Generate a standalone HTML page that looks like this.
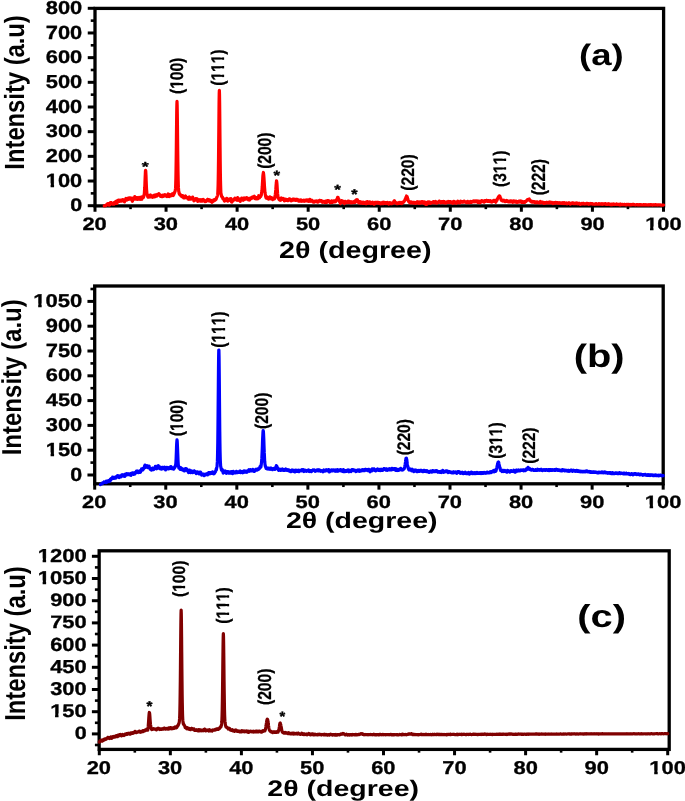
<!DOCTYPE html>
<html><head><meta charset="utf-8"><title>XRD patterns</title>
<style>html,body{margin:0;padding:0;background:#fff;}svg{display:block;}body{font-family:"Liberation Sans",sans-serif;}</style></head>
<body>
<svg width="685" height="801" viewBox="0 0 685 801" font-family="'Liberation Sans', sans-serif" text-rendering="geometricPrecision" style="font-kerning:none">
<rect width="685" height="801" fill="#fff"/>
<rect x="95.00" y="8.40" width="568.60" height="197.50" fill="none" stroke="#000" stroke-width="3.3"/>
<line x1="95.00" y1="205.90" x2="95.00" y2="211.75" stroke="#000" stroke-width="3.0"/>
<line x1="130.53" y1="205.90" x2="130.53" y2="209.15" stroke="#000" stroke-width="2.6"/>
<line x1="166.06" y1="205.90" x2="166.06" y2="211.75" stroke="#000" stroke-width="3.0"/>
<line x1="201.59" y1="205.90" x2="201.59" y2="209.15" stroke="#000" stroke-width="2.6"/>
<line x1="237.12" y1="205.90" x2="237.12" y2="211.75" stroke="#000" stroke-width="3.0"/>
<line x1="272.65" y1="205.90" x2="272.65" y2="209.15" stroke="#000" stroke-width="2.6"/>
<line x1="308.18" y1="205.90" x2="308.18" y2="211.75" stroke="#000" stroke-width="3.0"/>
<line x1="343.71" y1="205.90" x2="343.71" y2="209.15" stroke="#000" stroke-width="2.6"/>
<line x1="379.24" y1="205.90" x2="379.24" y2="211.75" stroke="#000" stroke-width="3.0"/>
<line x1="414.77" y1="205.90" x2="414.77" y2="209.15" stroke="#000" stroke-width="2.6"/>
<line x1="450.30" y1="205.90" x2="450.30" y2="211.75" stroke="#000" stroke-width="3.0"/>
<line x1="485.83" y1="205.90" x2="485.83" y2="209.15" stroke="#000" stroke-width="2.6"/>
<line x1="521.36" y1="205.90" x2="521.36" y2="211.75" stroke="#000" stroke-width="3.0"/>
<line x1="556.89" y1="205.90" x2="556.89" y2="209.15" stroke="#000" stroke-width="2.6"/>
<line x1="592.42" y1="205.90" x2="592.42" y2="211.75" stroke="#000" stroke-width="3.0"/>
<line x1="627.95" y1="205.90" x2="627.95" y2="209.15" stroke="#000" stroke-width="2.6"/>
<line x1="663.48" y1="205.90" x2="663.48" y2="211.75" stroke="#000" stroke-width="3.0"/>
<line x1="87.75" y1="205.70" x2="95.00" y2="205.70" stroke="#000" stroke-width="3.0"/>
<line x1="90.75" y1="193.36" x2="95.00" y2="193.36" stroke="#000" stroke-width="2.6"/>
<line x1="87.75" y1="181.02" x2="95.00" y2="181.02" stroke="#000" stroke-width="3.0"/>
<line x1="90.75" y1="168.69" x2="95.00" y2="168.69" stroke="#000" stroke-width="2.6"/>
<line x1="87.75" y1="156.35" x2="95.00" y2="156.35" stroke="#000" stroke-width="3.0"/>
<line x1="90.75" y1="144.01" x2="95.00" y2="144.01" stroke="#000" stroke-width="2.6"/>
<line x1="87.75" y1="131.67" x2="95.00" y2="131.67" stroke="#000" stroke-width="3.0"/>
<line x1="90.75" y1="119.34" x2="95.00" y2="119.34" stroke="#000" stroke-width="2.6"/>
<line x1="87.75" y1="107.00" x2="95.00" y2="107.00" stroke="#000" stroke-width="3.0"/>
<line x1="90.75" y1="94.66" x2="95.00" y2="94.66" stroke="#000" stroke-width="2.6"/>
<line x1="87.75" y1="82.32" x2="95.00" y2="82.32" stroke="#000" stroke-width="3.0"/>
<line x1="90.75" y1="69.99" x2="95.00" y2="69.99" stroke="#000" stroke-width="2.6"/>
<line x1="87.75" y1="57.65" x2="95.00" y2="57.65" stroke="#000" stroke-width="3.0"/>
<line x1="90.75" y1="45.31" x2="95.00" y2="45.31" stroke="#000" stroke-width="2.6"/>
<line x1="87.75" y1="32.97" x2="95.00" y2="32.97" stroke="#000" stroke-width="3.0"/>
<line x1="90.75" y1="20.64" x2="95.00" y2="20.64" stroke="#000" stroke-width="2.6"/>
<line x1="87.75" y1="8.30" x2="95.00" y2="8.30" stroke="#000" stroke-width="3.0"/>
<polyline points="104.24,205.92 104.38,205.96 104.52,205.75 104.66,205.80 104.81,205.74 104.95,205.81 105.09,205.86 105.23,205.68 105.37,205.56 105.52,205.66 105.66,205.59 105.80,205.43 105.94,205.60 106.09,205.31 106.23,205.35 106.37,204.94 106.51,205.16 106.65,204.64 106.80,204.93 106.94,204.34 107.08,204.77 107.22,204.34 107.36,203.98 107.51,204.24 107.65,204.37 107.79,204.12 107.93,204.25 108.08,204.46 108.22,204.39 108.36,203.69 108.50,204.32 108.64,204.54 108.79,204.52 108.93,204.73 109.07,204.29 109.21,205.22 109.35,204.75 109.50,204.63 109.64,204.87 109.78,204.72 109.92,204.20 110.06,203.72 110.21,203.93 110.35,203.48 110.49,202.51 110.63,202.68 110.78,203.10 110.92,202.94 111.06,202.93 111.20,202.99 111.34,202.89 111.49,203.51 111.63,203.00 111.77,203.23 111.91,203.63 112.05,203.94 112.20,203.89 112.34,204.05 112.48,203.35 112.62,203.82 112.77,203.53 112.91,203.03 113.05,203.41 113.19,204.24 113.33,203.88 113.48,203.54 113.62,202.96 113.76,203.43 113.90,203.33 114.04,203.50 114.19,204.17 114.33,203.52 114.47,203.23 114.61,202.61 114.75,202.35 114.90,202.52 115.04,202.25 115.18,203.33 115.32,202.02 115.47,201.88 115.61,202.46 115.75,202.00 115.89,201.44 116.03,202.51 116.18,202.23 116.32,202.17 116.46,203.12 116.60,203.51 116.74,203.52 116.89,203.50 117.03,203.13 117.17,202.07 117.31,201.21 117.45,200.66 117.60,201.26 117.74,201.67 117.88,201.47 118.02,201.51 118.17,201.58 118.31,200.77 118.45,201.08 118.59,200.02 118.73,200.79 118.88,200.60 119.02,200.34 119.16,200.24 119.30,200.11 119.44,200.72 119.59,201.28 119.73,200.79 119.87,201.26 120.01,200.78 120.16,201.11 120.30,200.61 120.44,201.11 120.58,200.86 120.72,201.00 120.87,200.56 121.01,200.25 121.15,200.48 121.29,200.91 121.43,201.02 121.58,200.30 121.72,200.74 121.86,200.73 122.00,200.60 122.14,199.87 122.29,200.59 122.43,200.11 122.57,200.94 122.71,200.81 122.86,200.76 123.00,199.57 123.14,200.80 123.28,200.85 123.42,200.13 123.57,201.00 123.71,200.69 123.85,200.61 123.99,200.44 124.13,200.34 124.28,200.59 124.42,201.95 124.56,200.88 124.70,200.74 124.85,200.28 124.99,200.14 125.13,200.03 125.27,199.76 125.41,200.21 125.56,199.49 125.70,199.64 125.84,198.58 125.98,199.09 126.12,198.44 126.27,199.00 126.41,199.00 126.55,199.00 126.69,200.09 126.83,199.76 126.98,199.87 127.12,199.29 127.26,199.40 127.40,198.87 127.55,198.83 127.69,198.55 127.83,198.29 127.97,198.15 128.11,198.99 128.26,199.30 128.40,199.35 128.54,198.62 128.68,199.09 128.82,198.81 128.97,198.58 129.11,198.44 129.25,197.96 129.39,198.33 129.54,198.76 129.68,198.38 129.82,198.19 129.96,198.86 130.10,199.00 130.25,198.10 130.39,198.42 130.53,198.78 130.67,198.37 130.81,198.34 130.96,197.94 131.10,198.87 131.24,199.29 131.38,198.66 131.52,198.56 131.67,198.64 131.81,199.80 131.95,199.88 132.09,199.92 132.24,201.06 132.38,201.26 132.52,200.75 132.66,199.39 132.80,199.57 132.95,199.39 133.09,198.23 133.23,198.87 133.37,199.15 133.51,199.09 133.66,198.52 133.80,198.62 133.94,199.34 134.08,199.06 134.23,198.84 134.37,198.53 134.51,197.73 134.65,197.31 134.79,196.67 134.94,197.78 135.08,198.46 135.22,197.53 135.36,197.64 135.50,198.18 135.65,198.17 135.79,197.61 135.93,197.97 136.07,197.96 136.21,199.28 136.36,198.26 136.50,198.77 136.64,199.09 136.78,198.99 136.93,198.73 137.07,198.72 137.21,197.70 137.35,198.11 137.49,198.03 137.64,198.27 137.78,199.44 137.92,197.83 138.06,198.65 138.20,197.95 138.35,198.90 138.49,198.85 138.63,198.14 138.77,198.98 138.92,198.09 139.06,198.41 139.20,197.90 139.34,197.42 139.48,197.52 139.63,197.83 139.77,198.31 139.91,198.33 140.05,199.38 140.19,198.61 140.34,198.32 140.48,198.04 140.62,197.79 140.76,197.30 140.90,197.23 141.05,197.97 141.19,197.93 141.33,198.12 141.47,198.60 141.62,199.15 141.76,199.25 141.90,198.93 142.04,198.04 142.18,197.77 142.33,197.19 142.47,197.05 142.61,196.62 142.75,196.85 142.89,196.99 143.04,197.04 143.18,197.08 143.32,197.05 143.46,197.52 143.61,196.65 143.75,196.08 143.89,196.13 144.03,195.06 144.17,194.32 144.32,193.76 144.46,191.63 144.60,189.01 144.74,187.74 144.88,184.92 145.03,180.18 145.17,176.79 145.31,174.12 145.45,170.86 145.59,170.32 145.74,170.90 145.88,173.52 146.02,176.02 146.16,180.74 146.31,184.01 146.45,187.55 146.59,189.84 146.73,191.10 146.87,193.24 147.02,193.71 147.16,194.78 147.30,194.90 147.44,195.56 147.58,195.94 147.73,196.59 147.87,196.83 148.01,196.38 148.15,196.71 148.30,197.22 148.44,196.79 148.58,196.26 148.72,196.42 148.86,196.28 149.01,196.72 149.15,196.32 149.29,196.39 149.43,197.03 149.57,195.61 149.72,195.63 149.86,195.24 150.00,195.18 150.14,195.99 150.28,195.66 150.43,196.21 150.57,195.04 150.71,195.65 150.85,196.74 151.00,196.77 151.14,196.91 151.28,196.86 151.42,196.50 151.56,196.43 151.71,196.40 151.85,196.66 151.99,196.32 152.13,196.64 152.27,197.21 152.42,196.37 152.56,196.65 152.70,197.28 152.84,196.69 152.98,196.45 153.13,197.03 153.27,196.11 153.41,195.52 153.55,196.00 153.70,196.64 153.84,195.37 153.98,195.64 154.12,196.04 154.26,195.85 154.41,196.89 154.55,196.24 154.69,195.86 154.83,196.17 154.97,195.66 155.12,195.69 155.26,195.91 155.40,196.73 155.54,194.92 155.69,195.88 155.83,196.19 155.97,195.92 156.11,196.34 156.25,195.75 156.40,195.61 156.54,195.47 156.68,195.17 156.82,196.09 156.96,194.99 157.11,195.37 157.25,195.20 157.39,195.07 157.53,194.40 157.67,194.98 157.82,195.05 157.96,194.93 158.10,195.08 158.24,194.60 158.39,194.34 158.53,194.62 158.67,194.69 158.81,194.01 158.95,193.70 159.10,193.95 159.24,194.81 159.38,194.87 159.52,194.24 159.66,194.70 159.81,195.09 159.95,195.41 160.09,194.78 160.23,195.08 160.38,195.84 160.52,196.35 160.66,196.14 160.80,195.25 160.94,195.97 161.09,195.81 161.23,196.03 161.37,195.83 161.51,195.83 161.65,195.95 161.80,196.57 161.94,196.09 162.08,195.92 162.22,195.78 162.36,195.50 162.51,195.71 162.65,196.29 162.79,196.14 162.93,196.57 163.08,195.89 163.22,195.75 163.36,195.11 163.50,195.85 163.64,195.01 163.79,196.24 163.93,195.41 164.07,195.65 164.21,195.13 164.35,195.45 164.50,195.25 164.64,195.97 164.78,195.57 164.92,194.96 165.07,194.61 165.21,195.25 165.35,195.17 165.49,195.01 165.63,195.73 165.78,195.51 165.92,195.70 166.06,195.53 166.20,195.67 166.34,195.84 166.49,195.53 166.63,196.51 166.77,196.55 166.91,195.47 167.05,195.88 167.20,196.01 167.34,195.39 167.48,195.51 167.62,194.76 167.77,194.81 167.91,194.26 168.05,194.36 168.19,193.96 168.33,194.26 168.48,195.03 168.62,195.47 168.76,196.05 168.90,195.99 169.04,195.90 169.19,196.49 169.33,196.04 169.47,196.54 169.61,196.37 169.76,195.75 169.90,194.71 170.04,195.02 170.18,195.36 170.32,195.09 170.47,195.63 170.61,195.75 170.75,195.82 170.89,195.54 171.03,195.06 171.18,195.03 171.32,195.24 171.46,195.73 171.60,195.51 171.74,194.96 171.89,194.41 172.03,194.20 172.17,193.92 172.31,194.13 172.46,194.35 172.60,193.81 172.74,195.13 172.88,195.28 173.02,195.32 173.17,195.50 173.31,195.21 173.45,194.87 173.59,194.04 173.73,194.50 173.88,194.38 174.02,193.80 174.16,192.84 174.30,193.24 174.45,192.95 174.59,192.34 174.73,192.28 174.87,191.78 175.01,191.37 175.16,191.37 175.30,190.30 175.44,189.18 175.58,188.14 175.72,183.75 175.87,178.44 176.01,170.62 176.15,161.87 176.29,150.57 176.43,137.06 176.58,124.10 176.72,111.74 176.86,104.69 177.00,101.38 177.15,104.89 177.29,113.31 177.43,124.36 177.57,137.97 177.71,150.69 177.86,162.06 178.00,171.49 178.14,178.45 178.28,184.37 178.42,187.66 178.57,189.19 178.71,191.34 178.85,191.69 178.99,192.06 179.14,193.58 179.28,193.05 179.42,194.21 179.56,194.02 179.70,194.46 179.85,194.46 179.99,194.85 180.13,194.67 180.27,194.85 180.41,194.82 180.56,195.22 180.70,194.73 180.84,195.33 180.98,195.84 181.12,195.55 181.27,196.04 181.41,195.98 181.55,196.35 181.69,196.62 181.84,196.23 181.98,195.86 182.12,196.02 182.26,195.92 182.40,195.79 182.55,196.23 182.69,195.57 182.83,197.06 182.97,196.74 183.11,196.79 183.26,197.13 183.40,197.55 183.54,197.81 183.68,197.45 183.82,197.75 183.97,197.18 184.11,197.72 184.25,197.49 184.39,197.24 184.54,197.60 184.68,197.81 184.82,197.38 184.96,196.55 185.10,197.27 185.25,196.41 185.39,196.36 185.53,195.99 185.67,196.53 185.81,196.71 185.96,196.70 186.10,196.71 186.24,196.88 186.38,196.94 186.53,197.64 186.67,197.25 186.81,197.57 186.95,197.72 187.09,197.69 187.24,197.95 187.38,197.55 187.52,198.32 187.66,198.44 187.80,198.18 187.95,198.99 188.09,198.26 188.23,198.93 188.37,199.06 188.51,198.84 188.66,199.11 188.80,199.23 188.94,198.62 189.08,198.40 189.23,198.52 189.37,197.77 189.51,196.99 189.65,197.50 189.79,198.24 189.94,198.04 190.08,197.84 190.22,197.66 190.36,198.63 190.50,199.18 190.65,198.25 190.79,198.02 190.93,199.13 191.07,198.75 191.22,198.77 191.36,198.68 191.50,198.39 191.64,198.81 191.78,198.91 191.93,198.45 192.07,197.85 192.21,198.19 192.35,197.50 192.49,197.50 192.64,197.03 192.78,198.05 192.92,198.52 193.06,199.15 193.20,199.11 193.35,199.70 193.49,199.54 193.63,200.30 193.77,200.48 193.92,200.81 194.06,200.48 194.20,200.21 194.34,200.50 194.48,200.30 194.63,199.96 194.77,200.32 194.91,200.31 195.05,199.88 195.19,199.92 195.34,199.42 195.48,198.69 195.62,198.61 195.76,198.62 195.91,199.08 196.05,199.25 196.19,199.04 196.33,199.45 196.47,198.85 196.62,199.21 196.76,199.90 196.90,199.61 197.04,199.93 197.18,198.95 197.33,199.23 197.47,199.83 197.61,200.83 197.75,201.36 197.89,200.84 198.04,201.01 198.18,200.78 198.32,200.60 198.46,200.91 198.61,200.37 198.75,200.96 198.89,200.40 199.03,199.84 199.17,200.13 199.32,199.94 199.46,200.24 199.60,200.23 199.74,199.97 199.88,200.63 200.03,200.71 200.17,200.67 200.31,200.99 200.45,201.15 200.60,200.60 200.74,200.27 200.88,200.80 201.02,200.14 201.16,199.73 201.31,200.38 201.45,199.94 201.59,200.76 201.73,200.50 201.87,201.11 202.02,200.59 202.16,200.67 202.30,200.96 202.44,200.26 202.58,199.58 202.73,200.35 202.87,199.53 203.01,200.34 203.15,199.65 203.30,199.35 203.44,200.60 203.58,199.88 203.72,200.48 203.86,200.81 204.01,200.06 204.15,200.73 204.29,200.67 204.43,201.20 204.57,201.08 204.72,200.73 204.86,201.32 205.00,201.68 205.14,201.30 205.29,201.53 205.43,201.05 205.57,201.14 205.71,201.20 205.85,201.04 206.00,201.42 206.14,201.27 206.28,201.20 206.42,201.13 206.56,200.89 206.71,200.27 206.85,200.82 206.99,200.81 207.13,200.01 207.27,199.59 207.42,199.41 207.56,200.01 207.70,199.83 207.84,199.53 207.99,199.97 208.13,199.91 208.27,200.20 208.41,199.98 208.55,200.01 208.70,200.88 208.84,200.75 208.98,199.82 209.12,200.07 209.26,200.28 209.41,200.32 209.55,199.99 209.69,200.82 209.83,200.01 209.98,200.99 210.12,201.14 210.26,200.91 210.40,200.96 210.54,201.36 210.69,201.28 210.83,200.37 210.97,200.56 211.11,201.09 211.25,200.75 211.40,200.66 211.54,200.59 211.68,200.84 211.82,200.95 211.96,202.37 212.11,201.05 212.25,201.96 212.39,201.48 212.53,201.28 212.68,201.17 212.82,200.86 212.96,201.48 213.10,201.00 213.24,200.70 213.39,200.56 213.53,200.57 213.67,199.98 213.81,200.26 213.95,200.13 214.10,200.56 214.24,200.53 214.38,199.61 214.52,200.15 214.67,200.52 214.81,199.64 214.95,199.60 215.09,200.30 215.23,199.81 215.38,199.62 215.52,199.25 215.66,199.65 215.80,199.29 215.94,199.45 216.09,199.30 216.23,199.05 216.37,198.32 216.51,197.88 216.65,197.70 216.80,197.25 216.94,197.13 217.08,196.62 217.22,196.41 217.37,195.87 217.51,195.26 217.65,194.48 217.79,193.10 217.93,189.80 218.08,186.04 218.22,179.79 218.36,171.07 218.50,160.41 218.64,146.60 218.79,131.93 218.93,116.55 219.07,101.77 219.21,93.68 219.36,90.25 219.50,94.18 219.64,102.70 219.78,116.87 219.92,132.56 220.07,147.31 220.21,161.60 220.35,172.34 220.49,180.17 220.63,185.82 220.78,189.98 220.92,193.48 221.06,194.93 221.20,194.22 221.34,195.03 221.49,196.31 221.63,196.26 221.77,196.24 221.91,196.82 222.06,196.76 222.20,196.93 222.34,197.14 222.48,197.01 222.62,198.20 222.77,197.89 222.91,198.78 223.05,198.93 223.19,198.83 223.33,198.99 223.48,199.04 223.62,198.51 223.76,199.16 223.90,199.64 224.04,199.24 224.19,199.61 224.33,200.84 224.47,201.05 224.61,200.52 224.76,201.05 224.90,200.68 225.04,200.85 225.18,200.19 225.32,200.03 225.47,199.69 225.61,199.92 225.75,199.71 225.89,199.42 226.03,199.42 226.18,199.16 226.32,199.46 226.46,198.68 226.60,198.29 226.75,198.30 226.89,198.83 227.03,198.40 227.17,199.30 227.31,199.81 227.46,199.85 227.60,200.78 227.74,201.16 227.88,200.82 228.02,200.44 228.17,200.52 228.31,199.94 228.45,200.14 228.59,199.85 228.73,199.99 228.88,199.73 229.02,199.16 229.16,199.47 229.30,199.37 229.45,199.18 229.59,199.12 229.73,199.77 229.87,198.95 230.01,199.82 230.16,200.23 230.30,200.51 230.44,199.32 230.58,199.90 230.72,199.96 230.87,199.58 231.01,198.69 231.15,200.54 231.29,200.84 231.44,201.75 231.58,201.94 231.72,201.95 231.86,201.80 232.00,202.11 232.15,201.59 232.29,200.89 232.43,200.84 232.57,200.94 232.71,200.76 232.86,200.47 233.00,200.18 233.14,200.08 233.28,200.11 233.42,199.97 233.57,199.51 233.71,199.47 233.85,200.19 233.99,199.38 234.14,199.07 234.28,199.28 234.42,199.56 234.56,199.25 234.70,198.41 234.85,198.19 234.99,198.61 235.13,198.71 235.27,199.08 235.41,199.68 235.56,199.37 235.70,199.29 235.84,199.29 235.98,199.19 236.13,198.75 236.27,198.56 236.41,198.48 236.55,198.86 236.69,199.57 236.84,199.55 236.98,198.79 237.12,200.37 237.26,199.78 237.40,199.16 237.55,199.03 237.69,197.71 237.83,197.86 237.97,198.76 238.11,199.24 238.26,199.40 238.40,198.51 238.54,198.93 238.68,199.33 238.83,198.87 238.97,200.17 239.11,199.55 239.25,200.18 239.39,199.90 239.54,200.58 239.68,200.49 239.82,200.93 239.96,200.17 240.10,200.62 240.25,201.32 240.39,199.90 240.53,200.09 240.67,199.77 240.82,199.09 240.96,198.82 241.10,199.22 241.24,199.07 241.38,198.82 241.53,198.66 241.67,198.11 241.81,198.50 241.95,199.38 242.09,199.40 242.24,198.81 242.38,198.83 242.52,199.61 242.66,200.02 242.80,199.75 242.95,199.81 243.09,200.02 243.23,200.19 243.37,199.92 243.52,200.05 243.66,198.86 243.80,199.28 243.94,199.03 244.08,198.11 244.23,198.96 244.37,197.97 244.51,198.04 244.65,199.51 244.79,199.04 244.94,198.73 245.08,199.06 245.22,198.96 245.36,198.13 245.51,198.69 245.65,198.99 245.79,198.39 245.93,198.39 246.07,198.12 246.22,198.46 246.36,197.93 246.50,197.84 246.64,197.65 246.78,197.80 246.93,198.24 247.07,198.38 247.21,198.11 247.35,198.00 247.49,198.71 247.64,198.93 247.78,199.46 247.92,199.05 248.06,199.29 248.21,199.53 248.35,199.80 248.49,199.15 248.63,199.05 248.77,198.66 248.92,198.89 249.06,199.50 249.20,199.61 249.34,199.85 249.48,199.01 249.63,200.04 249.77,199.13 249.91,199.39 250.05,198.07 250.20,198.59 250.34,198.04 250.48,198.65 250.62,198.21 250.76,198.60 250.91,197.96 251.05,198.79 251.19,197.91 251.33,198.61 251.47,197.65 251.62,197.35 251.76,197.89 251.90,197.31 252.04,197.41 252.18,197.04 252.33,197.47 252.47,197.72 252.61,197.51 252.75,197.98 252.90,196.86 253.04,197.83 253.18,197.21 253.32,197.71 253.46,196.90 253.61,196.67 253.75,196.67 253.89,196.85 254.03,196.88 254.17,196.43 254.32,196.24 254.46,196.94 254.60,197.36 254.74,196.72 254.88,197.24 255.03,197.64 255.17,198.66 255.31,198.55 255.45,198.46 255.60,198.42 255.74,197.91 255.88,198.77 256.02,198.12 256.16,197.92 256.31,198.80 256.45,197.53 256.59,198.44 256.73,198.01 256.87,197.66 257.02,198.10 257.16,197.78 257.30,198.19 257.44,197.94 257.59,197.60 257.73,198.82 257.87,197.55 258.01,197.93 258.15,197.42 258.30,197.53 258.44,196.70 258.58,196.64 258.72,195.71 258.86,197.08 259.01,196.73 259.15,196.22 259.29,196.99 259.43,196.97 259.57,197.84 259.72,196.95 259.86,197.16 260.00,196.95 260.14,196.90 260.29,196.50 260.43,196.23 260.57,196.48 260.71,196.46 260.85,195.37 261.00,195.08 261.14,195.10 261.28,195.27 261.42,193.95 261.56,192.66 261.71,192.55 261.85,191.31 261.99,190.22 262.13,187.85 262.28,186.55 262.42,183.46 262.56,181.75 262.70,179.16 262.84,176.47 262.99,174.90 263.13,174.06 263.27,173.15 263.41,172.47 263.55,173.54 263.70,174.69 263.84,176.32 263.98,178.16 264.12,180.47 264.26,182.47 264.41,185.11 264.55,187.35 264.69,188.96 264.83,190.77 264.98,192.31 265.12,193.43 265.26,194.58 265.40,194.80 265.54,195.79 265.69,196.65 265.83,196.95 265.97,197.65 266.11,197.58 266.25,198.15 266.40,197.62 266.54,197.24 266.68,197.84 266.82,198.08 266.97,196.94 267.11,197.68 267.25,197.85 267.39,198.29 267.53,198.56 267.68,198.09 267.82,197.73 267.96,198.63 268.10,198.86 268.24,198.79 268.39,198.77 268.53,198.26 268.67,199.19 268.81,197.72 268.95,197.41 269.10,198.07 269.24,197.67 269.38,197.70 269.52,197.49 269.67,197.84 269.81,197.64 269.95,196.85 270.09,197.72 270.23,197.30 270.38,197.44 270.52,198.78 270.66,198.54 270.80,198.03 270.94,198.60 271.09,198.22 271.23,198.46 271.37,198.10 271.51,197.68 271.66,197.94 271.80,198.68 271.94,198.33 272.08,198.92 272.22,198.76 272.37,199.32 272.51,199.66 272.65,199.11 272.79,199.18 272.93,198.82 273.08,198.21 273.22,198.50 273.36,198.69 273.50,198.88 273.64,198.58 273.79,199.06 273.93,198.60 274.07,198.81 274.21,198.72 274.36,198.25 274.50,198.89 274.64,198.41 274.78,197.92 274.92,197.24 275.07,195.73 275.21,194.95 275.35,193.80 275.49,193.12 275.63,191.22 275.78,189.95 275.92,187.48 276.06,185.61 276.20,184.01 276.35,182.78 276.49,180.82 276.63,181.18 276.77,182.10 276.91,183.46 277.06,185.40 277.20,187.96 277.34,190.04 277.48,191.63 277.62,193.90 277.77,194.76 277.91,195.97 278.05,197.35 278.19,198.22 278.33,198.25 278.48,198.15 278.62,197.97 278.76,198.22 278.90,199.28 279.05,199.03 279.19,198.64 279.33,199.85 279.47,199.57 279.61,199.89 279.76,199.64 279.90,198.82 280.04,199.37 280.18,199.63 280.32,199.68 280.47,200.31 280.61,199.62 280.75,199.87 280.89,199.94 281.04,199.66 281.18,199.06 281.32,198.73 281.46,197.99 281.60,198.71 281.75,198.47 281.89,198.76 282.03,198.49 282.17,199.00 282.31,198.83 282.46,198.96 282.60,199.25 282.74,199.17 282.88,198.98 283.02,198.59 283.17,198.30 283.31,198.95 283.45,199.18 283.59,198.83 283.74,198.97 283.88,199.74 284.02,200.00 284.16,199.66 284.30,200.81 284.45,199.42 284.59,199.92 284.73,200.36 284.87,200.57 285.01,199.46 285.16,199.78 285.30,200.24 285.44,200.08 285.58,199.36 285.73,199.57 285.87,199.37 286.01,199.91 286.15,199.54 286.29,199.32 286.44,199.54 286.58,200.06 286.72,199.60 286.86,200.40 287.00,200.45 287.15,200.35 287.29,200.32 287.43,200.56 287.57,200.35 287.71,200.63 287.86,200.58 288.00,200.62 288.14,199.82 288.28,199.73 288.43,199.41 288.57,199.81 288.71,199.49 288.85,199.06 288.99,198.99 289.14,199.12 289.28,199.59 289.42,199.26 289.56,199.22 289.70,199.08 289.85,199.27 289.99,199.83 290.13,199.08 290.27,199.19 290.41,200.12 290.56,200.07 290.70,199.73 290.84,200.72 290.98,200.23 291.13,200.91 291.27,199.82 291.41,200.24 291.55,200.77 291.69,200.20 291.84,200.07 291.98,200.18 292.12,200.02 292.26,199.73 292.40,199.52 292.55,200.17 292.69,200.01 292.83,199.67 292.97,199.22 293.12,199.45 293.26,199.55 293.40,199.83 293.54,200.16 293.68,199.46 293.83,199.65 293.97,199.44 294.11,199.63 294.25,199.39 294.39,199.76 294.54,200.05 294.68,199.59 294.82,199.64 294.96,199.82 295.10,199.34 295.25,200.32 295.39,199.30 295.53,199.59 295.67,199.40 295.82,200.16 295.96,199.54 296.10,199.54 296.24,200.31 296.38,199.69 296.53,199.49 296.67,199.66 296.81,199.65 296.95,199.28 297.09,199.39 297.24,199.31 297.38,199.61 297.52,199.71 297.66,199.83 297.81,199.62 297.95,200.00 298.09,199.76 298.23,200.44 298.37,200.46 298.52,200.46 298.66,201.23 298.80,200.62 298.94,200.87 299.08,200.81 299.23,200.91 299.37,200.46 299.51,200.37 299.65,200.05 299.79,200.63 299.94,200.32 300.08,201.20 300.22,200.72 300.36,200.09 300.51,200.82 300.65,200.43 300.79,200.71 300.93,200.02 301.07,200.70 301.22,200.66 301.36,200.24 301.50,200.14 301.64,200.33 301.78,200.57 301.93,201.26 302.07,201.12 302.21,201.07 302.35,200.58 302.50,200.59 302.64,200.84 302.78,200.69 302.92,200.54 303.06,200.52 303.21,200.75 303.35,200.38 303.49,200.38 303.63,200.24 303.77,200.35 303.92,200.41 304.06,200.99 304.20,200.78 304.34,201.26 304.48,200.77 304.63,201.16 304.77,200.43 304.91,200.75 305.05,200.86 305.20,200.65 305.34,200.72 305.48,200.39 305.62,200.53 305.76,200.29 305.91,200.40 306.05,200.32 306.19,200.11 306.33,200.30 306.47,200.44 306.62,200.05 306.76,200.46 306.90,200.80 307.04,200.35 307.19,200.57 307.33,200.58 307.47,200.15 307.61,200.78 307.75,201.14 307.90,200.10 308.04,201.04 308.18,200.20 308.32,200.95 308.46,200.19 308.61,201.27 308.75,201.18 308.89,200.97 309.03,201.31 309.17,200.93 309.32,200.66 309.46,200.72 309.60,200.25 309.74,199.25 309.89,199.85 310.03,200.30 310.17,200.41 310.31,201.10 310.45,200.28 310.60,201.11 310.74,201.03 310.88,201.21 311.02,200.58 311.16,200.57 311.31,200.88 311.45,200.94 311.59,200.40 311.73,201.05 311.88,200.95 312.02,201.18 312.16,200.21 312.30,201.18 312.44,200.86 312.59,201.05 312.73,201.49 312.87,201.82 313.01,201.47 313.15,201.50 313.30,202.01 313.44,201.48 313.58,201.80 313.72,201.80 313.86,201.56 314.01,201.80 314.15,202.23 314.29,201.62 314.43,201.59 314.58,201.38 314.72,201.70 314.86,201.41 315.00,201.09 315.14,201.35 315.29,201.71 315.43,201.24 315.57,201.56 315.71,201.16 315.85,201.71 316.00,201.17 316.14,201.28 316.28,201.07 316.42,201.44 316.57,201.19 316.71,200.88 316.85,201.43 316.99,201.11 317.13,201.97 317.28,201.88 317.42,201.77 317.56,202.06 317.70,201.13 317.84,202.16 317.99,201.43 318.13,201.68 318.27,202.09 318.41,200.80 318.55,201.07 318.70,201.21 318.84,201.17 318.98,200.51 319.12,200.65 319.27,201.29 319.41,200.70 319.55,201.02 319.69,200.47 319.83,200.59 319.98,200.34 320.12,200.93 320.26,201.20 320.40,200.92 320.54,200.84 320.69,201.00 320.83,201.06 320.97,200.83 321.11,201.04 321.26,201.40 321.40,201.46 321.54,200.66 321.68,200.71 321.82,201.82 321.97,201.80 322.11,202.10 322.25,202.16 322.39,202.02 322.53,202.28 322.68,202.26 322.82,202.21 322.96,201.52 323.10,202.03 323.24,201.61 323.39,201.55 323.53,201.70 323.67,201.45 323.81,202.13 323.96,201.70 324.10,201.78 324.24,201.82 324.38,202.10 324.52,202.13 324.67,202.51 324.81,202.40 324.95,202.20 325.09,201.43 325.23,201.49 325.38,201.41 325.52,201.03 325.66,201.60 325.80,201.59 325.94,201.78 326.09,202.00 326.23,201.86 326.37,202.47 326.51,202.33 326.66,201.90 326.80,202.19 326.94,202.27 327.08,201.76 327.22,201.66 327.37,201.73 327.51,200.62 327.65,200.75 327.79,200.99 327.93,201.07 328.08,200.65 328.22,201.14 328.36,201.51 328.50,200.96 328.65,200.93 328.79,201.02 328.93,200.79 329.07,201.27 329.21,201.23 329.36,201.45 329.50,201.81 329.64,201.60 329.78,201.82 329.92,202.03 330.07,202.59 330.21,201.82 330.35,202.26 330.49,202.13 330.63,202.37 330.78,202.60 330.92,202.43 331.06,202.38 331.20,202.00 331.35,201.53 331.49,201.31 331.63,200.88 331.77,201.31 331.91,201.35 332.06,201.91 332.20,202.15 332.34,201.86 332.48,202.02 332.62,202.35 332.77,201.81 332.91,201.98 333.05,201.96 333.19,201.55 333.34,202.08 333.48,201.38 333.62,201.71 333.76,201.48 333.90,200.80 334.05,201.54 334.19,201.53 334.33,201.72 334.47,201.50 334.61,201.32 334.76,201.36 334.90,201.41 335.04,201.71 335.18,201.43 335.32,201.83 335.47,201.71 335.61,201.24 335.75,201.52 335.89,200.39 336.04,200.76 336.18,200.20 336.32,200.13 336.46,200.23 336.60,199.74 336.75,199.49 336.89,199.66 337.03,198.85 337.17,198.58 337.31,198.73 337.46,198.30 337.60,197.46 337.74,197.66 337.88,197.69 338.03,197.46 338.17,197.60 338.31,198.04 338.45,198.43 338.59,198.61 338.74,199.51 338.88,199.33 339.02,200.22 339.16,201.31 339.30,200.89 339.45,201.61 339.59,201.35 339.73,202.02 339.87,202.18 340.01,202.72 340.16,202.76 340.30,203.55 340.44,202.59 340.58,202.61 340.73,202.44 340.87,202.30 341.01,202.11 341.15,201.26 341.29,202.17 341.44,201.37 341.58,201.14 341.72,200.77 341.86,200.98 342.00,200.75 342.15,201.41 342.29,201.33 342.43,201.71 342.57,201.53 342.72,201.81 342.86,202.35 343.00,202.02 343.14,201.70 343.28,201.35 343.43,201.97 343.57,201.38 343.71,201.74 343.85,202.75 343.99,202.51 344.14,203.32 344.28,203.18 344.42,203.49 344.56,203.26 344.70,202.80 344.85,202.35 344.99,202.55 345.13,202.66 345.27,202.20 345.42,201.25 345.56,201.82 345.70,201.71 345.84,201.81 345.98,201.89 346.13,202.46 346.27,201.96 346.41,202.58 346.55,202.08 346.69,201.99 346.84,202.28 346.98,202.32 347.12,202.24 347.26,202.26 347.41,202.51 347.55,202.30 347.69,201.97 347.83,201.80 347.97,201.36 348.12,201.09 348.26,201.07 348.40,201.45 348.54,201.36 348.68,201.69 348.83,202.08 348.97,202.10 349.11,202.34 349.25,201.75 349.39,201.44 349.54,201.77 349.68,202.64 349.82,202.32 349.96,202.03 350.11,202.54 350.25,202.10 350.39,202.69 350.53,202.15 350.67,202.16 350.82,202.47 350.96,201.98 351.10,202.26 351.24,202.85 351.38,202.40 351.53,201.94 351.67,202.13 351.81,202.15 351.95,201.91 352.10,202.23 352.24,202.51 352.38,202.24 352.52,202.51 352.66,202.40 352.81,202.41 352.95,202.10 353.09,202.49 353.23,202.53 353.37,201.96 353.52,201.77 353.66,202.10 353.80,201.95 353.94,202.18 354.08,201.97 354.23,201.74 354.37,201.33 354.51,202.05 354.65,202.06 354.80,201.81 354.94,201.85 355.08,201.83 355.22,202.37 355.36,201.76 355.51,200.63 355.65,200.93 355.79,200.63 355.93,200.42 356.07,200.24 356.22,199.96 356.36,200.15 356.50,200.20 356.64,199.91 356.79,200.43 356.93,199.97 357.07,199.81 357.21,200.16 357.35,199.80 357.50,200.19 357.64,200.36 357.78,200.88 357.92,201.38 358.06,200.95 358.21,201.99 358.35,202.17 358.49,202.21 358.63,202.61 358.77,202.65 358.92,202.58 359.06,202.52 359.20,202.82 359.34,202.64 359.49,201.85 359.63,201.87 359.77,201.56 359.91,202.13 360.05,201.97 360.20,202.02 360.34,203.00 360.48,202.94 360.62,203.10 360.76,202.97 360.91,202.73 361.05,202.65 361.19,202.75 361.33,202.50 361.48,202.22 361.62,202.45 361.76,203.01 361.90,202.43 362.04,202.30 362.19,202.77 362.33,202.38 362.47,203.36 362.61,202.77 362.75,202.72 362.90,202.61 363.04,203.04 363.18,202.26 363.32,202.57 363.46,202.16 363.61,202.99 363.75,202.67 363.89,203.27 364.03,202.80 364.18,202.69 364.32,202.88 364.46,203.39 364.60,202.92 364.74,203.08 364.89,202.67 365.03,202.52 365.17,202.42 365.31,202.88 365.45,202.33 365.60,202.90 365.74,203.22 365.88,202.98 366.02,202.96 366.16,203.77 366.31,203.63 366.45,202.87 366.59,202.40 366.73,202.75 366.88,202.29 367.02,202.07 367.16,202.18 367.30,201.63 367.44,202.05 367.59,201.93 367.73,201.98 367.87,202.66 368.01,202.73 368.15,203.28 368.30,202.24 368.44,202.95 368.58,202.74 368.72,203.17 368.87,202.94 369.01,202.53 369.15,202.36 369.29,202.08 369.43,202.22 369.58,202.31 369.72,201.81 369.86,203.09 370.00,202.84 370.14,203.33 370.29,203.23 370.43,203.15 370.57,203.36 370.71,202.80 370.85,203.06 371.00,203.61 371.14,203.30 371.28,203.00 371.42,203.47 371.57,203.16 371.71,203.24 371.85,203.40 371.99,202.38 372.13,202.30 372.28,202.30 372.42,202.12 372.56,202.39 372.70,202.33 372.84,202.68 372.99,202.34 373.13,203.16 373.27,203.70 373.41,203.17 373.56,203.56 373.70,203.94 373.84,204.21 373.98,204.24 374.12,203.61 374.27,203.68 374.41,204.22 374.55,203.55 374.69,203.70 374.83,203.26 374.98,203.19 375.12,202.43 375.26,202.96 375.40,202.38 375.54,202.63 375.69,202.61 375.83,203.23 375.97,203.04 376.11,202.91 376.26,202.63 376.40,202.42 376.54,202.97 376.68,202.64 376.82,202.87 376.97,203.20 377.11,202.87 377.25,202.84 377.39,202.50 377.53,202.99 377.68,202.77 377.82,202.75 377.96,203.09 378.10,202.28 378.25,202.82 378.39,203.08 378.53,203.08 378.67,203.13 378.81,203.18 378.96,202.64 379.10,203.05 379.24,203.40 379.38,203.07 379.52,203.03 379.67,203.32 379.81,202.61 379.95,203.21 380.09,203.52 380.23,203.09 380.38,203.06 380.52,203.55 380.66,203.40 380.80,203.42 380.95,203.81 381.09,203.18 381.23,203.69 381.37,203.04 381.51,203.09 381.66,203.31 381.80,202.97 381.94,202.94 382.08,203.13 382.22,203.06 382.37,203.10 382.51,202.26 382.65,202.89 382.79,202.41 382.94,203.32 383.08,203.69 383.22,203.36 383.36,203.71 383.50,203.61 383.65,203.14 383.79,202.81 383.93,203.20 384.07,202.22 384.21,202.69 384.36,202.96 384.50,202.82 384.64,203.25 384.78,203.28 384.92,203.04 385.07,203.43 385.21,203.17 385.35,202.66 385.49,202.93 385.64,203.12 385.78,203.08 385.92,202.54 386.06,203.62 386.20,202.53 386.35,202.63 386.49,203.03 386.63,202.90 386.77,203.20 386.91,202.78 387.06,202.76 387.20,202.79 387.34,202.46 387.48,202.37 387.63,202.67 387.77,203.14 387.91,202.85 388.05,203.42 388.19,203.15 388.34,203.73 388.48,203.76 388.62,204.20 388.76,204.20 388.90,203.99 389.05,203.55 389.19,203.76 389.33,203.14 389.47,203.03 389.61,202.96 389.76,202.58 389.90,202.64 390.04,202.90 390.18,203.30 390.33,202.70 390.47,202.82 390.61,202.95 390.75,203.22 390.89,203.15 391.04,203.33 391.18,203.74 391.32,203.25 391.46,203.51 391.60,203.14 391.75,203.36 391.89,203.51 392.03,202.79 392.17,203.34 392.32,203.35 392.46,203.23 392.60,203.26 392.74,203.25 392.88,202.71 393.03,202.96 393.17,203.10 393.31,203.19 393.45,202.38 393.59,202.24 393.74,201.69 393.88,201.73 394.02,201.14 394.16,200.89 394.30,201.30 394.45,201.85 394.59,200.82 394.73,202.02 394.87,201.50 395.02,202.13 395.16,202.22 395.30,202.64 395.44,202.42 395.58,202.41 395.73,202.77 395.87,203.12 396.01,202.73 396.15,203.15 396.29,203.10 396.44,203.20 396.58,203.20 396.72,203.45 396.86,203.58 397.00,203.36 397.15,203.42 397.29,203.00 397.43,203.34 397.57,203.09 397.72,203.62 397.86,203.06 398.00,203.08 398.14,203.34 398.28,203.40 398.43,203.40 398.57,202.76 398.71,202.99 398.85,203.15 398.99,202.60 399.14,202.80 399.28,202.55 399.42,202.73 399.56,203.12 399.71,202.98 399.85,202.82 399.99,202.75 400.13,203.29 400.27,203.05 400.42,202.47 400.56,203.41 400.70,202.74 400.84,202.85 400.98,202.79 401.13,202.81 401.27,203.18 401.41,202.63 401.55,203.07 401.69,203.01 401.84,203.60 401.98,203.26 402.12,203.24 402.26,203.15 402.41,203.06 402.55,202.82 402.69,202.00 402.83,202.67 402.97,202.38 403.12,202.58 403.26,202.37 403.40,202.03 403.54,201.81 403.68,201.65 403.83,201.88 403.97,201.62 404.11,201.22 404.25,201.15 404.40,201.09 404.54,200.70 404.68,200.69 404.82,200.37 404.96,199.60 405.11,200.08 405.25,199.70 405.39,199.44 405.53,199.10 405.67,198.08 405.82,198.00 405.96,197.50 406.10,197.05 406.24,196.94 406.38,196.72 406.53,195.99 406.67,196.72 406.81,196.35 406.95,196.40 407.10,196.67 407.24,197.15 407.38,197.31 407.52,198.36 407.66,198.66 407.81,198.78 407.95,199.73 408.09,200.03 408.23,200.42 408.37,201.02 408.52,201.02 408.66,201.22 408.80,201.64 408.94,201.17 409.09,201.48 409.23,202.18 409.37,202.55 409.51,201.97 409.65,202.59 409.80,202.55 409.94,202.66 410.08,202.79 410.22,202.92 410.36,202.86 410.51,202.50 410.65,202.27 410.79,202.23 410.93,201.77 411.07,202.48 411.22,202.13 411.36,202.23 411.50,202.59 411.64,202.08 411.79,202.95 411.93,202.58 412.07,202.47 412.21,202.46 412.35,202.53 412.50,202.62 412.64,202.93 412.78,202.69 412.92,203.08 413.06,203.06 413.21,203.11 413.35,202.47 413.49,202.72 413.63,202.49 413.78,202.58 413.92,202.60 414.06,202.55 414.20,202.66 414.34,202.70 414.49,203.00 414.63,202.75 414.77,202.86 414.91,202.51 415.05,202.75 415.20,203.06 415.34,203.19 415.48,202.72 415.62,203.06 415.76,203.09 415.91,203.26 416.05,203.20 416.19,203.16 416.33,203.06 416.48,202.91 416.62,202.95 416.76,202.24 416.90,202.01 417.04,202.47 417.19,202.38 417.33,202.18 417.47,201.90 417.61,202.48 417.75,201.98 417.90,202.74 418.04,202.66 418.18,202.71 418.32,202.87 418.47,203.30 418.61,202.90 418.75,202.24 418.89,202.34 419.03,201.77 419.18,202.28 419.32,202.41 419.46,202.58 419.60,202.07 419.74,203.16 419.89,203.22 420.03,202.84 420.17,202.23 420.31,202.43 420.45,202.86 420.60,203.04 420.74,202.23 420.88,201.85 421.02,202.13 421.17,202.96 421.31,202.47 421.45,202.13 421.59,201.99 421.73,202.57 421.88,202.45 422.02,201.94 422.16,201.86 422.30,201.77 422.44,201.69 422.59,201.87 422.73,202.09 422.87,202.32 423.01,203.05 423.16,203.06 423.30,203.11 423.44,203.22 423.58,201.98 423.72,202.47 423.87,202.64 424.01,202.24 424.15,202.10 424.29,202.33 424.43,202.04 424.58,201.91 424.72,202.02 424.86,202.39 425.00,202.65 425.14,203.17 425.29,203.20 425.43,203.34 425.57,204.37 425.71,203.35 425.86,203.21 426.00,203.12 426.14,202.84 426.28,202.47 426.42,203.21 426.57,203.81 426.71,203.17 426.85,203.72 426.99,204.30 427.13,203.98 427.28,204.02 427.42,203.57 427.56,203.00 427.70,202.95 427.85,202.58 427.99,202.79 428.13,201.88 428.27,202.61 428.41,202.79 428.56,202.40 428.70,202.40 428.84,202.23 428.98,202.51 429.12,202.42 429.27,202.15 429.41,202.22 429.55,202.04 429.69,202.93 429.83,203.00 429.98,203.39 430.12,203.30 430.26,203.41 430.40,202.70 430.55,202.40 430.69,202.60 430.83,202.52 430.97,202.55 431.11,202.46 431.26,202.49 431.40,202.59 431.54,202.69 431.68,202.72 431.82,202.78 431.97,202.56 432.11,202.67 432.25,202.30 432.39,202.40 432.53,202.64 432.68,202.69 432.82,202.24 432.96,201.92 433.10,202.43 433.25,201.81 433.39,201.55 433.53,201.85 433.67,201.89 433.81,201.64 433.96,202.29 434.10,202.95 434.24,202.23 434.38,202.15 434.52,202.62 434.67,202.28 434.81,202.16 434.95,202.50 435.09,201.73 435.24,201.97 435.38,202.05 435.52,201.90 435.66,201.45 435.80,201.71 435.95,202.65 436.09,202.33 436.23,202.48 436.37,203.04 436.51,202.35 436.66,202.80 436.80,202.31 436.94,203.15 437.08,202.48 437.22,202.76 437.37,202.42 437.51,202.65 437.65,202.65 437.79,202.51 437.94,202.36 438.08,202.44 438.22,202.21 438.36,202.05 438.50,202.26 438.65,202.23 438.79,201.54 438.93,201.53 439.07,201.49 439.21,201.68 439.36,201.11 439.50,201.81 439.64,201.46 439.78,201.72 439.93,202.15 440.07,201.94 440.21,202.47 440.35,202.71 440.49,202.89 440.64,202.20 440.78,202.81 440.92,202.54 441.06,202.39 441.20,202.51 441.35,202.00 441.49,201.87 441.63,202.00 441.77,201.53 441.91,201.77 442.06,202.00 442.20,201.83 442.34,201.97 442.48,201.89 442.63,201.97 442.77,202.62 442.91,201.81 443.05,201.97 443.19,201.89 443.34,201.43 443.48,201.35 443.62,201.48 443.76,202.39 443.90,202.05 444.05,202.46 444.19,202.78 444.33,202.57 444.47,202.67 444.62,202.21 444.76,202.15 444.90,202.75 445.04,202.77 445.18,202.11 445.33,202.72 445.47,202.50 445.61,202.66 445.75,202.72 445.89,202.98 446.04,202.28 446.18,202.43 446.32,202.76 446.46,202.33 446.60,202.54 446.75,202.36 446.89,201.92 447.03,202.22 447.17,202.61 447.32,202.21 447.46,201.88 447.60,202.04 447.74,202.08 447.88,202.06 448.03,201.89 448.17,201.82 448.31,201.46 448.45,201.65 448.59,201.68 448.74,201.83 448.88,202.14 449.02,202.41 449.16,201.97 449.31,202.31 449.45,202.31 449.59,201.68 449.73,201.76 449.87,202.05 450.02,201.65 450.16,202.56 450.30,201.57 450.44,201.77 450.58,202.35 450.73,201.98 450.87,202.42 451.01,202.00 451.15,202.60 451.29,202.20 451.44,202.59 451.58,202.69 451.72,202.05 451.86,202.24 452.01,202.04 452.15,202.27 452.29,202.91 452.43,202.75 452.57,203.08 452.72,203.32 452.86,203.31 453.00,202.84 453.14,202.14 453.28,201.76 453.43,201.57 453.57,201.33 453.71,201.33 453.85,201.39 454.00,201.50 454.14,201.83 454.28,202.56 454.42,202.46 454.56,202.87 454.71,202.08 454.85,202.45 454.99,202.22 455.13,202.31 455.27,201.99 455.42,202.50 455.56,202.62 455.70,202.79 455.84,202.77 455.98,202.93 456.13,203.09 456.27,203.20 456.41,203.00 456.55,202.87 456.70,202.77 456.84,202.15 456.98,202.55 457.12,202.05 457.26,201.60 457.41,201.42 457.55,201.59 457.69,201.56 457.83,201.25 457.97,202.43 458.12,201.67 458.26,202.70 458.40,202.52 458.54,201.95 458.69,202.45 458.83,202.37 458.97,202.23 459.11,202.04 459.25,202.09 459.40,202.20 459.54,202.13 459.68,202.48 459.82,202.88 459.96,202.49 460.11,202.85 460.25,201.74 460.39,201.97 460.53,201.39 460.67,201.13 460.82,201.74 460.96,201.67 461.10,201.70 461.24,201.65 461.39,201.95 461.53,201.63 461.67,201.99 461.81,201.90 461.95,201.71 462.10,202.14 462.24,201.54 462.38,202.14 462.52,202.10 462.66,202.17 462.81,202.07 462.95,202.24 463.09,201.94 463.23,201.68 463.38,202.02 463.52,201.67 463.66,201.74 463.80,201.82 463.94,201.43 464.09,201.82 464.23,201.05 464.37,201.65 464.51,201.22 464.65,201.71 464.80,201.76 464.94,201.85 465.08,201.95 465.22,202.10 465.36,201.92 465.51,202.18 465.65,202.12 465.79,202.23 465.93,202.42 466.08,202.30 466.22,202.51 466.36,202.31 466.50,202.16 466.64,202.29 466.79,202.21 466.93,201.66 467.07,201.83 467.21,202.58 467.35,201.75 467.50,201.78 467.64,201.35 467.78,201.83 467.92,202.08 468.06,201.94 468.21,201.87 468.35,202.01 468.49,201.63 468.63,202.29 468.78,202.09 468.92,202.30 469.06,202.32 469.20,202.31 469.34,202.76 469.49,202.39 469.63,201.93 469.77,202.18 469.91,202.11 470.05,201.89 470.20,202.25 470.34,201.81 470.48,201.47 470.62,201.65 470.77,202.03 470.91,201.74 471.05,202.15 471.19,201.85 471.33,202.44 471.48,202.40 471.62,202.35 471.76,202.22 471.90,202.07 472.04,202.14 472.19,201.75 472.33,201.42 472.47,201.42 472.61,201.64 472.75,201.58 472.90,201.95 473.04,201.37 473.18,201.80 473.32,201.50 473.47,201.20 473.61,201.38 473.75,201.32 473.89,201.24 474.03,201.10 474.18,200.86 474.32,201.22 474.46,201.37 474.60,201.79 474.74,201.50 474.89,201.50 475.03,201.84 475.17,201.46 475.31,201.33 475.46,201.50 475.60,201.61 475.74,201.43 475.88,200.95 476.02,201.25 476.17,201.57 476.31,201.12 476.45,201.53 476.59,201.38 476.73,201.15 476.88,201.57 477.02,200.86 477.16,200.98 477.30,201.32 477.44,202.04 477.59,202.05 477.73,202.47 477.87,202.50 478.01,202.38 478.16,202.05 478.30,201.91 478.44,202.07 478.58,201.85 478.72,201.25 478.87,201.71 479.01,202.07 479.15,201.76 479.29,201.35 479.43,201.76 479.58,201.82 479.72,201.88 479.86,202.38 480.00,202.63 480.15,202.40 480.29,202.55 480.43,202.23 480.57,202.13 480.71,202.32 480.86,201.64 481.00,201.69 481.14,201.47 481.28,201.28 481.42,200.85 481.57,201.12 481.71,200.56 481.85,201.02 481.99,200.99 482.13,201.22 482.28,201.25 482.42,201.33 482.56,201.46 482.70,201.59 482.85,201.45 482.99,201.42 483.13,201.17 483.27,201.31 483.41,201.20 483.56,201.41 483.70,201.53 483.84,201.79 483.98,202.15 484.12,202.04 484.27,201.68 484.41,201.81 484.55,201.58 484.69,201.24 484.84,201.05 484.98,200.59 485.12,200.71 485.26,200.99 485.40,201.04 485.55,200.80 485.69,201.25 485.83,200.60 485.97,201.26 486.11,200.63 486.26,200.65 486.40,200.45 486.54,200.40 486.68,200.78 486.82,200.54 486.97,201.04 487.11,201.29 487.25,201.32 487.39,201.29 487.54,200.86 487.68,200.66 487.82,200.69 487.96,201.15 488.10,200.97 488.25,200.55 488.39,201.44 488.53,201.26 488.67,201.43 488.81,201.49 488.96,201.52 489.10,200.80 489.24,201.18 489.38,200.96 489.53,201.56 489.67,201.25 489.81,201.07 489.95,200.99 490.09,200.54 490.24,201.03 490.38,200.79 490.52,201.43 490.66,201.41 490.80,201.34 490.95,201.39 491.09,201.86 491.23,201.54 491.37,201.92 491.51,201.71 491.66,201.59 491.80,201.74 491.94,202.05 492.08,201.21 492.23,201.68 492.37,201.60 492.51,201.30 492.65,201.63 492.79,201.37 492.94,201.26 493.08,200.82 493.22,201.10 493.36,200.59 493.50,200.93 493.65,201.28 493.79,200.57 493.93,201.11 494.07,200.48 494.22,200.73 494.36,200.91 494.50,200.52 494.64,201.02 494.78,200.86 494.93,200.99 495.07,201.41 495.21,201.35 495.35,201.60 495.49,201.65 495.64,201.86 495.78,202.25 495.92,201.85 496.06,201.47 496.20,201.24 496.35,201.08 496.49,200.70 496.63,199.76 496.77,200.07 496.92,200.00 497.06,200.29 497.20,199.34 497.34,199.17 497.48,198.72 497.63,198.72 497.77,198.07 497.91,198.00 498.05,197.88 498.19,197.27 498.34,197.23 498.48,196.83 498.62,196.98 498.76,196.79 498.91,196.69 499.05,196.09 499.19,196.13 499.33,196.49 499.47,195.86 499.62,196.48 499.76,196.05 499.90,196.74 500.04,196.44 500.18,197.02 500.33,197.41 500.47,197.74 500.61,197.75 500.75,198.64 500.89,198.96 501.04,199.76 501.18,199.94 501.32,199.69 501.46,200.32 501.61,200.62 501.75,200.43 501.89,200.34 502.03,200.22 502.17,200.49 502.32,200.43 502.46,200.63 502.60,200.65 502.74,201.03 502.88,200.55 503.03,200.80 503.17,200.43 503.31,200.69 503.45,200.80 503.59,200.38 503.74,200.29 503.88,200.72 504.02,200.87 504.16,200.87 504.31,201.26 504.45,201.33 504.59,201.45 504.73,200.99 504.87,201.45 505.02,201.55 505.16,201.08 505.30,201.65 505.44,201.18 505.58,200.76 505.73,200.72 505.87,200.71 506.01,200.64 506.15,200.75 506.30,200.88 506.44,200.79 506.58,200.78 506.72,200.65 506.86,200.46 507.01,200.84 507.15,200.81 507.29,201.35 507.43,200.71 507.57,201.57 507.72,200.78 507.86,201.45 508.00,201.58 508.14,201.41 508.28,201.52 508.43,201.96 508.57,201.50 508.71,201.69 508.85,201.70 509.00,201.80 509.14,201.36 509.28,201.89 509.42,201.54 509.56,201.77 509.71,201.21 509.85,201.73 509.99,201.44 510.13,201.59 510.27,201.24 510.42,201.53 510.56,201.32 510.70,200.86 510.84,201.86 510.99,201.23 511.13,201.52 511.27,201.43 511.41,201.42 511.55,201.46 511.70,201.71 511.84,201.69 511.98,201.67 512.12,201.10 512.26,201.60 512.41,201.26 512.55,202.25 512.69,202.00 512.83,202.32 512.97,202.24 513.12,202.23 513.26,201.80 513.40,202.14 513.54,201.40 513.69,201.47 513.83,200.82 513.97,201.02 514.11,201.03 514.25,201.15 514.40,201.12 514.54,201.42 514.68,201.51 514.82,201.15 514.96,201.52 515.11,201.46 515.25,202.09 515.39,201.71 515.53,201.97 515.68,201.79 515.82,201.64 515.96,201.13 516.10,201.79 516.24,201.41 516.39,201.71 516.53,201.92 516.67,201.61 516.81,201.74 516.95,202.44 517.10,202.39 517.24,201.70 517.38,201.76 517.52,201.87 517.66,201.54 517.81,201.81 517.95,201.67 518.09,201.55 518.23,201.73 518.38,201.50 518.52,201.89 518.66,201.45 518.80,201.83 518.94,202.05 519.09,201.12 519.23,201.81 519.37,201.10 519.51,201.33 519.65,201.66 519.80,201.43 519.94,201.28 520.08,201.15 520.22,201.14 520.37,201.23 520.51,201.13 520.65,201.14 520.79,200.98 520.93,201.73 521.08,201.59 521.22,202.22 521.36,202.21 521.50,202.38 521.64,202.29 521.79,202.35 521.93,202.31 522.07,202.16 522.21,202.02 522.35,201.50 522.50,201.84 522.64,201.87 522.78,201.82 522.92,201.85 523.07,201.59 523.21,201.74 523.35,202.24 523.49,201.77 523.63,201.88 523.78,201.84 523.92,202.00 524.06,201.92 524.20,202.40 524.34,201.75 524.49,202.20 524.63,201.79 524.77,201.93 524.91,202.37 525.06,201.86 525.20,201.86 525.34,201.28 525.48,201.77 525.62,201.71 525.77,201.63 525.91,201.49 526.05,201.05 526.19,200.90 526.33,201.04 526.48,200.72 526.62,200.65 526.76,200.64 526.90,200.38 527.04,200.23 527.19,199.87 527.33,200.00 527.47,199.58 527.61,200.20 527.76,199.64 527.90,200.08 528.04,199.45 528.18,199.36 528.32,199.50 528.47,199.19 528.61,199.11 528.75,199.00 528.89,199.03 529.03,198.98 529.18,199.04 529.32,198.93 529.46,199.35 529.60,199.47 529.75,200.15 529.89,200.54 530.03,200.74 530.17,200.37 530.31,200.71 530.46,200.87 530.60,200.71 530.74,201.41 530.88,201.33 531.02,201.32 531.17,201.80 531.31,201.67 531.45,201.66 531.59,201.90 531.73,201.88 531.88,202.10 532.02,201.70 532.16,201.99 532.30,201.77 532.45,201.68 532.59,201.63 532.73,201.67 532.87,201.35 533.01,201.79 533.16,201.63 533.30,202.00 533.44,201.68 533.58,201.92 533.72,201.79 533.87,201.83 534.01,201.68 534.15,201.87 534.29,201.98 534.44,201.76 534.58,202.29 534.72,202.34 534.86,202.66 535.00,202.82 535.15,202.47 535.29,202.65 535.43,202.57 535.57,202.38 535.71,202.08 535.86,202.18 536.00,202.49 536.14,202.49 536.28,202.43 536.42,201.92 536.57,201.83 536.71,202.58 536.85,202.38 536.99,202.49 537.14,202.35 537.28,202.18 537.42,202.34 537.56,202.28 537.70,202.59 537.85,202.49 537.99,202.18 538.13,202.25 538.27,202.62 538.41,202.65 538.56,202.58 538.70,202.64 538.84,202.39 538.98,202.50 539.12,202.79 539.27,202.39 539.41,202.85 539.55,202.90 539.69,202.84 539.84,202.69 539.98,202.70 540.12,202.23 540.26,201.85 540.40,201.51 540.55,201.60 540.69,202.21 540.83,202.55 540.97,202.27 541.11,202.80 541.26,202.69 541.40,202.70 541.54,202.70 541.68,202.60 541.83,202.30 541.97,202.57 542.11,202.40 542.25,202.07 542.39,202.53 542.54,202.66 542.68,202.30 542.82,202.73 542.96,202.34 543.10,202.74 543.25,203.18 543.39,203.35 543.53,203.38 543.67,203.33 543.81,202.92 543.96,202.97 544.10,202.87 544.24,202.72 544.38,202.61 544.53,202.82 544.67,202.88 544.81,203.04 544.95,202.80 545.09,203.30 545.24,202.98 545.38,203.03 545.52,203.05 545.66,203.03 545.80,202.71 545.95,202.76 546.09,202.78 546.23,202.56 546.37,202.52 546.52,202.45 546.66,202.34 546.80,202.30 546.94,202.52 547.08,202.68 547.23,202.46 547.37,202.90 547.51,202.66 547.65,202.91 547.79,202.97 547.94,202.99 548.08,202.71 548.22,202.77 548.36,202.68 548.50,202.93 548.65,202.82 548.79,202.44 548.93,202.83 549.07,202.82 549.22,202.42 549.36,202.37 549.50,202.31 549.64,201.98 549.78,201.96 549.93,202.24 550.07,202.21 550.21,202.38 550.35,202.52 550.49,202.91 550.64,202.73 550.78,202.76 550.92,202.64 551.06,202.93 551.21,202.76 551.35,202.75 551.49,202.93 551.63,202.89 551.77,202.47 551.92,202.53 552.06,202.74 552.20,202.52 552.34,203.02 552.48,202.91 552.63,203.42 552.77,203.11 552.91,203.12 553.05,203.09 553.19,203.54 553.34,202.99 553.48,202.93 553.62,202.80 553.76,202.72 553.91,202.86 554.05,202.85 554.19,202.73 554.33,202.74 554.47,203.04 554.62,202.99 554.76,203.01 554.90,203.06 555.04,202.84 555.18,203.02 555.33,203.14 555.47,202.72 555.61,203.05 555.75,202.43 555.90,202.49 556.04,202.54 556.18,202.62 556.32,202.63 556.46,202.71 556.61,202.92 556.75,202.68 556.89,202.76 557.03,202.67 557.17,202.67 557.32,202.94 557.46,202.90 557.60,203.21 557.74,203.10 557.88,202.82 558.03,203.23 558.17,202.95 558.31,203.08 558.45,202.97 558.60,202.97 558.74,202.96 558.88,202.83 559.02,202.86 559.16,202.89 559.31,203.07 559.45,203.10 559.59,203.28 559.73,202.79 559.87,203.00 560.02,203.23 560.16,202.81 560.30,202.89 560.44,202.96 560.59,203.02 560.73,202.82 560.87,202.88 561.01,202.91 561.15,203.13 561.30,203.15 561.44,203.29 561.58,203.16 561.72,203.18 561.86,203.00 562.01,202.91 562.15,202.89 562.29,202.83 562.43,202.90 562.57,202.97 562.72,202.88 562.86,203.21 563.00,203.26 563.14,203.44 563.29,202.81 563.43,202.90 563.57,202.91 563.71,202.87 563.85,202.96 564.00,202.85 564.14,202.88 564.28,203.13 564.42,203.02 564.56,202.83 564.71,203.24 564.85,203.46 564.99,203.34 565.13,203.19 565.28,203.45 565.42,203.28 565.56,203.18 565.70,203.20 565.84,203.28 565.99,203.05 566.13,202.92 566.27,202.83 566.41,203.23 566.55,203.24 566.70,203.56 566.84,203.55 566.98,203.81 567.12,203.68 567.26,203.60 567.41,203.42 567.55,203.63 567.69,203.45 567.83,203.24 567.98,203.14 568.12,203.44 568.26,203.26 568.40,203.37 568.54,203.44 568.69,203.21 568.83,203.30 568.97,203.28 569.11,203.13 569.25,203.13 569.40,203.12 569.54,202.85 569.68,203.37 569.82,203.77 569.97,203.79 570.11,204.14 570.25,203.77 570.39,203.87 570.53,203.66 570.68,203.63 570.82,203.61 570.96,203.76 571.10,203.76 571.24,203.35 571.39,203.66 571.53,203.64 571.67,203.57 571.81,203.22 571.95,203.35 572.10,203.29 572.24,203.00 572.38,202.96 572.52,203.39 572.67,203.05 572.81,203.11 572.95,202.96 573.09,203.18 573.23,203.49 573.38,203.41 573.52,203.30 573.66,203.47 573.80,203.57 573.94,203.65 574.09,203.45 574.23,203.58 574.37,203.40 574.51,203.37 574.65,203.28 574.80,203.24 574.94,203.38 575.08,203.07 575.22,203.29 575.37,203.59 575.51,203.10 575.65,203.17 575.79,203.20 575.93,203.41 576.08,203.04 576.22,203.29 576.36,203.21 576.50,203.50 576.64,203.24 576.79,203.54 576.93,203.19 577.07,203.38 577.21,203.23 577.36,203.33 577.50,203.28 577.64,203.43 577.78,203.71 577.92,203.49 578.07,203.84 578.21,203.70 578.35,203.52 578.49,203.46 578.63,203.47 578.78,203.34 578.92,203.54 579.06,203.51 579.20,203.29 579.34,203.57 579.49,203.66 579.63,203.72 579.77,203.87 579.91,203.95 580.06,204.01 580.20,204.31 580.34,204.40 580.48,204.15 580.62,204.24 580.77,203.98 580.91,204.22 581.05,203.93 581.19,203.92 581.33,203.92 581.48,203.63 581.62,203.59 581.76,203.59 581.90,203.38 582.05,203.54 582.19,203.69 582.33,203.65 582.47,203.59 582.61,203.70 582.76,203.71 582.90,203.73 583.04,203.80 583.18,203.53 583.32,203.70 583.47,203.73 583.61,203.87 583.75,203.52 583.89,203.58 584.03,203.78 584.18,203.67 584.32,203.85 584.46,203.77 584.60,203.75 584.75,203.87 584.89,204.07 585.03,204.01 585.17,203.90 585.31,203.84 585.46,203.89 585.60,203.79 585.74,203.70 585.88,203.76 586.02,203.69 586.17,203.56 586.31,203.79 586.45,203.83 586.59,203.85 586.74,203.69 586.88,203.57 587.02,203.75 587.16,203.64 587.30,203.50 587.45,203.74 587.59,203.65 587.73,203.75 587.87,203.71 588.01,203.86 588.16,203.90 588.30,203.92 588.44,204.05 588.58,203.92 588.72,204.29 588.87,203.90 589.01,204.15 589.15,204.16 589.29,204.00 589.44,204.04 589.58,203.88 589.72,203.91 589.86,203.92 590.00,203.68 590.15,203.53 590.29,203.63 590.43,203.50 590.57,203.53 590.71,203.65 590.86,203.56 591.00,203.85 591.14,203.89 591.28,203.79 591.43,203.72 591.57,203.76 591.71,203.75 591.85,203.67 591.99,203.68 592.14,203.85 592.28,203.77 592.42,203.86 592.56,203.94 592.70,203.95 592.85,204.10 592.99,203.92 593.13,204.13 593.27,204.09 593.41,204.00 593.56,204.07 593.70,204.12 593.84,204.00 593.98,204.06 594.13,204.03 594.27,204.08 594.41,204.08 594.55,204.09 594.69,204.11 594.84,204.24 594.98,204.03 595.12,204.06 595.26,203.88 595.40,204.01 595.55,203.80 595.69,203.71 595.83,203.64 595.97,203.68 596.12,203.72 596.26,203.86 596.40,204.10 596.54,204.02 596.68,204.02 596.83,203.91 596.97,204.08 597.11,203.99 597.25,204.00 597.39,204.09 597.54,204.11 597.68,204.14 597.82,204.21 597.96,204.02 598.10,204.06 598.25,204.05 598.39,203.98 598.53,203.96 598.67,203.88 598.82,203.97 598.96,203.75 599.10,204.05 599.24,203.70 599.38,204.02 599.53,203.84 599.67,204.00 599.81,203.98 599.95,204.07 600.09,204.09 600.24,203.98 600.38,203.94 600.52,203.88 600.66,203.89 600.81,203.89 600.95,203.91 601.09,203.98 601.23,204.06 601.37,203.92 601.52,203.83 601.66,204.02 601.80,204.17 601.94,204.03 602.08,204.20 602.23,204.08 602.37,204.07 602.51,204.21 602.65,204.02 602.79,204.16 602.94,203.95 603.08,204.07 603.22,204.16 603.36,204.04 603.51,203.99 603.65,204.06 603.79,203.90 603.93,203.86 604.07,203.90 604.22,203.91 604.36,203.90 604.50,203.85 604.64,203.95 604.78,203.88 604.93,203.79 605.07,203.99 605.21,203.62 605.35,203.81 605.50,203.78 605.64,204.10 605.78,204.00 605.92,204.11 606.06,204.13 606.21,204.28 606.35,204.16 606.49,204.35 606.63,204.17 606.77,204.43 606.92,204.49 607.06,204.43 607.20,204.37 607.34,204.12 607.48,204.26 607.63,204.19 607.77,204.29 607.91,204.14 608.05,204.08 608.20,204.08 608.34,203.94 608.48,203.77 608.62,203.86 608.76,203.80 608.91,204.13 609.05,204.05 609.19,204.01 609.33,204.20 609.47,204.16 609.62,204.22 609.76,204.39 609.90,204.15 610.04,204.24 610.18,204.40 610.33,204.42 610.47,204.58 610.61,204.50 610.75,204.61 610.90,204.70 611.04,204.42 611.18,204.41 611.32,204.46 611.46,204.48 611.61,204.39 611.75,204.49 611.89,204.38 612.03,204.52 612.17,204.44 612.32,204.44 612.46,204.40 612.60,204.39 612.74,204.24 612.89,204.35 613.03,204.22 613.17,204.46 613.31,204.23 613.45,204.21 613.60,204.21 613.74,204.40 613.88,204.09 614.02,204.34 614.16,204.24 614.31,204.46 614.45,204.25 614.59,204.24 614.73,204.30 614.87,204.26 615.02,204.26 615.16,204.38 615.30,204.29 615.44,204.40 615.59,204.37 615.73,204.39 615.87,204.43 616.01,204.38 616.15,204.21 616.30,204.40 616.44,204.12 616.58,204.44 616.72,204.47 616.86,204.31 617.01,204.52 617.15,204.26 617.29,204.48 617.43,204.36 617.58,204.36 617.72,204.35 617.86,204.33 618.00,204.45 618.14,204.42 618.29,204.44 618.43,204.47 618.57,204.46 618.71,204.44 618.85,204.60 619.00,204.65 619.14,204.52 619.28,204.72 619.42,204.75 619.56,204.65 619.71,204.73 619.85,204.44 619.99,204.69 620.13,204.51 620.28,204.58 620.42,204.48 620.56,204.73 620.70,204.51 620.84,204.59 620.99,204.41 621.13,204.49 621.27,204.53 621.41,204.47 621.55,204.41 621.70,204.56 621.84,204.30 621.98,204.39 622.12,204.34 622.27,204.29 622.41,204.34 622.55,204.31 622.69,204.32 622.83,204.42 622.98,204.41 623.12,204.49 623.26,204.58 623.40,204.53 623.54,204.53 623.69,204.50 623.83,204.67 623.97,204.66 624.11,204.61 624.25,204.56 624.40,204.44 624.54,204.47 624.68,204.45 624.82,204.30 624.97,204.38 625.11,204.50 625.25,204.71 625.39,204.65 625.53,204.58 625.68,204.79 625.82,204.72 625.96,204.67 626.10,204.54 626.24,204.54 626.39,204.66 626.53,204.61 626.67,204.87 626.81,204.44 626.96,204.47 627.10,204.58 627.24,204.54 627.38,204.55 627.52,204.63 627.67,204.66 627.81,204.45 627.95,204.57 628.09,204.57 628.23,204.51 628.38,204.57 628.52,204.53 628.66,204.37 628.80,204.47 628.94,204.56 629.09,204.55 629.23,204.69 629.37,204.86 629.51,204.90 629.66,204.80 629.80,204.90 629.94,204.69 630.08,204.64 630.22,204.44 630.37,204.57 630.51,204.51 630.65,204.58 630.79,204.61 630.93,204.61 631.08,204.78 631.22,204.63 631.36,204.73 631.50,204.59 631.65,204.70 631.79,204.60 631.93,204.65 632.07,204.52 632.21,204.66 632.36,204.69 632.50,204.68 632.64,204.68 632.78,204.62 632.92,204.42 633.07,204.65 633.21,204.51 633.35,204.50 633.49,204.59 633.63,204.40 633.78,204.54 633.92,204.64 634.06,204.61 634.20,204.61 634.35,204.60 634.49,204.70 634.63,204.62 634.77,204.71 634.91,204.83 635.06,204.75 635.20,204.83 635.34,204.83 635.48,204.80 635.62,204.78 635.77,204.88 635.91,204.82 636.05,204.75 636.19,204.75 636.34,204.71 636.48,204.67 636.62,204.63 636.76,204.56 636.90,204.74 637.05,204.70 637.19,204.74 637.33,204.63 637.47,204.80 637.61,204.90 637.76,204.81 637.90,204.87 638.04,204.79 638.18,204.83 638.32,204.78 638.47,204.79 638.61,204.73 638.75,204.70 638.89,204.60 639.04,204.61 639.18,204.72 639.32,204.90 639.46,204.72 639.60,204.84 639.75,204.89 639.89,204.74 640.03,204.65 640.17,204.74 640.31,204.68 640.46,204.61 640.60,204.78 640.74,204.76 640.88,204.75 641.03,204.70 641.17,204.88 641.31,204.89 641.45,204.87 641.59,204.91 641.74,204.76 641.88,204.76 642.02,204.86 642.16,204.86 642.30,204.84 642.45,204.84 642.59,204.94 642.73,204.91 642.87,204.95 643.01,204.82 643.16,204.87 643.30,204.87 643.44,204.89 643.58,204.73 643.73,204.78 643.87,204.72 644.01,204.73 644.15,204.70 644.29,204.70 644.44,204.72 644.58,204.73 644.72,204.75 644.86,204.84 645.00,204.91 645.15,204.87 645.29,204.79 645.43,204.90 645.57,204.82 645.72,204.86 645.86,204.68 646.00,204.69 646.14,204.74 646.28,204.78 646.43,204.74 646.57,204.90 646.71,204.81 646.85,204.76 646.99,204.92 647.14,204.88 647.28,204.97 647.42,204.91 647.56,204.90 647.70,204.84 647.85,204.87 647.99,204.91 648.13,205.02 648.27,204.93 648.42,204.84 648.56,204.92 648.70,204.85 648.84,204.71 648.98,204.70 649.13,204.72 649.27,204.80 649.41,204.87 649.55,204.87 649.69,204.90 649.84,204.92 649.98,204.96 650.12,204.97 650.26,204.86 650.40,204.96 650.55,204.84 650.69,204.85 650.83,204.92 650.97,204.85 651.12,204.79 651.26,204.67 651.40,204.75 651.54,204.75 651.68,204.77 651.83,204.85 651.97,204.79 652.11,204.92 652.25,204.86 652.39,204.90 652.54,204.90 652.68,204.96 652.82,205.05 652.96,205.02 653.11,204.94 653.25,204.92 653.39,204.99 653.53,204.93 653.67,204.83 653.82,204.86 653.96,204.88 654.10,204.91 654.24,204.85 654.38,204.91 654.53,204.85 654.67,204.87 654.81,204.89 654.95,204.96 655.09,204.88 655.24,204.96 655.38,204.88 655.52,204.91 655.66,204.82 655.81,204.72 655.95,204.69 656.09,204.75 656.23,204.87 656.37,204.80 656.52,204.81 656.66,204.88 656.80,204.85 656.94,204.87 657.08,204.91 657.23,204.94 657.37,204.91 657.51,204.91 657.65,205.03 657.80,204.92 657.94,204.92 658.08,204.95 658.22,204.95 658.36,204.97 658.51,205.02 658.65,205.01 658.79,204.94 658.93,204.95 659.07,204.98 659.22,204.93 659.36,204.91 659.50,204.83 659.64,204.87 659.78,204.82 659.93,204.74 660.07,204.82 660.21,204.96 660.35,204.93 660.50,204.93 660.64,205.07 660.78,205.08 660.92,205.06 661.06,205.11 661.21,205.08 661.35,205.13 661.49,205.00 661.63,205.01 661.77,205.03 661.92,205.05 662.06,205.00 662.20,205.07 662.34,205.00 662.49,205.04 662.63,205.06 662.77,205.09 662.91,205.09 663.05,205.06 663.20,205.09 663.34,205.07 663.48,205.03" fill="none" stroke="#ff0000" stroke-width="3.2" stroke-linejoin="round" stroke-linecap="round"/>
<rect x="94.70" y="286.00" width="568.50" height="197.80" fill="none" stroke="#000" stroke-width="3.3"/>
<line x1="94.70" y1="483.80" x2="94.70" y2="489.65" stroke="#000" stroke-width="3.0"/>
<line x1="130.23" y1="483.80" x2="130.23" y2="487.05" stroke="#000" stroke-width="2.6"/>
<line x1="165.76" y1="483.80" x2="165.76" y2="489.65" stroke="#000" stroke-width="3.0"/>
<line x1="201.29" y1="483.80" x2="201.29" y2="487.05" stroke="#000" stroke-width="2.6"/>
<line x1="236.82" y1="483.80" x2="236.82" y2="489.65" stroke="#000" stroke-width="3.0"/>
<line x1="272.35" y1="483.80" x2="272.35" y2="487.05" stroke="#000" stroke-width="2.6"/>
<line x1="307.88" y1="483.80" x2="307.88" y2="489.65" stroke="#000" stroke-width="3.0"/>
<line x1="343.41" y1="483.80" x2="343.41" y2="487.05" stroke="#000" stroke-width="2.6"/>
<line x1="378.94" y1="483.80" x2="378.94" y2="489.65" stroke="#000" stroke-width="3.0"/>
<line x1="414.47" y1="483.80" x2="414.47" y2="487.05" stroke="#000" stroke-width="2.6"/>
<line x1="450.00" y1="483.80" x2="450.00" y2="489.65" stroke="#000" stroke-width="3.0"/>
<line x1="485.53" y1="483.80" x2="485.53" y2="487.05" stroke="#000" stroke-width="2.6"/>
<line x1="521.06" y1="483.80" x2="521.06" y2="489.65" stroke="#000" stroke-width="3.0"/>
<line x1="556.59" y1="483.80" x2="556.59" y2="487.05" stroke="#000" stroke-width="2.6"/>
<line x1="592.12" y1="483.80" x2="592.12" y2="489.65" stroke="#000" stroke-width="3.0"/>
<line x1="627.65" y1="483.80" x2="627.65" y2="487.05" stroke="#000" stroke-width="2.6"/>
<line x1="663.18" y1="483.80" x2="663.18" y2="489.65" stroke="#000" stroke-width="3.0"/>
<line x1="87.45" y1="475.00" x2="94.70" y2="475.00" stroke="#000" stroke-width="3.0"/>
<line x1="90.45" y1="462.60" x2="94.70" y2="462.60" stroke="#000" stroke-width="2.6"/>
<line x1="87.45" y1="450.20" x2="94.70" y2="450.20" stroke="#000" stroke-width="3.0"/>
<line x1="90.45" y1="437.80" x2="94.70" y2="437.80" stroke="#000" stroke-width="2.6"/>
<line x1="87.45" y1="425.40" x2="94.70" y2="425.40" stroke="#000" stroke-width="3.0"/>
<line x1="90.45" y1="413.00" x2="94.70" y2="413.00" stroke="#000" stroke-width="2.6"/>
<line x1="87.45" y1="400.60" x2="94.70" y2="400.60" stroke="#000" stroke-width="3.0"/>
<line x1="90.45" y1="388.20" x2="94.70" y2="388.20" stroke="#000" stroke-width="2.6"/>
<line x1="87.45" y1="375.80" x2="94.70" y2="375.80" stroke="#000" stroke-width="3.0"/>
<line x1="90.45" y1="363.40" x2="94.70" y2="363.40" stroke="#000" stroke-width="2.6"/>
<line x1="87.45" y1="351.00" x2="94.70" y2="351.00" stroke="#000" stroke-width="3.0"/>
<line x1="90.45" y1="338.60" x2="94.70" y2="338.60" stroke="#000" stroke-width="2.6"/>
<line x1="87.45" y1="326.20" x2="94.70" y2="326.20" stroke="#000" stroke-width="3.0"/>
<line x1="90.45" y1="313.80" x2="94.70" y2="313.80" stroke="#000" stroke-width="2.6"/>
<line x1="87.45" y1="301.40" x2="94.70" y2="301.40" stroke="#000" stroke-width="3.0"/>
<line x1="90.45" y1="289.00" x2="94.70" y2="289.00" stroke="#000" stroke-width="2.6"/>
<polyline points="100.38,484.55 100.53,484.54 100.67,484.34 100.81,484.13 100.95,484.25 101.10,483.98 101.24,483.88 101.38,483.92 101.52,483.89 101.66,483.90 101.81,483.84 101.95,483.81 102.09,483.69 102.23,483.52 102.37,483.42 102.52,482.83 102.66,483.47 102.80,483.10 102.94,482.84 103.09,483.08 103.23,482.65 103.37,482.72 103.51,482.36 103.65,482.24 103.80,482.62 103.94,482.37 104.08,481.95 104.22,482.39 104.36,482.39 104.51,482.06 104.65,482.23 104.79,482.32 104.93,482.24 105.07,482.04 105.22,482.06 105.36,482.27 105.50,481.86 105.64,481.70 105.79,481.68 105.93,482.73 106.07,481.43 106.21,481.74 106.35,481.15 106.50,481.71 106.64,481.66 106.78,481.70 106.92,481.99 107.06,482.23 107.21,481.84 107.35,481.53 107.49,481.55 107.63,481.57 107.78,481.17 107.92,481.24 108.06,481.29 108.20,481.03 108.34,481.69 108.49,480.49 108.63,481.14 108.77,481.51 108.91,480.81 109.05,480.56 109.20,481.74 109.34,481.20 109.48,480.91 109.62,481.00 109.76,480.07 109.91,479.92 110.05,480.78 110.19,480.15 110.33,479.41 110.48,479.84 110.62,480.36 110.76,479.29 110.90,478.98 111.04,478.60 111.19,479.30 111.33,479.21 111.47,478.84 111.61,478.71 111.75,478.64 111.90,478.34 112.04,478.20 112.18,478.64 112.32,478.12 112.47,478.16 112.61,477.09 112.75,477.30 112.89,477.91 113.03,477.71 113.18,478.19 113.32,477.36 113.46,478.32 113.60,477.99 113.74,478.25 113.89,477.90 114.03,477.72 114.17,477.60 114.31,477.89 114.45,478.27 114.60,477.45 114.74,477.64 114.88,477.49 115.02,477.55 115.17,478.17 115.31,477.74 115.45,477.50 115.59,478.11 115.73,477.94 115.88,477.90 116.02,477.79 116.16,477.25 116.30,477.55 116.44,476.74 116.59,476.82 116.73,476.54 116.87,476.82 117.01,476.35 117.15,476.77 117.30,475.83 117.44,476.58 117.58,476.64 117.72,476.52 117.87,475.60 118.01,476.58 118.15,475.96 118.29,475.85 118.43,476.80 118.58,476.36 118.72,477.06 118.86,476.28 119.00,477.46 119.14,477.52 119.29,477.37 119.43,476.70 119.57,477.02 119.71,476.62 119.86,477.04 120.00,476.22 120.14,475.79 120.28,476.82 120.42,475.99 120.57,476.32 120.71,476.69 120.85,476.88 120.99,476.27 121.13,476.16 121.28,475.78 121.42,475.58 121.56,475.38 121.70,475.45 121.84,474.89 121.99,475.23 122.13,475.52 122.27,475.04 122.41,474.98 122.56,475.39 122.70,474.82 122.84,475.13 122.98,476.14 123.12,475.63 123.27,475.64 123.41,475.32 123.55,475.12 123.69,474.99 123.83,475.47 123.98,476.00 124.12,475.51 124.26,475.90 124.40,475.51 124.55,475.70 124.69,475.67 124.83,476.36 124.97,474.97 125.11,474.28 125.26,474.69 125.40,474.03 125.54,474.46 125.68,474.18 125.82,475.02 125.97,474.63 126.11,475.26 126.25,474.97 126.39,474.64 126.53,474.96 126.68,474.70 126.82,473.57 126.96,474.43 127.10,474.48 127.25,474.25 127.39,474.33 127.53,474.32 127.67,474.34 127.81,474.09 127.96,474.62 128.10,474.69 128.24,473.88 128.38,474.22 128.52,473.84 128.67,473.97 128.81,474.47 128.95,474.06 129.09,474.08 129.24,473.82 129.38,474.88 129.52,474.51 129.66,474.30 129.80,474.31 129.95,474.99 130.09,474.87 130.23,474.54 130.37,474.39 130.51,474.04 130.66,475.02 130.80,475.17 130.94,475.38 131.08,474.49 131.22,474.61 131.37,473.42 131.51,474.32 131.65,473.68 131.79,473.50 131.94,473.34 132.08,473.18 132.22,473.16 132.36,473.42 132.50,472.91 132.65,473.14 132.79,473.32 132.93,474.23 133.07,473.86 133.21,473.42 133.36,473.92 133.50,474.21 133.64,473.48 133.78,473.78 133.93,473.87 134.07,472.92 134.21,473.55 134.35,473.48 134.49,473.87 134.64,474.09 134.78,473.44 134.92,472.93 135.06,473.20 135.20,473.27 135.35,472.89 135.49,473.10 135.63,472.35 135.77,472.70 135.91,472.48 136.06,472.67 136.20,471.56 136.34,471.69 136.48,471.11 136.63,471.18 136.77,471.21 136.91,471.53 137.05,471.15 137.19,470.99 137.34,472.52 137.48,471.56 137.62,471.67 137.76,471.74 137.90,471.51 138.05,471.72 138.19,472.35 138.33,472.15 138.47,472.60 138.62,471.86 138.76,472.45 138.90,471.74 139.04,471.41 139.18,471.99 139.33,471.61 139.47,471.60 139.61,471.66 139.75,470.77 139.89,471.81 140.04,472.41 140.18,471.85 140.32,472.12 140.46,472.17 140.60,472.17 140.75,470.43 140.89,471.11 141.03,471.02 141.17,470.67 141.32,470.86 141.46,469.66 141.60,468.90 141.74,469.60 141.88,469.25 142.03,469.77 142.17,469.82 142.31,469.56 142.45,469.94 142.59,468.95 142.74,469.31 142.88,468.72 143.02,469.80 143.16,468.87 143.31,469.18 143.45,468.80 143.59,468.70 143.73,468.62 143.87,468.48 144.02,468.16 144.16,467.72 144.30,467.54 144.44,466.14 144.58,466.13 144.73,466.63 144.87,465.95 145.01,465.13 145.15,465.39 145.29,465.65 145.44,466.22 145.58,466.97 145.72,466.96 145.86,467.20 146.01,466.39 146.15,466.80 146.29,466.87 146.43,466.94 146.57,466.98 146.72,466.65 146.86,466.80 147.00,466.83 147.14,466.45 147.28,465.71 147.43,466.18 147.57,466.38 147.71,467.54 147.85,467.50 148.00,467.47 148.14,467.27 148.28,467.11 148.42,467.72 148.56,466.93 148.71,466.60 148.85,466.36 148.99,467.00 149.13,466.15 149.27,466.74 149.42,467.27 149.56,467.44 149.70,467.58 149.84,467.61 149.98,468.39 150.13,469.06 150.27,468.48 150.41,468.85 150.55,469.16 150.70,469.47 150.84,469.37 150.98,469.46 151.12,469.00 151.26,470.14 151.41,469.24 151.55,469.45 151.69,469.07 151.83,469.33 151.97,468.43 152.12,468.39 152.26,468.76 152.40,468.67 152.54,468.38 152.68,468.63 152.83,468.35 152.97,468.60 153.11,468.48 153.25,469.11 153.40,469.65 153.54,469.45 153.68,469.27 153.82,469.45 153.96,468.73 154.11,468.44 154.25,468.51 154.39,468.91 154.53,467.97 154.67,467.92 154.82,467.89 154.96,467.43 155.10,467.28 155.24,467.70 155.39,466.39 155.53,467.02 155.67,466.98 155.81,466.90 155.95,466.65 156.10,467.18 156.24,467.23 156.38,467.24 156.52,468.40 156.66,468.82 156.81,468.49 156.95,468.41 157.09,468.44 157.23,467.28 157.37,467.31 157.52,466.49 157.66,466.47 157.80,465.89 157.94,466.27 158.09,465.87 158.23,466.09 158.37,465.79 158.51,466.99 158.65,466.31 158.80,467.33 158.94,466.68 159.08,467.63 159.22,467.82 159.36,468.12 159.51,468.47 159.65,467.54 159.79,468.04 159.93,467.88 160.08,467.85 160.22,468.17 160.36,467.36 160.50,467.07 160.64,467.29 160.79,468.10 160.93,467.73 161.07,467.59 161.21,468.34 161.35,469.19 161.50,469.19 161.64,468.21 161.78,468.06 161.92,468.43 162.06,468.38 162.21,467.94 162.35,468.01 162.49,468.31 162.63,467.48 162.78,468.62 162.92,467.74 163.06,467.44 163.20,468.66 163.34,468.23 163.49,468.54 163.63,467.69 163.77,468.33 163.91,468.18 164.05,468.01 164.20,467.86 164.34,467.63 164.48,467.50 164.62,467.19 164.77,468.47 164.91,467.63 165.05,467.46 165.19,468.15 165.33,468.14 165.48,468.24 165.62,470.00 165.76,469.25 165.90,468.72 166.04,469.49 166.19,469.11 166.33,468.80 166.47,468.64 166.61,468.17 166.75,468.27 166.90,467.29 167.04,467.49 167.18,468.16 167.32,468.35 167.47,467.96 167.61,468.01 167.75,468.70 167.89,468.56 168.03,468.81 168.18,468.85 168.32,468.69 168.46,468.53 168.60,468.38 168.74,468.19 168.89,467.58 169.03,468.12 169.17,468.11 169.31,468.12 169.46,467.68 169.60,467.92 169.74,468.49 169.88,468.54 170.02,467.72 170.17,467.29 170.31,467.70 170.45,466.85 170.59,467.90 170.73,466.92 170.88,467.39 171.02,466.60 171.16,467.51 171.30,467.69 171.44,467.21 171.59,468.57 171.73,467.94 171.87,468.16 172.01,467.93 172.16,468.18 172.30,468.39 172.44,468.41 172.58,468.54 172.72,467.91 172.87,468.61 173.01,468.27 173.15,468.89 173.29,468.47 173.43,468.04 173.58,469.26 173.72,468.52 173.86,468.45 174.00,468.36 174.15,468.06 174.29,468.14 174.43,468.27 174.57,467.26 174.71,467.48 174.86,467.34 175.00,466.43 175.14,466.91 175.28,466.63 175.42,465.66 175.57,465.19 175.71,464.11 175.85,463.50 175.99,460.88 176.13,458.55 176.28,454.53 176.42,450.89 176.56,446.40 176.70,443.27 176.85,441.48 176.99,439.85 177.13,440.35 177.27,442.40 177.41,445.50 177.56,448.76 177.70,452.84 177.84,456.11 177.98,459.86 178.12,462.39 178.27,464.31 178.41,465.80 178.55,466.88 178.69,466.50 178.84,468.21 178.98,466.94 179.12,468.21 179.26,467.42 179.40,467.01 179.55,467.40 179.69,467.29 179.83,468.24 179.97,468.15 180.11,469.38 180.26,468.34 180.40,467.94 180.54,468.63 180.68,469.16 180.82,467.66 180.97,467.72 181.11,468.22 181.25,468.00 181.39,468.40 181.54,469.51 181.68,469.54 181.82,469.57 181.96,469.23 182.10,469.69 182.25,468.61 182.39,469.80 182.53,468.77 182.67,469.04 182.81,469.61 182.96,469.11 183.10,469.70 183.24,469.79 183.38,470.27 183.53,470.04 183.67,470.32 183.81,470.38 183.95,470.64 184.09,470.64 184.24,470.64 184.38,470.78 184.52,470.92 184.66,470.52 184.80,469.23 184.95,470.28 185.09,469.34 185.23,469.46 185.37,469.91 185.51,468.60 185.66,469.17 185.80,469.45 185.94,469.33 186.08,469.11 186.23,468.72 186.37,469.93 186.51,468.87 186.65,469.30 186.79,470.04 186.94,470.00 187.08,470.41 187.22,470.82 187.36,470.18 187.50,471.02 187.65,470.80 187.79,471.35 187.93,471.52 188.07,471.25 188.21,471.58 188.36,471.22 188.50,472.67 188.64,472.52 188.78,471.50 188.93,470.71 189.07,470.08 189.21,470.27 189.35,471.24 189.49,470.13 189.64,470.70 189.78,470.90 189.92,471.14 190.06,471.42 190.20,471.72 190.35,472.55 190.49,472.01 190.63,472.66 190.77,471.88 190.92,471.79 191.06,472.43 191.20,471.27 191.34,471.94 191.48,470.95 191.63,471.65 191.77,471.16 191.91,471.31 192.05,471.11 192.19,472.46 192.34,471.85 192.48,471.48 192.62,472.72 192.76,471.58 192.90,472.11 193.05,472.14 193.19,471.77 193.33,471.99 193.47,471.48 193.62,471.71 193.76,471.12 193.90,471.10 194.04,471.02 194.18,471.20 194.33,471.06 194.47,471.89 194.61,471.12 194.75,472.44 194.89,471.65 195.04,471.74 195.18,471.80 195.32,472.36 195.46,471.87 195.61,472.48 195.75,472.23 195.89,471.86 196.03,472.64 196.17,473.57 196.32,472.65 196.46,473.53 196.60,472.69 196.74,473.32 196.88,472.16 197.03,472.07 197.17,472.08 197.31,471.87 197.45,471.89 197.59,472.87 197.74,472.68 197.88,472.36 198.02,472.96 198.16,472.94 198.31,473.02 198.45,472.76 198.59,472.71 198.73,472.92 198.87,472.50 199.02,472.88 199.16,473.98 199.30,472.81 199.44,472.22 199.58,472.95 199.73,472.72 199.87,472.42 200.01,472.69 200.15,472.46 200.30,472.79 200.44,472.94 200.58,472.10 200.72,472.97 200.86,472.81 201.01,473.29 201.15,474.09 201.29,474.52 201.43,474.14 201.57,475.10 201.72,473.75 201.86,474.42 202.00,474.52 202.14,474.20 202.28,474.56 202.43,474.02 202.57,474.29 202.71,474.79 202.85,474.39 203.00,474.76 203.14,474.69 203.28,474.94 203.42,474.53 203.56,474.01 203.71,474.08 203.85,474.74 203.99,474.47 204.13,475.70 204.27,475.02 204.42,474.92 204.56,474.64 204.70,474.86 204.84,474.69 204.99,474.86 205.13,474.31 205.27,474.43 205.41,474.60 205.55,474.57 205.70,474.38 205.84,474.78 205.98,474.67 206.12,474.48 206.26,474.50 206.41,473.77 206.55,474.03 206.69,474.08 206.83,473.94 206.97,473.92 207.12,473.76 207.26,473.92 207.40,473.61 207.54,474.94 207.69,474.20 207.83,474.15 207.97,474.24 208.11,473.83 208.25,473.82 208.40,473.67 208.54,473.15 208.68,472.59 208.82,473.55 208.96,473.63 209.11,473.40 209.25,473.18 209.39,473.55 209.53,473.72 209.68,473.88 209.82,473.64 209.96,473.76 210.10,472.63 210.24,473.53 210.39,473.38 210.53,472.56 210.67,472.89 210.81,473.08 210.95,473.31 211.10,473.15 211.24,473.26 211.38,472.79 211.52,472.84 211.66,473.09 211.81,472.68 211.95,472.63 212.09,473.28 212.23,472.97 212.38,472.97 212.52,473.30 212.66,471.88 212.80,472.61 212.94,472.90 213.09,472.79 213.23,473.66 213.37,472.92 213.51,473.54 213.65,473.64 213.80,473.72 213.94,473.31 214.08,473.54 214.22,473.08 214.37,472.91 214.51,473.29 214.65,472.85 214.79,472.15 214.93,472.35 215.08,472.31 215.22,472.15 215.36,471.62 215.50,471.83 215.64,471.05 215.79,470.61 215.93,470.37 216.07,470.38 216.21,468.94 216.35,469.95 216.50,469.09 216.64,468.01 216.78,467.38 216.92,466.92 217.07,466.35 217.21,463.58 217.35,461.89 217.49,457.55 217.63,451.18 217.78,442.72 217.92,430.70 218.06,416.36 218.20,400.22 218.34,384.93 218.49,368.54 218.63,356.57 218.77,350.02 218.91,350.01 219.06,356.59 219.20,369.42 219.34,384.61 219.48,401.19 219.62,416.35 219.77,431.22 219.91,442.16 220.05,451.04 220.19,456.65 220.33,460.88 220.48,463.26 220.62,466.01 220.76,466.73 220.90,467.04 221.04,468.09 221.19,468.61 221.33,469.12 221.47,469.83 221.61,470.07 221.76,469.86 221.90,469.34 222.04,469.39 222.18,469.38 222.32,469.42 222.47,470.36 222.61,470.54 222.75,471.21 222.89,472.05 223.03,472.11 223.18,473.12 223.32,471.46 223.46,472.16 223.60,471.35 223.74,471.47 223.89,471.10 224.03,471.34 224.17,471.31 224.31,471.90 224.46,471.72 224.60,472.32 224.74,472.01 224.88,471.59 225.02,472.19 225.17,471.53 225.31,470.99 225.45,471.20 225.59,471.61 225.73,472.27 225.88,472.13 226.02,472.57 226.16,472.29 226.30,473.36 226.45,472.26 226.59,472.24 226.73,472.05 226.87,472.03 227.01,471.52 227.16,471.66 227.30,471.89 227.44,472.59 227.58,472.61 227.72,472.62 227.87,472.67 228.01,472.13 228.15,472.29 228.29,472.00 228.43,473.06 228.58,471.77 228.72,472.02 228.86,472.28 229.00,472.50 229.15,472.16 229.29,472.47 229.43,473.19 229.57,472.31 229.71,473.21 229.86,472.97 230.00,472.55 230.14,471.84 230.28,472.51 230.42,472.73 230.57,472.49 230.71,472.57 230.85,472.70 230.99,472.56 231.14,473.18 231.28,472.72 231.42,472.87 231.56,472.44 231.70,471.50 231.85,472.47 231.99,472.87 232.13,472.63 232.27,473.54 232.41,473.60 232.56,472.87 232.70,473.58 232.84,473.12 232.98,472.67 233.12,472.16 233.27,472.50 233.41,471.32 233.55,472.04 233.69,472.71 233.84,472.84 233.98,472.57 234.12,472.97 234.26,472.20 234.40,471.96 234.55,472.93 234.69,472.63 234.83,472.16 234.97,472.54 235.11,472.42 235.26,472.34 235.40,472.60 235.54,472.93 235.68,472.05 235.83,472.15 235.97,472.18 236.11,471.85 236.25,471.92 236.39,471.32 236.54,471.68 236.68,472.11 236.82,471.83 236.96,471.93 237.10,472.21 237.25,472.62 237.39,471.94 237.53,472.02 237.67,472.59 237.81,472.58 237.96,472.08 238.10,472.04 238.24,472.01 238.38,472.03 238.53,471.89 238.67,472.04 238.81,472.29 238.95,472.20 239.09,471.73 239.24,471.83 239.38,471.82 239.52,471.94 239.66,472.41 239.80,472.08 239.95,471.10 240.09,471.65 240.23,471.88 240.37,471.05 240.52,471.95 240.66,472.56 240.80,471.53 240.94,472.15 241.08,472.18 241.23,472.46 241.37,472.25 241.51,472.43 241.65,471.85 241.79,471.51 241.94,471.55 242.08,472.15 242.22,471.64 242.36,472.06 242.50,472.12 242.65,472.39 242.79,472.75 242.93,472.01 243.07,472.39 243.22,471.64 243.36,471.37 243.50,471.13 243.64,472.42 243.78,471.41 243.93,471.74 244.07,471.17 244.21,471.21 244.35,470.96 244.49,471.71 244.64,471.66 244.78,471.30 244.92,471.88 245.06,472.06 245.21,472.05 245.35,471.80 245.49,472.05 245.63,472.02 245.77,471.72 245.92,471.16 246.06,471.42 246.20,472.21 246.34,471.54 246.48,471.77 246.63,471.72 246.77,471.53 246.91,472.27 247.05,471.50 247.19,472.12 247.34,471.64 247.48,471.44 247.62,471.49 247.76,470.97 247.91,471.39 248.05,471.43 248.19,471.12 248.33,470.87 248.47,470.36 248.62,470.57 248.76,469.89 248.90,469.72 249.04,469.84 249.18,470.76 249.33,470.56 249.47,470.61 249.61,471.30 249.75,470.84 249.90,470.45 250.04,470.77 250.18,470.74 250.32,470.76 250.46,469.73 250.61,470.13 250.75,470.75 250.89,470.59 251.03,470.41 251.17,469.94 251.32,470.51 251.46,470.38 251.60,470.35 251.74,470.82 251.88,470.53 252.03,470.94 252.17,470.93 252.31,470.30 252.45,470.51 252.60,470.40 252.74,470.15 252.88,469.43 253.02,469.55 253.16,469.83 253.31,469.88 253.45,470.29 253.59,470.78 253.73,470.83 253.87,471.03 254.02,471.43 254.16,470.97 254.30,470.88 254.44,470.78 254.58,470.54 254.73,470.82 254.87,470.90 255.01,470.35 255.15,469.90 255.30,469.96 255.44,470.13 255.58,469.54 255.72,469.78 255.86,469.46 256.01,469.30 256.15,469.90 256.29,470.03 256.43,469.85 256.57,469.74 256.72,469.73 256.86,469.68 257.00,470.17 257.14,469.64 257.29,469.48 257.43,469.42 257.57,469.19 257.71,469.31 257.85,468.99 258.00,469.66 258.14,469.01 258.28,469.55 258.42,468.50 258.56,468.94 258.71,468.78 258.85,469.26 258.99,468.62 259.13,468.41 259.27,468.64 259.42,468.52 259.56,467.95 259.70,467.97 259.84,467.20 259.99,466.67 260.13,466.47 260.27,467.00 260.41,467.03 260.55,466.97 260.70,467.10 260.84,467.11 260.98,466.39 261.12,465.47 261.26,464.62 261.41,463.02 261.55,462.35 261.69,460.02 261.83,458.18 261.98,455.13 262.12,452.04 262.26,448.83 262.40,445.29 262.54,440.54 262.69,437.47 262.83,435.06 262.97,432.12 263.11,430.67 263.25,430.67 263.40,431.56 263.54,433.90 263.68,436.80 263.82,440.09 263.96,444.62 264.11,448.45 264.25,452.64 264.39,455.06 264.53,458.06 264.68,461.24 264.82,462.42 264.96,464.36 265.10,464.79 265.24,466.05 265.39,465.94 265.53,466.38 265.67,467.10 265.81,467.54 265.95,467.58 266.10,468.34 266.24,467.82 266.38,468.35 266.52,468.01 266.67,468.01 266.81,468.55 266.95,468.21 267.09,467.90 267.23,468.61 267.38,468.88 267.52,468.77 267.66,468.54 267.80,468.32 267.94,468.36 268.09,468.70 268.23,469.05 268.37,468.15 268.51,468.44 268.65,468.77 268.80,468.61 268.94,468.49 269.08,468.32 269.22,468.71 269.37,468.57 269.51,468.61 269.65,468.37 269.79,469.18 269.93,469.30 270.08,469.30 270.22,468.83 270.36,469.24 270.50,469.01 270.64,468.66 270.79,468.24 270.93,468.74 271.07,468.92 271.21,468.09 271.36,468.82 271.50,468.59 271.64,468.73 271.78,469.01 271.92,469.36 272.07,469.29 272.21,469.03 272.35,469.69 272.49,469.53 272.63,469.21 272.78,469.54 272.92,468.87 273.06,469.10 273.20,469.05 273.34,468.79 273.49,468.76 273.63,468.57 273.77,468.49 273.91,468.41 274.06,468.46 274.20,468.73 274.34,468.76 274.48,468.99 274.62,469.10 274.77,469.43 274.91,468.50 275.05,468.36 275.19,468.68 275.33,468.43 275.48,468.05 275.62,467.52 275.76,467.81 275.90,466.80 276.05,466.46 276.19,466.43 276.33,465.72 276.47,466.00 276.61,466.13 276.76,465.96 276.90,466.75 277.04,467.26 277.18,467.41 277.32,467.47 277.47,467.93 277.61,468.14 277.75,468.82 277.89,469.31 278.03,469.11 278.18,469.94 278.32,469.53 278.46,469.97 278.60,470.36 278.75,470.42 278.89,469.96 279.03,469.39 279.17,469.14 279.31,469.33 279.46,469.32 279.60,469.49 279.74,469.07 279.88,469.76 280.02,469.96 280.17,469.61 280.31,469.65 280.45,470.10 280.59,469.68 280.74,470.13 280.88,470.40 281.02,469.77 281.16,470.04 281.30,470.03 281.45,470.03 281.59,469.94 281.73,469.91 281.87,469.47 282.01,469.39 282.16,469.40 282.30,469.40 282.44,469.02 282.58,469.28 282.72,469.37 282.87,469.44 283.01,469.89 283.15,470.24 283.29,469.78 283.44,470.22 283.58,469.62 283.72,470.27 283.86,470.34 284.00,470.07 284.15,470.13 284.29,469.95 284.43,470.00 284.57,469.69 284.71,470.50 284.86,470.03 285.00,470.00 285.14,469.54 285.28,469.62 285.43,469.59 285.57,469.24 285.71,469.05 285.85,469.65 285.99,469.20 286.14,469.64 286.28,469.74 286.42,469.36 286.56,470.11 286.70,469.98 286.85,469.80 286.99,470.26 287.13,469.79 287.27,470.44 287.41,470.18 287.56,470.04 287.70,470.47 287.84,470.15 287.98,469.99 288.13,470.28 288.27,470.30 288.41,469.88 288.55,470.28 288.69,470.39 288.84,470.90 288.98,470.64 289.12,470.15 289.26,470.38 289.40,470.32 289.55,470.62 289.69,470.69 289.83,470.57 289.97,470.67 290.12,470.45 290.26,470.54 290.40,470.86 290.54,471.72 290.68,471.07 290.83,470.84 290.97,471.20 291.11,471.47 291.25,470.81 291.39,470.75 291.54,470.94 291.68,470.42 291.82,470.16 291.96,470.04 292.10,470.46 292.25,470.16 292.39,470.35 292.53,470.61 292.67,470.19 292.82,470.17 292.96,470.71 293.10,470.66 293.24,470.68 293.38,470.76 293.53,471.29 293.67,471.06 293.81,470.81 293.95,470.77 294.09,470.66 294.24,470.47 294.38,470.39 294.52,470.88 294.66,471.40 294.80,471.93 294.95,471.49 295.09,471.44 295.23,471.06 295.37,471.37 295.52,470.46 295.66,470.51 295.80,470.22 295.94,470.42 296.08,470.77 296.23,470.70 296.37,470.55 296.51,470.91 296.65,471.23 296.79,470.91 296.94,470.50 297.08,471.02 297.22,471.46 297.36,471.05 297.51,471.08 297.65,470.80 297.79,470.66 297.93,470.50 298.07,470.93 298.22,470.45 298.36,470.14 298.50,470.99 298.64,470.96 298.78,471.38 298.93,471.53 299.07,471.27 299.21,471.21 299.35,470.93 299.49,470.58 299.64,470.77 299.78,470.30 299.92,470.44 300.06,470.93 300.21,470.89 300.35,470.51 300.49,470.61 300.63,470.59 300.77,470.47 300.92,470.14 301.06,470.26 301.20,470.90 301.34,470.22 301.48,470.13 301.63,470.37 301.77,469.87 301.91,469.99 302.05,469.65 302.20,470.24 302.34,470.06 302.48,470.64 302.62,470.32 302.76,469.78 302.91,470.03 303.05,469.56 303.19,470.45 303.33,471.03 303.47,470.98 303.62,471.14 303.76,471.19 303.90,471.29 304.04,471.50 304.18,470.90 304.33,470.71 304.47,470.57 304.61,470.34 304.75,470.85 304.90,470.79 305.04,470.44 305.18,470.97 305.32,470.87 305.46,470.90 305.61,470.46 305.75,470.71 305.89,470.57 306.03,470.79 306.17,471.01 306.32,471.30 306.46,471.24 306.60,471.13 306.74,470.70 306.89,470.58 307.03,470.67 307.17,470.67 307.31,470.40 307.45,470.41 307.60,470.49 307.74,470.71 307.88,470.41 308.02,470.43 308.16,470.33 308.31,470.78 308.45,470.21 308.59,469.95 308.73,471.30 308.87,471.23 309.02,470.78 309.16,470.52 309.30,471.49 309.44,471.35 309.59,471.00 309.73,470.90 309.87,471.50 310.01,471.08 310.15,471.19 310.30,470.91 310.44,471.18 310.58,470.52 310.72,470.92 310.86,471.36 311.01,470.96 311.15,470.97 311.29,471.49 311.43,471.63 311.58,470.98 311.72,470.94 311.86,471.13 312.00,470.80 312.14,470.26 312.29,470.47 312.43,470.67 312.57,470.56 312.71,470.57 312.85,470.40 313.00,469.98 313.14,470.33 313.28,470.27 313.42,470.08 313.56,470.25 313.71,470.30 313.85,470.23 313.99,470.45 314.13,469.85 314.28,470.46 314.42,470.31 314.56,470.60 314.70,470.46 314.84,470.49 314.99,471.19 315.13,471.25 315.27,470.98 315.41,470.80 315.55,471.12 315.70,470.78 315.84,470.85 315.98,470.89 316.12,470.44 316.27,470.61 316.41,470.90 316.55,470.76 316.69,470.32 316.83,470.10 316.98,470.25 317.12,470.65 317.26,470.15 317.40,470.13 317.54,470.14 317.69,470.51 317.83,470.73 317.97,470.21 318.11,470.56 318.25,470.29 318.40,470.42 318.54,470.29 318.68,470.61 318.82,470.36 318.97,470.96 319.11,470.20 319.25,470.94 319.39,470.09 319.53,469.95 319.68,470.42 319.82,470.51 319.96,470.60 320.10,470.69 320.24,470.77 320.39,470.88 320.53,470.93 320.67,471.33 320.81,471.04 320.96,470.92 321.10,470.65 321.24,471.20 321.38,471.24 321.52,471.12 321.67,470.89 321.81,470.91 321.95,470.98 322.09,470.63 322.23,470.82 322.38,470.90 322.52,471.26 322.66,471.37 322.80,470.83 322.94,471.88 323.09,471.31 323.23,470.55 323.37,471.05 323.51,471.02 323.66,470.54 323.80,470.58 323.94,469.98 324.08,470.55 324.22,470.62 324.37,470.99 324.51,471.19 324.65,471.20 324.79,470.38 324.93,471.13 325.08,470.91 325.22,470.64 325.36,470.70 325.50,470.78 325.64,470.49 325.79,470.33 325.93,470.61 326.07,469.86 326.21,469.87 326.36,470.27 326.50,470.33 326.64,470.35 326.78,470.70 326.92,470.64 327.07,469.95 327.21,470.52 327.35,470.92 327.49,470.29 327.63,470.62 327.78,470.18 327.92,470.24 328.06,470.57 328.20,470.21 328.35,469.84 328.49,470.28 328.63,469.67 328.77,470.29 328.91,470.44 329.06,470.54 329.20,471.21 329.34,471.45 329.48,471.95 329.62,471.15 329.77,471.19 329.91,470.96 330.05,471.08 330.19,470.39 330.33,470.76 330.48,470.99 330.62,470.89 330.76,470.81 330.90,470.83 331.05,471.02 331.19,470.63 331.33,470.60 331.47,470.40 331.61,470.22 331.76,469.81 331.90,470.47 332.04,470.36 332.18,470.34 332.32,470.69 332.47,470.37 332.61,470.53 332.75,470.85 332.89,470.47 333.04,470.41 333.18,470.40 333.32,470.28 333.46,470.48 333.60,470.47 333.75,470.58 333.89,469.85 334.03,470.38 334.17,469.94 334.31,470.38 334.46,470.83 334.60,470.21 334.74,471.01 334.88,470.57 335.02,470.55 335.17,470.41 335.31,470.68 335.45,471.13 335.59,470.19 335.74,470.00 335.88,470.66 336.02,471.26 336.16,470.81 336.30,471.15 336.45,470.30 336.59,470.81 336.73,470.31 336.87,470.19 337.01,470.25 337.16,469.88 337.30,470.01 337.44,469.84 337.58,470.34 337.73,469.99 337.87,471.02 338.01,471.24 338.15,470.77 338.29,470.21 338.44,470.96 338.58,470.46 338.72,470.52 338.86,470.10 339.00,470.64 339.15,470.20 339.29,470.20 339.43,470.19 339.57,470.04 339.71,470.10 339.86,470.23 340.00,469.80 340.14,469.78 340.28,469.60 340.43,469.75 340.57,469.72 340.71,469.72 340.85,470.48 340.99,470.81 341.14,470.59 341.28,470.36 341.42,470.46 341.56,470.62 341.70,470.54 341.85,470.23 341.99,470.24 342.13,470.73 342.27,471.11 342.42,471.23 342.56,471.32 342.70,471.51 342.84,471.54 342.98,470.58 343.13,470.56 343.27,470.68 343.41,469.67 343.55,470.11 343.69,470.78 343.84,470.45 343.98,470.51 344.12,470.63 344.26,471.69 344.40,470.84 344.55,471.43 344.69,470.94 344.83,471.40 344.97,471.35 345.12,471.46 345.26,470.85 345.40,471.05 345.54,470.56 345.68,470.98 345.83,471.11 345.97,470.70 346.11,471.14 346.25,471.01 346.39,471.16 346.54,471.30 346.68,470.85 346.82,471.31 346.96,470.90 347.11,470.69 347.25,471.19 347.39,470.86 347.53,470.25 347.67,470.82 347.82,470.66 347.96,470.72 348.10,470.37 348.24,470.26 348.38,469.89 348.53,470.79 348.67,471.33 348.81,470.95 348.95,471.77 349.09,471.65 349.24,471.22 349.38,471.21 349.52,470.91 349.66,470.32 349.81,470.39 349.95,470.81 350.09,470.51 350.23,470.81 350.37,470.96 350.52,470.76 350.66,470.58 350.80,470.48 350.94,470.55 351.08,471.59 351.23,470.97 351.37,471.13 351.51,471.12 351.65,470.60 351.80,470.12 351.94,469.55 352.08,469.51 352.22,469.85 352.36,470.05 352.51,470.30 352.65,469.85 352.79,470.26 352.93,470.09 353.07,470.22 353.22,470.44 353.36,469.96 353.50,470.44 353.64,470.46 353.78,470.46 353.93,470.40 354.07,469.98 354.21,470.16 354.35,470.46 354.50,470.08 354.64,470.05 354.78,470.74 354.92,470.60 355.06,470.76 355.21,470.68 355.35,471.08 355.49,471.11 355.63,471.51 355.77,471.13 355.92,471.13 356.06,471.53 356.20,471.14 356.34,470.75 356.49,471.34 356.63,470.88 356.77,470.70 356.91,470.79 357.05,470.64 357.20,470.66 357.34,470.69 357.48,470.25 357.62,470.46 357.76,470.14 357.91,470.35 358.05,470.53 358.19,470.77 358.33,470.96 358.47,470.57 358.62,470.63 358.76,470.49 358.90,470.31 359.04,469.99 359.19,470.65 359.33,470.13 359.47,470.72 359.61,470.60 359.75,471.37 359.90,470.27 360.04,470.71 360.18,470.21 360.32,470.93 360.46,470.32 360.61,470.37 360.75,470.63 360.89,470.57 361.03,470.40 361.18,470.24 361.32,470.32 361.46,470.39 361.60,470.38 361.74,470.12 361.89,470.78 362.03,470.22 362.17,470.37 362.31,469.82 362.45,470.09 362.60,470.32 362.74,469.58 362.88,470.28 363.02,470.19 363.16,470.10 363.31,470.48 363.45,470.60 363.59,470.05 363.73,469.96 363.88,470.57 364.02,470.43 364.16,470.36 364.30,470.54 364.44,470.45 364.59,470.60 364.73,470.33 364.87,470.28 365.01,469.77 365.15,469.98 365.30,469.28 365.44,470.10 365.58,469.70 365.72,469.85 365.86,470.08 366.01,469.83 366.15,469.41 366.29,469.76 366.43,469.77 366.58,469.79 366.72,469.99 366.86,469.87 367.00,469.76 367.14,469.91 367.29,470.14 367.43,470.31 367.57,470.07 367.71,470.75 367.85,470.25 368.00,469.91 368.14,469.58 368.28,469.71 368.42,469.32 368.57,469.74 368.71,469.35 368.85,469.58 368.99,470.30 369.13,470.34 369.28,470.96 369.42,470.60 369.56,470.62 369.70,470.32 369.84,470.44 369.99,471.80 370.13,470.51 370.27,470.15 370.41,470.43 370.55,470.63 370.70,470.29 370.84,470.02 370.98,469.94 371.12,469.54 371.27,470.28 371.41,470.83 371.55,470.20 371.69,470.95 371.83,470.02 371.98,469.95 372.12,469.56 372.26,468.88 372.40,469.02 372.54,469.44 372.69,468.94 372.83,469.49 372.97,469.37 373.11,469.88 373.26,470.02 373.40,469.71 373.54,469.35 373.68,469.79 373.82,469.48 373.97,468.84 374.11,469.22 374.25,469.46 374.39,469.90 374.53,470.40 374.68,470.29 374.82,470.11 374.96,470.26 375.10,470.56 375.24,470.39 375.39,470.02 375.53,470.85 375.67,470.90 375.81,470.43 375.96,470.03 376.10,470.05 376.24,470.14 376.38,469.59 376.52,470.03 376.67,469.88 376.81,469.98 376.95,469.54 377.09,469.79 377.23,469.33 377.38,469.59 377.52,469.41 377.66,468.95 377.80,469.38 377.95,469.23 378.09,469.99 378.23,469.88 378.37,470.08 378.51,470.37 378.66,470.14 378.80,469.96 378.94,470.30 379.08,470.07 379.22,469.89 379.37,469.53 379.51,469.63 379.65,469.66 379.79,470.25 379.93,469.66 380.08,469.97 380.22,470.59 380.36,470.11 380.50,469.44 380.65,469.63 380.79,469.94 380.93,469.29 381.07,469.48 381.21,469.43 381.36,469.35 381.50,469.80 381.64,470.03 381.78,470.16 381.92,470.11 382.07,469.92 382.21,469.61 382.35,470.35 382.49,469.94 382.64,470.43 382.78,469.88 382.92,469.62 383.06,469.16 383.20,469.04 383.35,468.92 383.49,469.10 383.63,468.90 383.77,469.00 383.91,469.08 384.06,469.36 384.20,468.95 384.34,469.44 384.48,468.87 384.62,469.56 384.77,469.63 384.91,469.13 385.05,468.92 385.19,469.63 385.34,469.42 385.48,469.75 385.62,469.72 385.76,469.60 385.90,470.07 386.05,469.23 386.19,469.06 386.33,469.32 386.47,468.97 386.61,469.39 386.76,469.29 386.90,469.20 387.04,470.36 387.18,469.66 387.33,469.72 387.47,469.48 387.61,470.12 387.75,469.69 387.89,469.66 388.04,469.15 388.18,469.29 388.32,469.58 388.46,469.57 388.60,469.45 388.75,469.50 388.89,469.62 389.03,469.66 389.17,469.80 389.31,469.43 389.46,468.79 389.60,468.73 389.74,469.02 389.88,469.05 390.03,469.06 390.17,469.02 390.31,469.18 390.45,469.16 390.59,469.49 390.74,469.31 390.88,469.31 391.02,469.95 391.16,469.92 391.30,469.96 391.45,469.10 391.59,469.58 391.73,468.82 391.87,468.98 392.02,468.29 392.16,469.24 392.30,469.07 392.44,469.37 392.58,468.61 392.73,468.95 392.87,468.97 393.01,468.98 393.15,469.46 393.29,469.07 393.44,469.48 393.58,469.48 393.72,468.84 393.86,468.75 394.00,469.21 394.15,469.45 394.29,469.16 394.43,468.69 394.57,468.85 394.72,468.92 394.86,468.63 395.00,468.63 395.14,469.39 395.28,469.08 395.43,469.25 395.57,469.73 395.71,469.64 395.85,470.35 395.99,470.17 396.14,470.05 396.28,470.18 396.42,468.81 396.56,469.88 396.70,469.11 396.85,469.82 396.99,469.65 397.13,469.88 397.27,470.51 397.42,470.34 397.56,469.77 397.70,470.31 397.84,470.01 397.98,470.25 398.13,469.93 398.27,470.38 398.41,469.73 398.55,469.84 398.69,469.53 398.84,469.69 398.98,469.67 399.12,469.57 399.26,469.74 399.41,469.93 399.55,470.09 399.69,469.86 399.83,469.92 399.97,469.58 400.12,469.35 400.26,468.94 400.40,468.65 400.54,468.70 400.68,468.29 400.83,468.85 400.97,469.58 401.11,469.26 401.25,469.37 401.39,469.36 401.54,469.64 401.68,469.96 401.82,470.07 401.96,469.92 402.11,469.82 402.25,469.64 402.39,469.31 402.53,469.55 402.67,469.36 402.82,469.54 402.96,469.83 403.10,469.25 403.24,469.61 403.38,469.44 403.53,469.07 403.67,469.25 403.81,469.03 403.95,468.82 404.10,468.82 404.24,468.72 404.38,467.78 404.52,467.97 404.66,466.92 404.81,466.35 404.95,465.43 405.09,464.72 405.23,463.84 405.37,462.95 405.52,461.92 405.66,460.21 405.80,460.08 405.94,458.56 406.08,458.27 406.23,458.22 406.37,458.71 406.51,458.34 406.65,459.42 406.80,460.18 406.94,460.89 407.08,462.35 407.22,462.91 407.36,464.06 407.51,465.05 407.65,465.73 407.79,466.71 407.93,466.57 408.07,467.46 408.22,468.23 408.36,468.66 408.50,468.99 408.64,469.17 408.79,469.23 408.93,469.89 409.07,470.05 409.21,469.83 409.35,469.48 409.50,469.41 409.64,469.06 409.78,468.92 409.92,469.05 410.06,469.13 410.21,469.84 410.35,468.98 410.49,469.12 410.63,469.77 410.77,469.41 410.92,469.96 411.06,470.05 411.20,470.23 411.34,470.39 411.49,470.83 411.63,470.63 411.77,470.12 411.91,469.95 412.05,470.06 412.20,469.82 412.34,469.24 412.48,470.10 412.62,470.71 412.76,470.26 412.91,470.56 413.05,470.61 413.19,471.04 413.33,470.93 413.48,470.81 413.62,471.17 413.76,471.66 413.90,470.72 414.04,471.27 414.19,470.54 414.33,470.60 414.47,470.56 414.61,470.17 414.75,470.20 414.90,470.81 415.04,470.32 415.18,470.13 415.32,470.48 415.46,470.38 415.61,470.27 415.75,470.35 415.89,470.19 416.03,470.47 416.18,470.27 416.32,470.86 416.46,470.40 416.60,470.82 416.74,471.68 416.89,471.02 417.03,471.16 417.17,471.44 417.31,470.83 417.45,471.02 417.60,471.29 417.74,471.47 417.88,471.55 418.02,471.42 418.17,470.52 418.31,470.63 418.45,471.13 418.59,470.48 418.73,470.86 418.88,471.11 419.02,471.11 419.16,470.95 419.30,471.46 419.44,470.79 419.59,471.18 419.73,471.11 419.87,470.66 420.01,470.83 420.15,470.39 420.30,470.88 420.44,470.61 420.58,470.30 420.72,471.05 420.87,471.16 421.01,471.13 421.15,470.99 421.29,470.72 421.43,471.04 421.58,470.46 421.72,470.98 421.86,470.56 422.00,470.72 422.14,471.08 422.29,471.28 422.43,471.15 422.57,471.63 422.71,471.56 422.86,471.14 423.00,471.68 423.14,471.27 423.28,471.48 423.42,470.95 423.57,470.90 423.71,470.78 423.85,470.56 423.99,470.32 424.13,470.85 424.28,470.51 424.42,470.87 424.56,471.34 424.70,471.36 424.84,471.22 424.99,470.81 425.13,471.04 425.27,470.83 425.41,470.96 425.56,470.72 425.70,470.73 425.84,470.76 425.98,471.18 426.12,471.38 426.27,471.72 426.41,471.67 426.55,471.38 426.69,471.35 426.83,471.54 426.98,470.73 427.12,471.25 427.26,471.14 427.40,471.00 427.55,471.08 427.69,471.46 427.83,471.82 427.97,471.92 428.11,471.67 428.26,471.81 428.40,471.95 428.54,471.85 428.68,471.91 428.82,471.82 428.97,471.93 429.11,472.45 429.25,471.64 429.39,472.10 429.53,472.23 429.68,471.63 429.82,471.50 429.96,471.65 430.10,471.48 430.25,471.36 430.39,471.33 430.53,471.55 430.67,471.47 430.81,471.65 430.96,471.34 431.10,471.60 431.24,471.44 431.38,471.62 431.52,471.70 431.67,471.67 431.81,472.13 431.95,471.66 432.09,471.82 432.23,471.86 432.38,471.36 432.52,471.07 432.66,470.66 432.80,471.02 432.95,470.94 433.09,470.85 433.23,471.13 433.37,471.45 433.51,471.45 433.66,471.53 433.80,471.54 433.94,471.50 434.08,471.18 434.22,471.20 434.37,471.51 434.51,471.65 434.65,471.63 434.79,471.19 434.94,471.15 435.08,470.99 435.22,471.58 435.36,471.03 435.50,471.17 435.65,471.12 435.79,470.88 435.93,470.94 436.07,470.79 436.21,470.81 436.36,470.62 436.50,470.95 436.64,470.83 436.78,471.21 436.92,470.93 437.07,471.00 437.21,470.94 437.35,471.20 437.49,471.72 437.64,471.84 437.78,472.07 437.92,471.90 438.06,472.04 438.20,472.00 438.35,472.07 438.49,471.78 438.63,471.66 438.77,471.74 438.91,471.61 439.06,471.89 439.20,471.66 439.34,472.03 439.48,471.54 439.63,472.06 439.77,471.99 439.91,472.24 440.05,472.13 440.19,471.62 440.34,472.14 440.48,471.62 440.62,471.35 440.76,471.77 440.90,471.71 441.05,472.26 441.19,472.00 441.33,471.82 441.47,471.61 441.61,472.53 441.76,472.36 441.90,472.30 442.04,472.04 442.18,472.06 442.33,471.70 442.47,471.19 442.61,471.46 442.75,470.32 442.89,471.28 443.04,471.27 443.18,471.87 443.32,471.34 443.46,471.46 443.60,472.33 443.75,471.71 443.89,471.95 444.03,472.16 444.17,471.93 444.32,471.77 444.46,471.79 444.60,471.70 444.74,471.89 444.88,471.37 445.03,471.54 445.17,471.41 445.31,471.84 445.45,471.25 445.59,471.33 445.74,471.08 445.88,471.28 446.02,471.66 446.16,471.07 446.30,471.25 446.45,471.46 446.59,471.15 446.73,470.79 446.87,470.99 447.02,471.56 447.16,471.68 447.30,472.04 447.44,471.63 447.58,472.14 447.73,472.09 447.87,472.15 448.01,472.33 448.15,472.46 448.29,472.17 448.44,472.12 448.58,472.18 448.72,472.15 448.86,472.05 449.01,471.49 449.15,471.75 449.29,471.70 449.43,472.05 449.57,471.86 449.72,472.08 449.86,471.77 450.00,471.83 450.14,472.37 450.28,471.96 450.43,472.00 450.57,472.03 450.71,472.37 450.85,472.50 450.99,472.38 451.14,472.45 451.28,472.45 451.42,472.58 451.56,472.70 451.71,472.23 451.85,472.56 451.99,472.61 452.13,472.72 452.27,472.42 452.42,472.43 452.56,472.75 452.70,472.37 452.84,472.15 452.98,472.55 453.13,472.56 453.27,472.71 453.41,472.23 453.55,472.00 453.70,472.72 453.84,472.54 453.98,472.41 454.12,472.02 454.26,472.51 454.41,472.57 454.55,472.49 454.69,472.63 454.83,472.28 454.97,472.47 455.12,472.05 455.26,472.06 455.40,472.02 455.54,472.15 455.68,472.66 455.83,472.15 455.97,472.68 456.11,472.74 456.25,472.68 456.40,472.76 456.54,473.15 456.68,472.97 456.82,473.25 456.96,473.17 457.11,472.81 457.25,472.34 457.39,472.47 457.53,472.21 457.67,472.12 457.82,472.11 457.96,471.64 458.10,472.08 458.24,472.42 458.39,471.85 458.53,472.04 458.67,471.83 458.81,471.77 458.95,472.19 459.10,471.75 459.24,471.88 459.38,472.19 459.52,472.50 459.66,472.34 459.81,472.79 459.95,472.79 460.09,472.41 460.23,473.27 460.37,472.92 460.52,472.72 460.66,473.27 460.80,472.85 460.94,472.44 461.09,473.08 461.23,472.64 461.37,472.54 461.51,472.68 461.65,472.61 461.80,472.57 461.94,473.10 462.08,473.17 462.22,472.52 462.36,472.29 462.51,472.68 462.65,473.46 462.79,472.69 462.93,473.32 463.08,473.59 463.22,473.35 463.36,473.59 463.50,473.51 463.64,473.09 463.79,473.20 463.93,473.00 464.07,473.28 464.21,473.26 464.35,472.82 464.50,473.20 464.64,473.30 464.78,473.18 464.92,473.19 465.06,473.14 465.21,472.88 465.35,473.03 465.49,472.23 465.63,472.79 465.78,472.87 465.92,473.19 466.06,473.03 466.20,473.64 466.34,473.40 466.49,473.08 466.63,473.15 466.77,473.71 466.91,473.59 467.05,473.39 467.20,473.13 467.34,473.05 467.48,473.49 467.62,473.19 467.76,473.18 467.91,472.80 468.05,472.98 468.19,472.54 468.33,472.46 468.48,473.11 468.62,472.74 468.76,473.49 468.90,473.92 469.04,473.63 469.19,473.99 469.33,474.01 469.47,473.68 469.61,474.01 469.75,473.25 469.90,473.10 470.04,472.52 470.18,472.84 470.32,472.77 470.47,472.83 470.61,472.47 470.75,472.47 470.89,472.74 471.03,472.47 471.18,472.34 471.32,472.34 471.46,472.78 471.60,472.35 471.74,472.62 471.89,472.37 472.03,472.66 472.17,472.98 472.31,473.69 472.45,473.56 472.60,473.20 472.74,473.15 472.88,473.19 473.02,473.04 473.17,473.12 473.31,472.95 473.45,473.24 473.59,473.33 473.73,472.96 473.88,473.29 474.02,473.65 474.16,473.18 474.30,473.13 474.44,472.75 474.59,473.01 474.73,472.84 474.87,473.03 475.01,472.87 475.16,472.66 475.30,472.99 475.44,473.36 475.58,473.37 475.72,473.19 475.87,473.57 476.01,473.18 476.15,473.14 476.29,472.85 476.43,472.63 476.58,473.30 476.72,473.10 476.86,473.09 477.00,472.83 477.14,472.52 477.29,473.05 477.43,473.14 477.57,473.10 477.71,472.94 477.86,473.37 478.00,472.94 478.14,472.75 478.28,473.35 478.42,473.00 478.57,473.49 478.71,473.47 478.85,473.19 478.99,473.26 479.13,473.39 479.28,473.30 479.42,473.01 479.56,472.90 479.70,473.26 479.85,472.97 479.99,473.35 480.13,472.85 480.27,473.20 480.41,473.13 480.56,472.93 480.70,473.12 480.84,472.88 480.98,473.46 481.12,472.91 481.27,473.52 481.41,473.17 481.55,472.95 481.69,472.57 481.83,473.27 481.98,472.88 482.12,472.84 482.26,472.74 482.40,472.88 482.55,472.74 482.69,473.04 482.83,472.69 482.97,473.48 483.11,472.66 483.26,472.90 483.40,472.97 483.54,472.92 483.68,472.87 483.82,472.69 483.97,472.84 484.11,472.83 484.25,472.51 484.39,472.90 484.54,472.85 484.68,473.20 484.82,473.10 484.96,473.01 485.10,472.75 485.25,473.14 485.39,473.19 485.53,473.15 485.67,473.24 485.81,472.88 485.96,472.82 486.10,473.05 486.24,472.76 486.38,473.08 486.52,472.70 486.67,472.96 486.81,472.36 486.95,472.25 487.09,472.46 487.24,472.13 487.38,472.55 487.52,472.47 487.66,472.43 487.80,472.74 487.95,472.58 488.09,472.97 488.23,472.76 488.37,472.77 488.51,472.80 488.66,472.86 488.80,472.95 488.94,472.90 489.08,472.90 489.23,472.87 489.37,472.72 489.51,472.63 489.65,472.07 489.79,471.85 489.94,471.96 490.08,472.39 490.22,472.33 490.36,472.68 490.50,472.40 490.65,472.58 490.79,472.42 490.93,471.88 491.07,472.60 491.21,471.56 491.36,471.79 491.50,472.01 491.64,471.54 491.78,471.60 491.93,471.43 492.07,471.29 492.21,471.30 492.35,471.90 492.49,471.73 492.64,471.50 492.78,471.89 492.92,471.31 493.06,471.53 493.20,471.02 493.35,471.12 493.49,470.56 493.63,470.41 493.77,470.65 493.92,471.30 494.06,471.63 494.20,471.56 494.34,471.70 494.48,471.07 494.63,471.26 494.77,471.24 494.91,470.58 495.05,470.18 495.19,470.22 495.34,470.64 495.48,470.64 495.62,471.32 495.76,471.20 495.90,471.10 496.05,470.78 496.19,470.14 496.33,469.45 496.47,469.05 496.62,468.38 496.76,467.74 496.90,467.37 497.04,466.63 497.18,465.85 497.33,465.57 497.47,464.51 497.61,464.01 497.75,463.13 497.89,463.22 498.04,462.29 498.18,462.53 498.32,462.01 498.46,462.26 498.61,462.19 498.75,462.71 498.89,463.22 499.03,464.03 499.17,464.74 499.32,465.64 499.46,465.68 499.60,466.75 499.74,467.29 499.88,467.36 500.03,468.17 500.17,468.74 500.31,469.38 500.45,469.77 500.59,469.65 500.74,470.70 500.88,470.49 501.02,470.05 501.16,470.24 501.31,470.18 501.45,470.33 501.59,470.52 501.73,470.31 501.87,470.88 502.02,471.06 502.16,471.52 502.30,471.00 502.44,471.26 502.58,470.66 502.73,470.98 502.87,471.07 503.01,470.40 503.15,470.82 503.29,470.80 503.44,470.87 503.58,471.23 503.72,471.14 503.86,471.52 504.01,471.19 504.15,471.29 504.29,471.30 504.43,471.21 504.57,471.03 504.72,471.04 504.86,471.12 505.00,471.10 505.14,470.47 505.28,470.62 505.43,470.95 505.57,471.29 505.71,470.89 505.85,471.22 506.00,471.36 506.14,471.43 506.28,471.44 506.42,471.52 506.56,471.54 506.71,472.13 506.85,471.93 506.99,472.06 507.13,471.22 507.27,471.44 507.42,471.27 507.56,470.45 507.70,470.53 507.84,471.11 507.98,470.75 508.13,470.80 508.27,470.85 508.41,470.97 508.55,471.23 508.70,471.08 508.84,471.06 508.98,470.93 509.12,471.13 509.26,471.33 509.41,471.62 509.55,472.01 509.69,471.70 509.83,472.01 509.97,471.47 510.12,471.51 510.26,471.51 510.40,470.84 510.54,471.09 510.69,470.88 510.83,470.66 510.97,470.74 511.11,470.72 511.25,471.09 511.40,471.37 511.54,471.26 511.68,471.17 511.82,471.29 511.96,471.38 512.11,471.39 512.25,471.11 512.39,471.15 512.53,471.38 512.67,471.45 512.82,471.30 512.96,471.16 513.10,471.29 513.24,470.94 513.39,471.20 513.53,471.00 513.67,470.67 513.81,470.26 513.95,470.96 514.10,471.34 514.24,471.01 514.38,471.26 514.52,471.62 514.66,472.09 514.81,472.10 514.95,471.79 515.09,471.29 515.23,471.84 515.38,472.00 515.52,471.68 515.66,471.48 515.80,470.94 515.94,471.12 516.09,470.79 516.23,470.67 516.37,470.10 516.51,470.42 516.65,470.11 516.80,470.44 516.94,470.41 517.08,470.62 517.22,470.18 517.36,470.55 517.51,471.03 517.65,470.95 517.79,471.00 517.93,470.62 518.08,470.53 518.22,470.82 518.36,470.51 518.50,470.70 518.64,470.61 518.79,470.49 518.93,470.31 519.07,470.83 519.21,470.48 519.35,470.81 519.50,470.39 519.64,470.59 519.78,470.51 519.92,470.72 520.07,470.79 520.21,470.42 520.35,470.60 520.49,470.60 520.63,470.48 520.78,470.23 520.92,470.42 521.06,470.12 521.20,470.27 521.34,470.27 521.49,470.16 521.63,470.20 521.77,470.43 521.91,470.31 522.05,470.36 522.20,470.24 522.34,470.32 522.48,470.25 522.62,470.45 522.77,470.46 522.91,470.50 523.05,469.87 523.19,470.45 523.33,470.16 523.48,470.51 523.62,470.28 523.76,470.18 523.90,470.78 524.04,469.90 524.19,470.43 524.33,470.20 524.47,470.59 524.61,470.33 524.76,470.47 524.90,470.47 525.04,470.58 525.18,469.86 525.32,470.65 525.47,470.37 525.61,470.00 525.75,470.08 525.89,469.84 526.03,469.63 526.18,469.37 526.32,468.95 526.46,469.53 526.60,469.11 526.74,469.61 526.89,469.05 527.03,468.98 527.17,469.19 527.31,469.19 527.46,468.62 527.60,468.11 527.74,468.05 527.88,468.31 528.02,467.43 528.17,467.84 528.31,467.88 528.45,467.97 528.59,468.28 528.73,468.37 528.88,468.46 529.02,468.50 529.16,468.99 529.30,468.85 529.45,468.75 529.59,469.47 529.73,469.51 529.87,468.98 530.01,468.82 530.16,469.19 530.30,469.22 530.44,469.40 530.58,469.49 530.72,469.86 530.87,469.64 531.01,469.75 531.15,469.74 531.29,470.02 531.43,469.69 531.58,469.93 531.72,469.65 531.86,469.80 532.00,470.00 532.15,469.59 532.29,469.81 532.43,469.73 532.57,469.53 532.71,469.88 532.86,469.52 533.00,469.58 533.14,469.81 533.28,469.88 533.42,470.28 533.57,470.22 533.71,470.00 533.85,470.06 533.99,470.16 534.14,470.22 534.28,470.12 534.42,470.35 534.56,470.11 534.70,470.31 534.85,470.18 534.99,469.84 535.13,469.84 535.27,470.41 535.41,470.06 535.56,469.88 535.70,470.42 535.84,469.96 535.98,470.45 536.12,470.08 536.27,470.20 536.41,470.02 536.55,469.71 536.69,469.67 536.84,469.70 536.98,470.47 537.12,469.96 537.26,469.60 537.40,470.16 537.55,469.70 537.69,469.21 537.83,470.09 537.97,469.96 538.11,469.64 538.26,470.03 538.40,469.85 538.54,469.74 538.68,469.66 538.83,469.98 538.97,469.93 539.11,469.90 539.25,469.76 539.39,469.66 539.54,470.21 539.68,469.57 539.82,470.27 539.96,469.90 540.10,470.06 540.25,469.54 540.39,470.21 540.53,470.01 540.67,469.85 540.81,469.91 540.96,469.83 541.10,469.50 541.24,469.91 541.38,469.25 541.53,469.79 541.67,469.74 541.81,470.35 541.95,470.30 542.09,470.14 542.24,470.22 542.38,470.44 542.52,470.58 542.66,470.68 542.80,470.47 542.95,470.24 543.09,470.26 543.23,469.82 543.37,470.03 543.51,469.88 543.66,470.19 543.80,469.92 543.94,469.77 544.08,470.01 544.23,469.74 544.37,469.94 544.51,470.14 544.65,470.17 544.79,469.96 544.94,469.91 545.08,470.06 545.22,470.10 545.36,470.35 545.50,470.05 545.65,470.06 545.79,470.26 545.93,469.73 546.07,470.13 546.22,469.89 546.36,469.72 546.50,469.73 546.64,469.69 546.78,469.91 546.93,469.86 547.07,470.04 547.21,470.21 547.35,470.41 547.49,470.31 547.64,469.81 547.78,470.24 547.92,470.04 548.06,469.86 548.20,469.60 548.35,469.80 548.49,469.64 548.63,469.81 548.77,469.89 548.92,470.29 549.06,470.69 549.20,470.17 549.34,470.14 549.48,469.77 549.63,470.02 549.77,469.55 549.91,469.83 550.05,470.02 550.19,469.80 550.34,469.81 550.48,470.25 550.62,469.97 550.76,469.87 550.91,470.02 551.05,470.06 551.19,469.93 551.33,469.93 551.47,470.24 551.62,469.96 551.76,470.13 551.90,470.34 552.04,470.14 552.18,470.19 552.33,470.28 552.47,470.33 552.61,470.21 552.75,470.11 552.89,469.74 553.04,469.92 553.18,469.83 553.32,470.13 553.46,470.18 553.61,470.22 553.75,470.07 553.89,469.92 554.03,470.32 554.17,470.11 554.32,470.15 554.46,470.11 554.60,469.59 554.74,470.28 554.88,470.12 555.03,470.21 555.17,470.35 555.31,470.00 555.45,469.80 555.60,469.91 555.74,469.79 555.88,470.03 556.02,469.42 556.16,469.58 556.31,469.64 556.45,469.68 556.59,469.46 556.73,469.77 556.87,469.69 557.02,469.63 557.16,469.76 557.30,470.16 557.44,470.10 557.58,469.97 557.73,470.26 557.87,470.03 558.01,469.71 558.15,470.13 558.30,470.14 558.44,470.36 558.58,470.01 558.72,470.03 558.86,470.06 559.01,470.16 559.15,469.92 559.29,470.15 559.43,470.42 559.57,470.49 559.72,470.43 559.86,470.30 560.00,470.65 560.14,470.72 560.29,470.55 560.43,470.19 560.57,470.26 560.71,470.62 560.85,470.48 561.00,470.45 561.14,470.73 561.28,470.68 561.42,470.49 561.56,470.97 561.71,470.48 561.85,470.64 561.99,470.79 562.13,470.29 562.27,470.47 562.42,469.68 562.56,470.41 562.70,470.18 562.84,469.81 562.99,470.12 563.13,469.95 563.27,470.06 563.41,469.91 563.55,469.84 563.70,469.81 563.84,469.85 563.98,469.99 564.12,470.08 564.26,470.22 564.41,470.50 564.55,470.88 564.69,470.61 564.83,470.84 564.98,470.62 565.12,470.60 565.26,470.72 565.40,470.58 565.54,470.36 565.69,470.45 565.83,470.22 565.97,470.28 566.11,470.35 566.25,470.41 566.40,470.67 566.54,470.33 566.68,470.71 566.82,470.93 566.96,470.99 567.11,470.92 567.25,470.98 567.39,470.93 567.53,470.82 567.68,470.91 567.82,471.18 567.96,470.79 568.10,470.75 568.24,470.93 568.39,470.52 568.53,470.72 568.67,470.51 568.81,470.69 568.95,470.75 569.10,471.50 569.24,470.87 569.38,471.14 569.52,470.82 569.67,471.09 569.81,470.96 569.95,470.88 570.09,470.71 570.23,470.45 570.38,470.78 570.52,470.79 570.66,470.44 570.80,470.37 570.94,470.71 571.09,470.64 571.23,470.26 571.37,470.41 571.51,470.16 571.65,470.26 571.80,470.39 571.94,470.48 572.08,470.36 572.22,471.12 572.37,471.10 572.51,471.39 572.65,471.10 572.79,470.78 572.93,470.39 573.08,470.54 573.22,470.41 573.36,470.55 573.50,470.30 573.64,470.44 573.79,470.38 573.93,470.32 574.07,470.49 574.21,470.51 574.36,470.78 574.50,470.94 574.64,470.93 574.78,470.83 574.92,471.20 575.07,470.76 575.21,471.30 575.35,471.07 575.49,470.76 575.63,471.24 575.78,470.73 575.92,471.01 576.06,470.85 576.20,470.85 576.34,470.47 576.49,470.39 576.63,470.42 576.77,470.76 576.91,470.93 577.06,470.90 577.20,471.41 577.34,470.90 577.48,470.91 577.62,471.04 577.77,470.65 577.91,470.79 578.05,470.71 578.19,471.01 578.33,471.16 578.48,470.93 578.62,471.39 578.76,471.30 578.90,471.42 579.04,471.29 579.19,471.66 579.33,471.01 579.47,471.34 579.61,470.99 579.76,470.95 579.90,470.98 580.04,471.20 580.18,471.20 580.32,471.10 580.47,471.09 580.61,471.23 580.75,471.50 580.89,471.74 581.03,471.57 581.18,471.75 581.32,471.91 581.46,471.76 581.60,471.60 581.75,471.38 581.89,471.46 582.03,471.39 582.17,471.51 582.31,471.62 582.46,471.78 582.60,471.52 582.74,471.52 582.88,471.55 583.02,471.46 583.17,471.45 583.31,471.55 583.45,471.57 583.59,471.76 583.73,471.48 583.88,471.43 584.02,471.50 584.16,471.34 584.30,471.55 584.45,471.57 584.59,471.50 584.73,471.49 584.87,471.66 585.01,471.80 585.16,471.64 585.30,471.29 585.44,471.18 585.58,471.10 585.72,471.61 585.87,471.43 586.01,471.45 586.15,471.47 586.29,471.46 586.44,471.06 586.58,470.98 586.72,471.39 586.86,471.52 587.00,471.44 587.15,471.40 587.29,471.59 587.43,471.45 587.57,471.16 587.71,471.77 587.86,471.85 588.00,471.81 588.14,471.91 588.28,471.83 588.42,471.75 588.57,471.80 588.71,471.52 588.85,471.56 588.99,471.66 589.14,471.54 589.28,471.87 589.42,472.05 589.56,472.00 589.70,472.17 589.85,472.24 589.99,472.28 590.13,472.08 590.27,471.95 590.41,471.98 590.56,471.74 590.70,472.10 590.84,471.92 590.98,472.12 591.13,471.82 591.27,472.04 591.41,471.99 591.55,472.25 591.69,472.11 591.84,472.18 591.98,472.22 592.12,472.25 592.26,472.08 592.40,472.21 592.55,472.11 592.69,472.35 592.83,471.89 592.97,472.08 593.11,472.22 593.26,472.17 593.40,472.11 593.54,472.33 593.68,471.93 593.83,472.08 593.97,472.23 594.11,472.01 594.25,472.01 594.39,472.47 594.54,472.29 594.68,472.27 594.82,471.81 594.96,471.96 595.10,471.99 595.25,472.29 595.39,471.99 595.53,472.34 595.67,472.04 595.82,472.08 595.96,472.20 596.10,472.16 596.24,472.23 596.38,472.31 596.53,472.45 596.67,472.70 596.81,472.67 596.95,472.79 597.09,472.83 597.24,472.42 597.38,472.78 597.52,472.88 597.66,472.87 597.80,472.61 597.95,472.48 598.09,472.71 598.23,472.53 598.37,472.66 598.52,472.53 598.66,472.81 598.80,472.59 598.94,472.35 599.08,472.37 599.23,472.40 599.37,472.45 599.51,472.55 599.65,472.41 599.79,472.18 599.94,472.36 600.08,472.39 600.22,472.52 600.36,472.33 600.51,472.32 600.65,472.60 600.79,472.38 600.93,472.48 601.07,472.30 601.22,472.32 601.36,472.11 601.50,472.51 601.64,472.46 601.78,472.05 601.93,472.27 602.07,472.38 602.21,472.81 602.35,472.56 602.49,472.56 602.64,472.08 602.78,472.32 602.92,472.53 603.06,472.57 603.21,472.40 603.35,472.60 603.49,472.61 603.63,472.54 603.77,472.82 603.92,472.52 604.06,472.32 604.20,472.26 604.34,472.10 604.48,472.31 604.63,471.90 604.77,472.14 604.91,472.43 605.05,472.16 605.20,472.40 605.34,472.74 605.48,472.59 605.62,472.53 605.76,472.94 605.91,472.78 606.05,472.85 606.19,472.80 606.33,472.69 606.47,472.54 606.62,472.58 606.76,472.46 606.90,472.48 607.04,472.64 607.18,472.75 607.33,473.08 607.47,472.98 607.61,473.14 607.75,473.08 607.90,473.27 608.04,472.77 608.18,473.21 608.32,473.18 608.46,472.90 608.61,472.98 608.75,473.05 608.89,472.63 609.03,472.81 609.17,472.88 609.32,472.88 609.46,472.96 609.60,472.86 609.74,473.29 609.88,473.35 610.03,473.19 610.17,473.27 610.31,472.63 610.45,472.99 610.60,472.89 610.74,472.68 610.88,472.90 611.02,473.23 611.16,472.99 611.31,473.63 611.45,473.54 611.59,473.40 611.73,473.60 611.87,473.40 612.02,473.05 612.16,473.09 612.30,473.02 612.44,472.63 612.59,473.03 612.73,472.92 612.87,472.95 613.01,473.14 613.15,473.34 613.30,473.23 613.44,473.48 613.58,473.42 613.72,473.62 613.86,473.32 614.01,473.31 614.15,473.47 614.29,473.42 614.43,473.47 614.57,473.20 614.72,473.52 614.86,473.27 615.00,473.27 615.14,473.20 615.29,473.37 615.43,473.38 615.57,473.25 615.71,473.38 615.85,473.14 616.00,473.12 616.14,473.04 616.28,473.17 616.42,473.01 616.56,473.15 616.71,473.36 616.85,473.26 616.99,473.28 617.13,473.47 617.28,472.94 617.42,473.33 617.56,473.32 617.70,473.13 617.84,473.41 617.99,473.53 618.13,473.38 618.27,473.45 618.41,473.61 618.55,473.59 618.70,473.41 618.84,473.35 618.98,473.41 619.12,473.19 619.26,473.01 619.41,472.60 619.55,472.78 619.69,472.94 619.83,473.23 619.98,473.11 620.12,473.59 620.26,473.62 620.40,473.60 620.54,473.51 620.69,473.10 620.83,473.26 620.97,473.09 621.11,473.40 621.25,473.35 621.40,473.20 621.54,473.28 621.68,473.37 621.82,473.43 621.97,473.42 622.11,473.43 622.25,473.42 622.39,473.60 622.53,473.60 622.68,473.44 622.82,473.37 622.96,473.52 623.10,473.54 623.24,473.44 623.39,473.70 623.53,473.45 623.67,473.52 623.81,473.52 623.95,473.58 624.10,473.71 624.24,473.53 624.38,473.77 624.52,473.76 624.67,473.17 624.81,473.33 624.95,473.18 625.09,473.44 625.23,473.73 625.38,473.80 625.52,473.61 625.66,473.80 625.80,473.86 625.94,473.84 626.09,473.63 626.23,473.53 626.37,473.79 626.51,473.53 626.66,473.84 626.80,473.48 626.94,473.83 627.08,473.72 627.22,473.80 627.37,473.77 627.51,473.82 627.65,473.61 627.79,473.66 627.93,473.77 628.08,473.75 628.22,473.79 628.36,473.85 628.50,473.85 628.64,473.58 628.79,473.45 628.93,473.60 629.07,473.60 629.21,473.82 629.36,473.76 629.50,473.97 629.64,474.47 629.78,474.01 629.92,474.18 630.07,474.40 630.21,474.40 630.35,474.55 630.49,474.17 630.63,474.00 630.78,474.23 630.92,474.34 631.06,473.79 631.20,473.74 631.35,473.79 631.49,473.91 631.63,473.95 631.77,473.72 631.91,474.05 632.06,473.78 632.20,474.07 632.34,474.31 632.48,474.25 632.62,474.56 632.77,474.75 632.91,474.30 633.05,474.50 633.19,474.50 633.33,474.71 633.48,474.62 633.62,474.27 633.76,474.16 633.90,474.01 634.05,473.89 634.19,473.60 634.33,473.69 634.47,473.90 634.61,473.96 634.76,474.02 634.90,473.77 635.04,474.08 635.18,473.71 635.32,473.95 635.47,474.10 635.61,474.01 635.75,474.20 635.89,474.03 636.04,474.44 636.18,474.39 636.32,473.96 636.46,474.39 636.60,474.48 636.75,474.60 636.89,474.35 637.03,474.48 637.17,474.18 637.31,474.46 637.46,474.45 637.60,474.29 637.74,474.20 637.88,474.03 638.02,473.89 638.17,474.30 638.31,474.17 638.45,474.26 638.59,474.13 638.74,474.27 638.88,474.38 639.02,474.26 639.16,474.37 639.30,474.61 639.45,474.76 639.59,474.91 639.73,474.79 639.87,474.52 640.01,474.76 640.16,474.63 640.30,474.44 640.44,474.45 640.58,474.32 640.73,474.55 640.87,474.38 641.01,474.60 641.15,474.45 641.29,474.24 641.44,474.62 641.58,474.73 641.72,474.72 641.86,474.77 642.00,474.90 642.15,474.80 642.29,474.71 642.43,474.62 642.57,474.92 642.71,475.19 642.86,475.25 643.00,474.91 643.14,474.75 643.28,474.72 643.43,474.79 643.57,474.81 643.71,474.62 643.85,474.63 643.99,474.67 644.14,474.61 644.28,474.71 644.42,474.70 644.56,474.88 644.70,474.83 644.85,474.58 644.99,474.45 645.13,474.62 645.27,474.37 645.42,474.44 645.56,474.58 645.70,474.61 645.84,474.79 645.98,474.91 646.13,474.72 646.27,475.20 646.41,475.02 646.55,474.88 646.69,474.95 646.84,475.29 646.98,475.28 647.12,475.14 647.26,475.18 647.40,474.86 647.55,475.03 647.69,474.92 647.83,475.21 647.97,475.05 648.12,475.21 648.26,475.28 648.40,475.26 648.54,475.02 648.68,475.20 648.83,474.96 648.97,475.07 649.11,474.93 649.25,474.83 649.39,475.08 649.54,475.19 649.68,475.15 649.82,475.14 649.96,475.26 650.10,475.45 650.25,474.94 650.39,475.14 650.53,475.13 650.67,475.14 650.82,474.93 650.96,475.25 651.10,475.06 651.24,474.82 651.38,474.88 651.53,475.19 651.67,474.77 651.81,475.09 651.95,474.92 652.09,475.00 652.24,475.06 652.38,475.01 652.52,475.22 652.66,475.31 652.81,475.25 652.95,475.46 653.09,475.54 653.23,475.47 653.37,475.58 653.52,475.44 653.66,475.29 653.80,475.62 653.94,475.43 654.08,475.25 654.23,475.55 654.37,475.34 654.51,475.38 654.65,475.27 654.79,475.39 654.94,475.33 655.08,475.13 655.22,475.33 655.36,475.34 655.51,475.11 655.65,475.28 655.79,475.49 655.93,475.19 656.07,475.53 656.22,475.53 656.36,475.61 656.50,475.43 656.64,475.44 656.78,475.19 656.93,475.31 657.07,475.62 657.21,475.34 657.35,475.34 657.50,475.40 657.64,475.61 657.78,475.71 657.92,475.71 658.06,475.55 658.21,475.53 658.35,475.63 658.49,475.57 658.63,475.44 658.77,475.77 658.92,475.22 659.06,475.58 659.20,475.47 659.34,475.46 659.48,475.43 659.63,475.61 659.77,475.46 659.91,475.56 660.05,475.54 660.20,475.16 660.34,475.31 660.48,475.24 660.62,475.42 660.76,475.39 660.91,475.34 661.05,475.32 661.19,475.25 661.33,475.29 661.47,475.49 661.62,475.66 661.76,475.32 661.90,475.53 662.04,475.72 662.19,475.39 662.33,475.75 662.47,475.72 662.61,475.78 662.75,475.58 662.90,475.56 663.04,475.70 663.18,475.67" fill="none" stroke="#0000ff" stroke-width="3.2" stroke-linejoin="round" stroke-linecap="round"/>
<rect x="99.15" y="550.80" width="570.05" height="198.60" fill="none" stroke="#000" stroke-width="3.3"/>
<line x1="99.30" y1="749.40" x2="99.30" y2="755.25" stroke="#000" stroke-width="3.0"/>
<line x1="134.82" y1="749.40" x2="134.82" y2="752.65" stroke="#000" stroke-width="2.6"/>
<line x1="170.35" y1="749.40" x2="170.35" y2="755.25" stroke="#000" stroke-width="3.0"/>
<line x1="205.88" y1="749.40" x2="205.88" y2="752.65" stroke="#000" stroke-width="2.6"/>
<line x1="241.40" y1="749.40" x2="241.40" y2="755.25" stroke="#000" stroke-width="3.0"/>
<line x1="276.93" y1="749.40" x2="276.93" y2="752.65" stroke="#000" stroke-width="2.6"/>
<line x1="312.45" y1="749.40" x2="312.45" y2="755.25" stroke="#000" stroke-width="3.0"/>
<line x1="347.98" y1="749.40" x2="347.98" y2="752.65" stroke="#000" stroke-width="2.6"/>
<line x1="383.50" y1="749.40" x2="383.50" y2="755.25" stroke="#000" stroke-width="3.0"/>
<line x1="419.03" y1="749.40" x2="419.03" y2="752.65" stroke="#000" stroke-width="2.6"/>
<line x1="454.55" y1="749.40" x2="454.55" y2="755.25" stroke="#000" stroke-width="3.0"/>
<line x1="490.08" y1="749.40" x2="490.08" y2="752.65" stroke="#000" stroke-width="2.6"/>
<line x1="525.60" y1="749.40" x2="525.60" y2="755.25" stroke="#000" stroke-width="3.0"/>
<line x1="561.12" y1="749.40" x2="561.12" y2="752.65" stroke="#000" stroke-width="2.6"/>
<line x1="596.65" y1="749.40" x2="596.65" y2="755.25" stroke="#000" stroke-width="3.0"/>
<line x1="632.17" y1="749.40" x2="632.17" y2="752.65" stroke="#000" stroke-width="2.6"/>
<line x1="667.70" y1="749.40" x2="667.70" y2="755.25" stroke="#000" stroke-width="3.0"/>
<line x1="94.90" y1="745.00" x2="99.15" y2="745.00" stroke="#000" stroke-width="2.6"/>
<line x1="91.90" y1="733.90" x2="99.15" y2="733.90" stroke="#000" stroke-width="3.0"/>
<line x1="94.90" y1="722.80" x2="99.15" y2="722.80" stroke="#000" stroke-width="2.6"/>
<line x1="91.90" y1="711.70" x2="99.15" y2="711.70" stroke="#000" stroke-width="3.0"/>
<line x1="94.90" y1="700.60" x2="99.15" y2="700.60" stroke="#000" stroke-width="2.6"/>
<line x1="91.90" y1="689.50" x2="99.15" y2="689.50" stroke="#000" stroke-width="3.0"/>
<line x1="94.90" y1="678.40" x2="99.15" y2="678.40" stroke="#000" stroke-width="2.6"/>
<line x1="91.90" y1="667.30" x2="99.15" y2="667.30" stroke="#000" stroke-width="3.0"/>
<line x1="94.90" y1="656.20" x2="99.15" y2="656.20" stroke="#000" stroke-width="2.6"/>
<line x1="91.90" y1="645.10" x2="99.15" y2="645.10" stroke="#000" stroke-width="3.0"/>
<line x1="94.90" y1="634.00" x2="99.15" y2="634.00" stroke="#000" stroke-width="2.6"/>
<line x1="91.90" y1="622.90" x2="99.15" y2="622.90" stroke="#000" stroke-width="3.0"/>
<line x1="94.90" y1="611.80" x2="99.15" y2="611.80" stroke="#000" stroke-width="2.6"/>
<line x1="91.90" y1="600.70" x2="99.15" y2="600.70" stroke="#000" stroke-width="3.0"/>
<line x1="94.90" y1="589.60" x2="99.15" y2="589.60" stroke="#000" stroke-width="2.6"/>
<line x1="91.90" y1="578.50" x2="99.15" y2="578.50" stroke="#000" stroke-width="3.0"/>
<line x1="94.90" y1="567.40" x2="99.15" y2="567.40" stroke="#000" stroke-width="2.6"/>
<line x1="91.90" y1="556.30" x2="99.15" y2="556.30" stroke="#000" stroke-width="3.0"/>
<polyline points="99.30,742.05 99.44,741.90 99.58,741.80 99.73,741.61 99.87,741.01 100.01,741.31 100.15,741.20 100.29,740.61 100.44,741.52 100.58,740.89 100.72,740.88 100.86,740.42 101.01,740.64 101.15,740.73 101.29,740.14 101.43,740.35 101.57,740.70 101.72,740.26 101.86,740.31 102.00,740.50 102.14,740.55 102.28,740.34 102.43,741.09 102.57,740.56 102.71,740.07 102.85,740.38 102.99,740.46 103.14,739.70 103.28,739.59 103.42,739.67 103.56,739.70 103.71,739.77 103.85,739.47 103.99,740.08 104.13,739.45 104.27,739.41 104.42,739.55 104.56,739.58 104.70,739.71 104.84,739.06 104.98,739.31 105.13,738.88 105.27,739.15 105.41,739.30 105.55,739.08 105.69,738.83 105.84,739.16 105.98,739.13 106.12,738.94 106.26,739.04 106.41,738.88 106.55,738.84 106.69,738.34 106.83,738.28 106.97,738.47 107.12,738.30 107.26,738.40 107.40,738.04 107.54,738.15 107.68,737.96 107.83,737.50 107.97,737.79 108.11,737.85 108.25,737.97 108.39,737.45 108.54,737.91 108.68,737.98 108.82,737.96 108.96,738.20 109.10,737.97 109.25,738.28 109.39,738.04 109.53,738.35 109.67,738.46 109.82,737.55 109.96,738.01 110.10,737.45 110.24,737.69 110.38,737.37 110.53,737.24 110.67,737.19 110.81,737.54 110.95,736.96 111.09,737.02 111.24,737.53 111.38,737.72 111.52,738.04 111.66,738.29 111.80,738.23 111.95,737.92 112.09,737.99 112.23,737.85 112.37,737.06 112.52,736.70 112.66,736.80 112.80,736.84 112.94,736.85 113.08,737.36 113.23,736.89 113.37,737.07 113.51,736.91 113.65,737.09 113.79,736.63 113.94,736.45 114.08,736.60 114.22,736.68 114.36,736.87 114.50,736.93 114.65,736.38 114.79,736.97 114.93,737.06 115.07,736.38 115.22,736.63 115.36,736.47 115.50,736.26 115.64,736.61 115.78,736.39 115.93,736.53 116.07,735.98 116.21,736.07 116.35,735.67 116.49,735.63 116.64,736.27 116.78,735.93 116.92,736.24 117.06,736.66 117.20,736.45 117.35,736.53 117.49,736.36 117.63,736.57 117.77,736.35 117.92,735.95 118.06,736.13 118.20,735.10 118.34,735.24 118.48,735.37 118.63,735.09 118.77,735.11 118.91,735.29 119.05,735.20 119.19,735.05 119.34,735.78 119.48,734.93 119.62,734.85 119.76,734.89 119.90,734.72 120.05,734.84 120.19,734.92 120.33,735.04 120.47,735.05 120.61,734.44 120.76,734.92 120.90,735.34 121.04,735.42 121.18,735.78 121.33,735.33 121.47,735.87 121.61,735.67 121.75,735.01 121.89,735.29 122.04,735.17 122.18,735.25 122.32,735.33 122.46,734.69 122.60,734.94 122.75,734.47 122.89,735.32 123.03,734.73 123.17,735.05 123.31,735.07 123.46,734.95 123.60,735.19 123.74,734.80 123.88,735.09 124.03,735.21 124.17,735.46 124.31,735.12 124.45,734.98 124.59,734.77 124.74,734.53 124.88,734.50 125.02,734.12 125.16,734.31 125.30,734.25 125.45,734.31 125.59,734.39 125.73,734.63 125.87,734.34 126.01,734.42 126.16,734.13 126.30,734.08 126.44,734.23 126.58,734.05 126.73,733.79 126.87,733.93 127.01,733.79 127.15,734.34 127.29,733.71 127.44,733.51 127.58,733.98 127.72,733.68 127.86,733.81 128.00,733.62 128.15,733.52 128.29,733.40 128.43,733.72 128.57,733.47 128.71,733.39 128.86,733.50 129.00,733.88 129.14,733.98 129.28,733.67 129.43,733.39 129.57,733.92 129.71,733.76 129.85,733.61 129.99,733.81 130.14,733.78 130.28,733.54 130.42,733.77 130.56,734.06 130.70,733.57 130.85,733.42 130.99,732.85 131.13,733.42 131.27,733.19 131.41,733.21 131.56,732.85 131.70,732.79 131.84,732.97 131.98,733.20 132.13,733.14 132.27,733.07 132.41,732.82 132.55,733.39 132.69,733.01 132.84,732.86 132.98,732.94 133.12,733.05 133.26,732.77 133.40,732.82 133.55,733.07 133.69,732.47 133.83,732.53 133.97,732.71 134.11,732.52 134.26,732.48 134.40,732.16 134.54,731.85 134.68,731.67 134.82,731.89 134.97,732.02 135.11,731.29 135.25,731.88 135.39,731.59 135.54,732.08 135.68,732.00 135.82,732.23 135.96,732.23 136.10,732.49 136.25,732.67 136.39,732.06 136.53,732.24 136.67,732.24 136.81,732.42 136.96,732.39 137.10,731.92 137.24,731.80 137.38,731.86 137.52,731.96 137.67,732.06 137.81,732.10 137.95,731.93 138.09,731.85 138.24,731.95 138.38,731.93 138.52,731.63 138.66,731.71 138.80,731.63 138.95,731.90 139.09,731.48 139.23,731.72 139.37,731.03 139.51,731.32 139.66,731.55 139.80,732.00 139.94,731.49 140.08,731.92 140.22,732.05 140.37,732.24 140.51,731.97 140.65,732.21 140.79,732.19 140.94,731.69 141.08,731.90 141.22,731.66 141.36,731.58 141.50,731.93 141.65,731.74 141.79,731.49 141.93,731.70 142.07,731.00 142.21,731.36 142.36,731.52 142.50,731.14 142.64,731.32 142.78,730.84 142.92,730.61 143.07,730.67 143.21,731.60 143.35,731.19 143.49,730.96 143.64,730.91 143.78,730.69 143.92,730.99 144.06,730.77 144.20,730.84 144.35,730.94 144.49,730.46 144.63,730.76 144.77,730.56 144.91,730.31 145.06,730.36 145.20,730.18 145.34,730.64 145.48,729.85 145.62,730.35 145.77,730.32 145.91,729.82 146.05,729.90 146.19,729.77 146.34,730.17 146.48,729.65 146.62,729.82 146.76,729.22 146.90,729.35 147.05,729.29 147.19,729.96 147.33,730.08 147.47,729.94 147.61,730.01 147.76,730.05 147.90,729.52 148.04,727.72 148.18,726.95 148.32,724.91 148.47,722.97 148.61,720.80 148.75,718.68 148.89,716.62 149.03,714.86 149.18,713.29 149.32,712.49 149.46,712.78 149.60,713.25 149.75,714.54 149.89,716.26 150.03,718.53 150.17,720.55 150.31,722.14 150.46,724.14 150.60,725.38 150.74,726.16 150.88,726.99 151.02,727.88 151.17,727.97 151.31,728.80 151.45,728.37 151.59,729.24 151.73,729.56 151.88,728.97 152.02,728.71 152.16,728.89 152.30,728.81 152.45,728.87 152.59,729.05 152.73,729.25 152.87,729.06 153.01,729.22 153.16,729.25 153.30,729.07 153.44,728.78 153.58,729.22 153.72,728.87 153.87,729.15 154.01,729.17 154.15,729.07 154.29,729.04 154.43,728.96 154.58,728.98 154.72,729.07 154.86,729.09 155.00,729.12 155.15,729.16 155.29,729.11 155.43,729.34 155.57,729.34 155.71,729.21 155.86,729.51 156.00,729.27 156.14,729.11 156.28,729.56 156.42,729.92 156.57,729.50 156.71,729.25 156.85,728.81 156.99,728.99 157.13,729.05 157.28,728.93 157.42,728.89 157.56,728.37 157.70,729.13 157.85,728.79 157.99,728.74 158.13,728.46 158.27,728.25 158.41,728.64 158.56,728.73 158.70,728.32 158.84,728.33 158.98,728.42 159.12,728.49 159.27,728.74 159.41,728.73 159.55,728.81 159.69,729.53 159.83,729.27 159.98,728.89 160.12,729.15 160.26,729.35 160.40,729.16 160.55,729.15 160.69,728.99 160.83,729.05 160.97,729.10 161.11,729.00 161.26,729.13 161.40,729.01 161.54,729.00 161.68,728.86 161.82,728.86 161.97,728.88 162.11,729.34 162.25,728.94 162.39,728.89 162.53,728.92 162.68,728.87 162.82,728.72 162.96,728.71 163.10,728.80 163.25,729.04 163.39,729.07 163.53,728.43 163.67,728.77 163.81,728.62 163.96,728.42 164.10,728.25 164.24,728.33 164.38,728.25 164.52,728.40 164.67,728.56 164.81,728.77 164.95,728.70 165.09,728.65 165.23,728.69 165.38,728.52 165.52,728.81 165.66,728.90 165.80,729.15 165.94,728.95 166.09,728.70 166.23,728.66 166.37,728.88 166.51,728.56 166.66,728.75 166.80,728.56 166.94,728.91 167.08,728.60 167.22,728.59 167.37,728.64 167.51,728.49 167.65,728.61 167.79,728.74 167.93,729.18 168.08,729.05 168.22,728.78 168.36,728.65 168.50,728.44 168.64,727.96 168.79,727.86 168.93,727.99 169.07,728.04 169.21,727.90 169.36,728.59 169.50,728.84 169.64,728.50 169.78,728.65 169.92,728.28 170.07,728.35 170.21,728.55 170.35,728.22 170.49,728.28 170.63,727.66 170.78,728.03 170.92,727.93 171.06,727.65 171.20,728.66 171.34,728.08 171.49,728.21 171.63,728.39 171.77,728.73 171.91,728.63 172.06,728.29 172.20,728.63 172.34,728.62 172.48,728.66 172.62,728.39 172.77,728.18 172.91,727.92 173.05,728.27 173.19,728.46 173.33,728.29 173.48,727.97 173.62,728.05 173.76,728.04 173.90,728.22 174.04,728.44 174.19,728.28 174.33,728.15 174.47,727.87 174.61,727.80 174.76,727.80 174.90,727.20 175.04,727.68 175.18,727.10 175.32,727.29 175.47,727.25 175.61,727.68 175.75,727.55 175.89,727.38 176.03,727.98 176.18,727.40 176.32,727.81 176.46,727.51 176.60,727.72 176.74,727.48 176.89,727.34 177.03,726.87 177.17,726.58 177.31,726.26 177.45,725.92 177.60,725.70 177.74,725.68 177.88,725.81 178.02,725.62 178.17,724.97 178.31,725.05 178.45,724.69 178.59,724.37 178.73,723.62 178.88,723.41 179.02,723.25 179.16,722.40 179.30,722.10 179.44,720.34 179.59,718.44 179.73,715.57 179.87,710.32 180.01,703.44 180.15,693.97 180.30,682.06 180.44,667.88 180.58,652.18 180.72,636.85 180.87,622.79 181.01,613.56 181.15,610.05 181.29,613.52 181.43,622.53 181.58,636.27 181.72,651.64 181.86,667.39 182.00,681.32 182.14,693.72 182.29,702.80 182.43,709.89 182.57,715.01 182.71,718.56 182.85,720.66 183.00,721.82 183.14,723.19 183.28,723.84 183.42,723.87 183.57,724.01 183.71,724.55 183.85,724.87 183.99,724.83 184.13,724.92 184.28,725.36 184.42,725.36 184.56,726.00 184.70,725.97 184.84,726.37 184.99,726.64 185.13,727.57 185.27,727.59 185.41,727.68 185.55,727.56 185.70,727.49 185.84,727.59 185.98,727.62 186.12,727.40 186.27,728.11 186.41,728.44 186.55,728.58 186.69,728.14 186.83,728.76 186.98,728.64 187.12,728.66 187.26,728.57 187.40,728.07 187.54,727.66 187.69,728.20 187.83,728.40 187.97,728.75 188.11,728.64 188.25,728.97 188.40,729.07 188.54,728.74 188.68,728.88 188.82,728.63 188.97,728.71 189.11,728.78 189.25,728.47 189.39,728.75 189.53,729.31 189.68,729.34 189.82,729.47 189.96,729.49 190.10,729.44 190.24,729.64 190.39,729.32 190.53,729.72 190.67,729.43 190.81,729.11 190.95,729.29 191.10,729.29 191.24,728.98 191.38,728.77 191.52,728.44 191.67,728.59 191.81,729.03 191.95,728.94 192.09,728.49 192.23,728.89 192.38,728.64 192.52,728.69 192.66,728.97 192.80,728.97 192.94,729.14 193.09,729.22 193.23,729.41 193.37,729.00 193.51,729.55 193.65,729.16 193.80,729.25 193.94,728.87 194.08,729.55 194.22,729.54 194.36,729.46 194.51,729.87 194.65,730.44 194.79,730.07 194.93,729.68 195.08,730.13 195.22,729.84 195.36,730.15 195.50,730.29 195.64,729.99 195.79,730.16 195.93,730.10 196.07,730.16 196.21,730.02 196.35,729.89 196.50,729.94 196.64,730.05 196.78,730.16 196.92,729.98 197.06,730.01 197.21,730.40 197.35,730.10 197.49,730.49 197.63,730.66 197.78,730.64 197.92,730.84 198.06,730.67 198.20,730.34 198.34,730.02 198.49,730.04 198.63,729.73 198.77,730.36 198.91,730.47 199.05,730.13 199.20,730.82 199.34,730.71 199.48,730.23 199.62,729.82 199.76,730.30 199.91,730.02 200.05,729.96 200.19,730.26 200.33,730.04 200.48,730.23 200.62,730.49 200.76,730.29 200.90,730.58 201.04,730.44 201.19,730.81 201.33,730.45 201.47,730.58 201.61,730.20 201.75,730.68 201.90,730.42 202.04,730.59 202.18,730.28 202.32,730.68 202.46,730.38 202.61,730.54 202.75,730.36 202.89,730.55 203.03,730.35 203.18,730.83 203.32,730.63 203.46,730.52 203.60,730.34 203.74,730.05 203.89,730.22 204.03,729.39 204.17,729.51 204.31,729.66 204.45,729.50 204.60,729.21 204.74,729.37 204.88,729.49 205.02,729.31 205.16,730.20 205.31,729.97 205.45,730.32 205.59,730.38 205.73,730.95 205.88,730.39 206.02,730.12 206.16,730.58 206.30,730.06 206.44,730.69 206.59,730.63 206.73,730.36 206.87,730.33 207.01,730.56 207.15,730.54 207.30,730.39 207.44,730.04 207.58,730.30 207.72,730.49 207.86,730.45 208.01,730.32 208.15,730.57 208.29,730.65 208.43,730.51 208.57,730.68 208.72,730.79 208.86,730.99 209.00,730.52 209.14,730.16 209.29,730.56 209.43,730.11 209.57,729.71 209.71,730.32 209.85,730.33 210.00,730.26 210.14,730.68 210.28,730.61 210.42,730.45 210.56,730.75 210.71,730.34 210.85,730.46 210.99,730.45 211.13,730.79 211.27,730.79 211.42,730.50 211.56,730.62 211.70,730.71 211.84,731.04 211.99,731.10 212.13,730.94 212.27,730.76 212.41,730.87 212.55,730.55 212.70,730.62 212.84,730.32 212.98,730.39 213.12,729.98 213.26,730.15 213.41,730.22 213.55,730.27 213.69,730.22 213.83,730.15 213.97,730.09 214.12,730.23 214.26,730.24 214.40,729.75 214.54,729.62 214.69,729.87 214.83,729.96 214.97,729.84 215.11,729.70 215.25,730.10 215.40,729.30 215.54,729.59 215.68,729.83 215.82,729.64 215.96,729.72 216.11,729.55 216.25,729.31 216.39,729.34 216.53,729.52 216.67,729.33 216.82,729.30 216.96,728.80 217.10,729.08 217.24,729.06 217.39,728.92 217.53,729.18 217.67,729.17 217.81,729.32 217.95,729.20 218.10,729.37 218.24,729.45 218.38,729.30 218.52,728.93 218.66,729.06 218.81,729.09 218.95,728.69 219.09,728.49 219.23,728.75 219.37,728.70 219.52,728.32 219.66,728.41 219.80,727.70 219.94,727.81 220.09,727.56 220.23,727.56 220.37,727.22 220.51,726.89 220.65,726.85 220.80,726.36 220.94,726.92 221.08,726.16 221.22,725.80 221.36,725.43 221.51,724.47 221.65,723.72 221.79,721.97 221.93,719.33 222.07,715.40 222.22,709.57 222.36,701.63 222.50,692.18 222.64,680.67 222.78,668.33 222.93,655.19 223.07,644.28 223.21,636.51 223.35,633.65 223.50,636.31 223.64,644.00 223.78,654.95 223.92,667.44 224.06,680.60 224.21,692.08 224.35,701.53 224.49,709.36 224.63,714.67 224.77,718.32 224.92,721.16 225.06,722.62 225.20,723.40 225.34,724.47 225.48,725.55 225.63,725.67 225.77,726.44 225.91,726.95 226.05,726.93 226.20,726.72 226.34,726.84 226.48,726.98 226.62,727.27 226.76,727.55 226.91,727.33 227.05,727.34 227.19,727.89 227.33,727.75 227.47,728.12 227.62,728.09 227.76,728.49 227.90,728.37 228.04,728.35 228.18,728.95 228.33,729.10 228.47,728.98 228.61,728.70 228.75,728.65 228.90,728.58 229.04,728.50 229.18,728.84 229.32,728.47 229.46,728.61 229.61,728.64 229.75,728.59 229.89,729.06 230.03,729.03 230.17,729.25 230.32,729.48 230.46,729.96 230.60,730.13 230.74,730.06 230.88,730.09 231.03,730.09 231.17,730.17 231.31,730.35 231.45,730.43 231.60,730.17 231.74,729.97 231.88,729.98 232.02,729.73 232.16,729.70 232.31,730.16 232.45,730.15 232.59,729.94 232.73,730.76 232.87,730.46 233.02,730.56 233.16,730.67 233.30,730.43 233.44,730.84 233.58,730.84 233.73,730.79 233.87,730.78 234.01,731.08 234.15,730.78 234.30,731.18 234.44,730.63 234.58,731.42 234.72,730.76 234.86,730.86 235.01,730.42 235.15,730.08 235.29,730.54 235.43,730.16 235.57,730.98 235.72,730.52 235.86,730.30 236.00,730.77 236.14,730.17 236.28,730.42 236.43,730.64 236.57,730.72 236.71,730.73 236.85,731.08 236.99,730.80 237.14,730.84 237.28,731.09 237.42,731.18 237.56,731.49 237.71,731.50 237.85,731.28 237.99,731.42 238.13,731.38 238.27,731.03 238.42,731.49 238.56,731.51 238.70,731.53 238.84,731.52 238.98,731.55 239.13,731.56 239.27,731.54 239.41,731.64 239.55,731.27 239.69,731.89 239.84,731.45 239.98,731.90 240.12,731.70 240.26,731.48 240.41,731.80 240.55,731.54 240.69,731.74 240.83,731.77 240.97,731.66 241.12,731.59 241.26,731.43 241.40,731.44 241.54,731.71 241.68,731.47 241.83,731.09 241.97,730.67 242.11,730.86 242.25,730.90 242.39,730.96 242.54,730.88 242.68,731.53 242.82,731.58 242.96,731.21 243.11,731.47 243.25,731.09 243.39,731.51 243.53,731.42 243.67,731.26 243.82,731.13 243.96,731.31 244.10,730.96 244.24,731.35 244.38,731.10 244.53,731.05 244.67,731.07 244.81,731.20 244.95,731.77 245.09,731.37 245.24,731.28 245.38,731.40 245.52,731.03 245.66,731.59 245.81,731.57 245.95,731.46 246.09,731.58 246.23,731.36 246.37,731.09 246.52,731.08 246.66,731.38 246.80,731.31 246.94,731.39 247.08,731.01 247.23,731.51 247.37,731.41 247.51,731.58 247.65,732.07 247.79,731.25 247.94,731.54 248.08,731.96 248.22,731.95 248.36,732.38 248.50,732.00 248.65,732.42 248.79,732.02 248.93,732.05 249.07,731.22 249.22,731.35 249.36,731.47 249.50,731.59 249.64,731.60 249.78,731.47 249.93,731.37 250.07,731.55 250.21,731.62 250.35,731.60 250.49,731.25 250.64,731.15 250.78,731.28 250.92,731.31 251.06,731.49 251.20,731.55 251.35,731.46 251.49,731.50 251.63,731.68 251.77,731.87 251.92,731.59 252.06,731.85 252.20,731.66 252.34,731.62 252.48,731.93 252.63,731.85 252.77,731.83 252.91,731.72 253.05,731.62 253.19,731.55 253.34,731.17 253.48,731.72 253.62,731.87 253.76,731.47 253.90,732.02 254.05,731.95 254.19,731.82 254.33,731.85 254.47,731.75 254.62,731.60 254.76,731.43 254.90,731.47 255.04,731.47 255.18,731.35 255.33,731.50 255.47,731.60 255.61,731.36 255.75,731.54 255.89,731.79 256.04,731.89 256.18,731.61 256.32,731.01 256.46,731.18 256.60,731.34 256.75,731.44 256.89,731.63 257.03,731.76 257.17,731.56 257.32,731.83 257.46,731.36 257.60,731.51 257.74,731.45 257.88,731.58 258.03,731.49 258.17,731.65 258.31,731.56 258.45,731.49 258.59,731.95 258.74,731.60 258.88,731.77 259.02,731.50 259.16,731.63 259.30,731.31 259.45,731.15 259.59,731.29 259.73,731.38 259.87,731.26 260.02,731.68 260.16,731.38 260.30,731.57 260.44,731.74 260.58,731.69 260.73,731.57 260.87,731.60 261.01,731.95 261.15,732.08 261.29,731.76 261.44,731.95 261.58,731.74 261.72,731.46 261.86,732.11 262.00,731.84 262.15,731.37 262.29,731.19 262.43,731.24 262.57,731.25 262.72,731.02 262.86,731.31 263.00,730.92 263.14,731.01 263.28,730.79 263.43,730.78 263.57,731.26 263.71,731.07 263.85,730.98 263.99,731.07 264.14,730.93 264.28,730.74 264.42,730.81 264.56,730.70 264.70,730.93 264.85,730.87 264.99,730.61 265.13,730.19 265.27,729.80 265.41,729.50 265.56,728.65 265.70,728.14 265.84,727.09 265.98,726.35 266.13,725.34 266.27,724.08 266.41,723.21 266.55,722.32 266.69,721.26 266.84,720.41 266.98,719.77 267.12,719.44 267.26,719.17 267.40,719.30 267.55,719.42 267.69,719.79 267.83,720.56 267.97,721.64 268.11,722.31 268.26,723.85 268.40,724.77 268.54,725.67 268.68,726.45 268.83,727.76 268.97,728.16 269.11,728.86 269.25,729.45 269.39,729.85 269.54,730.49 269.68,730.35 269.82,730.57 269.96,731.06 270.10,731.16 270.25,731.05 270.39,730.88 270.53,731.23 270.67,731.31 270.81,731.72 270.96,731.29 271.10,731.40 271.24,731.94 271.38,732.17 271.53,732.10 271.67,732.17 271.81,732.08 271.95,732.16 272.09,732.15 272.24,732.05 272.38,732.39 272.52,732.19 272.66,732.65 272.80,732.44 272.95,732.25 273.09,732.08 273.23,731.94 273.37,731.82 273.51,731.81 273.66,731.80 273.80,731.79 273.94,731.93 274.08,731.79 274.23,732.31 274.37,732.36 274.51,732.34 274.65,732.15 274.79,732.27 274.94,732.41 275.08,732.44 275.22,732.25 275.36,732.25 275.50,732.32 275.65,732.34 275.79,731.85 275.93,731.75 276.07,732.42 276.21,732.07 276.36,732.47 276.50,731.99 276.64,732.23 276.78,732.10 276.93,732.18 277.07,731.98 277.21,732.05 277.35,732.02 277.49,731.93 277.64,731.80 277.78,731.81 277.92,731.87 278.06,732.21 278.20,731.43 278.35,731.34 278.49,731.07 278.63,730.80 278.77,730.23 278.91,729.58 279.06,729.14 279.20,727.82 279.34,727.04 279.48,726.02 279.62,724.86 279.77,724.10 279.91,723.39 280.05,723.18 280.19,723.03 280.34,723.21 280.48,723.56 280.62,724.20 280.76,724.75 280.90,725.57 281.05,726.13 281.19,727.28 281.33,727.48 281.47,728.63 281.61,729.18 281.76,730.20 281.90,730.54 282.04,731.12 282.18,731.77 282.32,731.97 282.47,732.27 282.61,732.37 282.75,732.47 282.89,732.27 283.04,732.71 283.18,732.52 283.32,732.43 283.46,732.32 283.60,732.77 283.75,732.98 283.89,732.72 284.03,732.85 284.17,733.00 284.31,732.58 284.46,732.71 284.60,732.83 284.74,733.02 284.88,732.81 285.02,732.63 285.17,732.34 285.31,732.77 285.45,732.61 285.59,732.64 285.74,732.71 285.88,733.23 286.02,732.94 286.16,732.94 286.30,733.09 286.45,733.19 286.59,733.01 286.73,733.10 286.87,733.18 287.01,733.24 287.16,733.07 287.30,733.22 287.44,733.46 287.58,733.58 287.72,733.47 287.87,733.26 288.01,733.44 288.15,733.26 288.29,733.51 288.44,732.95 288.58,732.72 288.72,733.15 288.86,732.95 289.00,733.35 289.15,732.93 289.29,733.28 289.43,733.14 289.57,733.09 289.71,733.55 289.86,733.30 290.00,733.54 290.14,733.77 290.28,733.67 290.42,733.58 290.57,733.70 290.71,733.81 290.85,733.86 290.99,733.64 291.13,733.43 291.28,733.83 291.42,733.89 291.56,733.37 291.70,733.57 291.85,733.36 291.99,733.29 292.13,733.46 292.27,733.71 292.41,733.71 292.56,733.62 292.70,733.77 292.84,733.23 292.98,733.57 293.12,733.50 293.27,733.31 293.41,733.46 293.55,733.51 293.69,734.01 293.83,734.09 293.98,733.87 294.12,733.53 294.26,733.61 294.40,733.57 294.55,733.37 294.69,733.40 294.83,733.77 294.97,733.41 295.11,733.57 295.26,733.55 295.40,733.71 295.54,733.80 295.68,733.82 295.82,733.74 295.97,733.68 296.11,733.60 296.25,733.66 296.39,733.79 296.53,733.41 296.68,733.68 296.82,733.46 296.96,733.37 297.10,733.36 297.25,733.61 297.39,733.71 297.53,733.76 297.67,733.94 297.81,733.79 297.96,733.72 298.10,733.82 298.24,733.58 298.38,733.24 298.52,733.56 298.67,733.30 298.81,733.46 298.95,733.57 299.09,733.72 299.23,733.94 299.38,733.83 299.52,733.95 299.66,734.15 299.80,734.01 299.95,734.08 300.09,734.26 300.23,734.40 300.37,734.44 300.51,734.07 300.66,734.09 300.80,734.18 300.94,734.05 301.08,733.93 301.22,734.07 301.37,733.85 301.51,733.45 301.65,733.22 301.79,733.74 301.93,733.53 302.08,733.71 302.22,733.70 302.36,733.54 302.50,733.56 302.65,733.60 302.79,733.90 302.93,734.03 303.07,733.99 303.21,734.45 303.36,734.26 303.50,734.04 303.64,734.53 303.78,734.10 303.92,734.06 304.07,733.94 304.21,734.11 304.35,733.97 304.49,734.42 304.63,734.41 304.78,734.50 304.92,734.58 305.06,734.33 305.20,734.38 305.35,734.28 305.49,734.15 305.63,734.24 305.77,734.12 305.91,734.12 306.06,734.07 306.20,734.05 306.34,734.14 306.48,734.21 306.62,734.10 306.77,734.36 306.91,734.44 307.05,734.64 307.19,734.77 307.33,734.60 307.48,734.48 307.62,734.28 307.76,734.12 307.90,734.26 308.04,734.01 308.19,733.94 308.33,733.93 308.47,733.89 308.61,733.74 308.76,733.45 308.90,733.74 309.04,733.97 309.18,734.02 309.32,733.81 309.47,733.86 309.61,734.27 309.75,734.37 309.89,734.45 310.03,734.20 310.18,734.77 310.32,734.76 310.46,734.82 310.60,734.30 310.74,734.67 310.89,734.15 311.03,733.96 311.17,733.92 311.31,733.99 311.46,734.12 311.60,734.08 311.74,734.42 311.88,734.53 312.02,734.62 312.17,734.37 312.31,734.15 312.45,733.98 312.59,733.88 312.73,734.07 312.88,734.18 313.02,734.03 313.16,734.29 313.30,734.61 313.44,734.95 313.59,734.61 313.73,734.70 313.87,734.54 314.01,734.72 314.16,734.73 314.30,734.70 314.44,734.60 314.58,734.40 314.72,734.80 314.87,734.84 315.01,734.51 315.15,734.63 315.29,734.44 315.43,734.56 315.58,734.57 315.72,734.47 315.86,734.54 316.00,734.54 316.14,734.55 316.29,734.71 316.43,734.62 316.57,734.60 316.71,734.67 316.86,734.87 317.00,734.65 317.14,734.84 317.28,734.74 317.42,734.89 317.57,734.40 317.71,734.69 317.85,734.52 317.99,734.68 318.13,734.76 318.28,734.64 318.42,734.54 318.56,734.51 318.70,734.38 318.84,734.58 318.99,734.40 319.13,734.53 319.27,734.48 319.41,734.60 319.56,734.43 319.70,734.32 319.84,734.62 319.98,734.52 320.12,734.40 320.27,734.42 320.41,734.47 320.55,734.70 320.69,734.68 320.83,734.78 320.98,734.83 321.12,734.87 321.26,734.96 321.40,734.75 321.54,734.68 321.69,734.62 321.83,734.64 321.97,734.66 322.11,734.46 322.25,734.60 322.40,734.73 322.54,734.68 322.68,734.70 322.82,734.68 322.97,734.71 323.11,734.74 323.25,734.86 323.39,734.65 323.53,734.85 323.68,734.95 323.82,734.86 323.96,734.66 324.10,734.62 324.24,734.56 324.39,734.29 324.53,734.49 324.67,734.56 324.81,734.64 324.95,734.72 325.10,734.75 325.24,734.83 325.38,734.83 325.52,734.76 325.67,734.53 325.81,734.58 325.95,734.37 326.09,734.58 326.23,734.73 326.38,734.60 326.52,734.78 326.66,734.78 326.80,734.62 326.94,734.81 327.09,734.82 327.23,734.95 327.37,734.96 327.51,735.10 327.65,734.73 327.80,734.75 327.94,734.75 328.08,734.81 328.22,734.73 328.37,734.67 328.51,734.69 328.65,734.89 328.79,734.63 328.93,734.82 329.08,734.88 329.22,734.77 329.36,734.68 329.50,734.97 329.64,734.90 329.79,734.79 329.93,734.78 330.07,734.55 330.21,734.66 330.35,734.65 330.50,734.52 330.64,734.24 330.78,734.50 330.92,734.63 331.07,734.37 331.21,734.48 331.35,734.63 331.49,734.67 331.63,734.60 331.78,734.77 331.92,734.58 332.06,734.77 332.20,734.70 332.34,734.69 332.49,735.04 332.63,734.98 332.77,734.63 332.91,734.88 333.05,734.88 333.20,734.94 333.34,734.70 333.48,734.61 333.62,734.78 333.76,734.92 333.91,734.78 334.05,734.85 334.19,734.69 334.33,734.70 334.48,734.87 334.62,734.79 334.76,734.98 334.90,734.76 335.04,734.99 335.19,734.97 335.33,734.80 335.47,734.93 335.61,734.70 335.75,734.77 335.90,734.71 336.04,734.50 336.18,734.60 336.32,734.85 336.46,734.92 336.61,735.01 336.75,734.92 336.89,735.09 337.03,735.07 337.18,734.99 337.32,735.00 337.46,734.76 337.60,734.82 337.74,734.80 337.89,734.65 338.03,734.74 338.17,734.75 338.31,734.56 338.45,734.54 338.60,734.51 338.74,734.63 338.88,734.63 339.02,734.71 339.16,734.89 339.31,734.76 339.45,734.87 339.59,734.78 339.73,734.66 339.88,734.70 340.02,734.65 340.16,734.34 340.30,734.48 340.44,734.50 340.59,734.21 340.73,734.29 340.87,734.15 341.01,734.20 341.15,734.23 341.30,734.11 341.44,734.18 341.58,734.08 341.72,733.94 341.86,734.01 342.01,733.95 342.15,734.17 342.29,734.13 342.43,733.87 342.58,733.97 342.72,733.72 342.86,733.60 343.00,733.43 343.14,733.48 343.29,733.48 343.43,733.66 343.57,733.64 343.71,733.61 343.85,733.70 344.00,733.79 344.14,733.88 344.28,734.10 344.42,734.38 344.56,734.34 344.71,734.57 344.85,734.61 344.99,734.81 345.13,734.73 345.28,734.83 345.42,734.87 345.56,734.70 345.70,734.72 345.84,734.55 345.99,734.54 346.13,734.41 346.27,734.47 346.41,734.41 346.55,734.56 346.70,734.39 346.84,734.60 346.98,734.49 347.12,734.63 347.26,734.56 347.41,734.75 347.55,734.79 347.69,735.07 347.83,734.91 347.98,734.92 348.12,734.97 348.26,734.88 348.40,734.75 348.54,734.70 348.69,734.76 348.83,734.65 348.97,734.85 349.11,734.97 349.25,734.73 349.40,735.01 349.54,734.95 349.68,734.80 349.82,734.90 349.96,734.85 350.11,734.94 350.25,734.82 350.39,734.76 350.53,734.88 350.67,734.63 350.82,734.72 350.96,734.78 351.10,734.61 351.24,734.63 351.39,734.95 351.53,734.82 351.67,735.01 351.81,735.06 351.95,734.92 352.10,734.81 352.24,734.88 352.38,734.68 352.52,734.60 352.66,734.49 352.81,734.78 352.95,734.66 353.09,734.57 353.23,734.52 353.37,734.52 353.52,734.51 353.66,734.62 353.80,734.69 353.94,734.70 354.09,734.62 354.23,734.71 354.37,734.64 354.51,734.64 354.65,734.82 354.80,734.93 354.94,734.81 355.08,734.80 355.22,734.71 355.36,734.54 355.51,734.57 355.65,734.50 355.79,734.47 355.93,734.76 356.07,734.53 356.22,734.63 356.36,734.63 356.50,734.64 356.64,734.58 356.79,734.67 356.93,734.75 357.07,734.81 357.21,734.82 357.35,734.58 357.50,734.56 357.64,734.70 357.78,734.67 357.92,734.67 358.06,734.59 358.21,734.48 358.35,734.49 358.49,734.47 358.63,734.36 358.77,734.32 358.92,734.38 359.06,734.34 359.20,734.50 359.34,734.32 359.49,734.54 359.63,734.43 359.77,734.29 359.91,734.33 360.05,734.11 360.20,734.17 360.34,734.07 360.48,733.85 360.62,733.78 360.76,733.73 360.91,733.84 361.05,733.83 361.19,733.84 361.33,733.84 361.47,733.75 361.62,733.74 361.76,733.66 361.90,733.83 362.04,733.81 362.19,733.81 362.33,733.97 362.47,733.97 362.61,734.31 362.75,734.20 362.90,734.02 363.04,734.28 363.18,734.35 363.32,734.47 363.46,734.54 363.61,734.53 363.75,734.50 363.89,734.60 364.03,734.62 364.17,734.79 364.32,734.68 364.46,734.69 364.60,734.63 364.74,734.61 364.88,734.50 365.03,734.46 365.17,734.50 365.31,734.56 365.45,734.54 365.60,734.68 365.74,734.62 365.88,734.61 366.02,734.69 366.16,734.72 366.31,734.64 366.45,734.59 366.59,734.58 366.73,734.56 366.87,734.66 367.02,734.64 367.16,734.67 367.30,734.69 367.44,734.68 367.58,734.62 367.73,734.76 367.87,734.73 368.01,734.68 368.15,734.76 368.30,734.64 368.44,734.73 368.58,734.73 368.72,734.69 368.86,734.66 369.01,734.66 369.15,734.69 369.29,734.59 369.43,734.54 369.57,734.66 369.72,734.53 369.86,734.56 370.00,734.56 370.14,734.51 370.28,734.51 370.43,734.65 370.57,734.72 370.71,734.52 370.85,734.61 371.00,734.58 371.14,734.52 371.28,734.67 371.42,734.59 371.56,734.53 371.71,734.62 371.85,734.60 371.99,734.65 372.13,734.67 372.27,734.61 372.42,734.72 372.56,734.64 372.70,734.81 372.84,734.70 372.98,734.69 373.13,734.58 373.27,734.58 373.41,734.44 373.55,734.42 373.70,734.40 373.84,734.51 373.98,734.42 374.12,734.42 374.26,734.44 374.41,734.49 374.55,734.62 374.69,734.67 374.83,734.87 374.97,734.83 375.12,734.85 375.26,734.74 375.40,734.83 375.54,734.83 375.68,734.67 375.83,734.87 375.97,734.72 376.11,734.79 376.25,734.72 376.40,734.85 376.54,734.79 376.68,734.78 376.82,734.80 376.96,734.70 377.11,734.73 377.25,734.70 377.39,734.73 377.53,734.66 377.67,734.59 377.82,734.75 377.96,734.80 378.10,734.80 378.24,734.69 378.38,734.85 378.53,734.88 378.67,734.67 378.81,734.84 378.95,734.67 379.09,734.71 379.24,734.80 379.38,734.55 379.52,734.55 379.66,734.61 379.81,734.44 379.95,734.56 380.09,734.47 380.23,734.52 380.37,734.50 380.52,734.52 380.66,734.47 380.80,734.59 380.94,734.64 381.08,734.56 381.23,734.74 381.37,734.70 381.51,734.65 381.65,734.74 381.79,734.59 381.94,734.60 382.08,734.63 382.22,734.50 382.36,734.67 382.51,734.63 382.65,734.64 382.79,734.58 382.93,734.69 383.07,734.55 383.22,734.72 383.36,734.61 383.50,734.67 383.64,734.60 383.78,734.71 383.93,734.70 384.07,734.74 384.21,734.65 384.35,734.59 384.49,734.69 384.64,734.67 384.78,734.75 384.92,734.73 385.06,734.64 385.21,734.72 385.35,734.75 385.49,734.76 385.63,734.70 385.77,734.74 385.92,734.83 386.06,734.72 386.20,734.76 386.34,734.70 386.48,734.70 386.63,734.66 386.77,734.62 386.91,734.64 387.05,734.72 387.19,734.68 387.34,734.64 387.48,734.59 387.62,734.72 387.76,734.73 387.91,734.58 388.05,734.72 388.19,734.65 388.33,734.62 388.47,734.73 388.62,734.71 388.76,734.62 388.90,734.66 389.04,734.68 389.18,734.85 389.33,734.80 389.47,734.67 389.61,734.71 389.75,734.76 389.89,734.71 390.04,734.67 390.18,734.61 390.32,734.55 390.46,734.55 390.61,734.42 390.75,734.50 390.89,734.59 391.03,734.45 391.17,734.61 391.32,734.62 391.46,734.72 391.60,734.79 391.74,734.66 391.88,734.56 392.03,734.65 392.17,734.54 392.31,734.53 392.45,734.52 392.59,734.59 392.74,734.65 392.88,734.73 393.02,734.82 393.16,734.82 393.30,734.79 393.45,734.70 393.59,734.77 393.73,734.79 393.87,734.80 394.02,734.64 394.16,734.71 394.30,734.62 394.44,734.65 394.58,734.64 394.73,734.60 394.87,734.61 395.01,734.62 395.15,734.60 395.29,734.59 395.44,734.62 395.58,734.53 395.72,734.61 395.86,734.53 396.00,734.68 396.15,734.56 396.29,734.64 396.43,734.62 396.57,734.57 396.72,734.73 396.86,734.61 397.00,734.68 397.14,734.79 397.28,734.61 397.43,734.75 397.57,734.82 397.71,734.67 397.85,734.89 397.99,734.76 398.14,734.82 398.28,734.82 398.42,734.93 398.56,734.95 398.70,734.93 398.85,734.77 398.99,734.76 399.13,734.70 399.27,734.53 399.42,734.50 399.56,734.48 399.70,734.37 399.84,734.53 399.98,734.50 400.13,734.53 400.27,734.51 400.41,734.51 400.55,734.57 400.69,734.59 400.84,734.66 400.98,734.63 401.12,734.66 401.26,734.66 401.40,734.67 401.55,734.69 401.69,734.67 401.83,734.82 401.97,734.49 402.12,734.69 402.26,734.40 402.40,734.49 402.54,734.42 402.68,734.40 402.83,734.56 402.97,734.46 403.11,734.54 403.25,734.66 403.39,734.63 403.54,734.60 403.68,734.59 403.82,734.50 403.96,734.43 404.10,734.47 404.25,734.52 404.39,734.66 404.53,734.59 404.67,734.71 404.82,734.64 404.96,734.66 405.10,734.62 405.24,734.59 405.38,734.49 405.53,734.56 405.67,734.57 405.81,734.54 405.95,734.53 406.09,734.66 406.24,734.62 406.38,734.69 406.52,734.79 406.66,734.57 406.80,734.53 406.95,734.48 407.09,734.50 407.23,734.50 407.37,734.41 407.51,734.47 407.66,734.45 407.80,734.50 407.94,734.42 408.08,734.39 408.23,734.34 408.37,734.25 408.51,734.21 408.65,734.11 408.79,733.84 408.94,733.97 409.08,733.97 409.22,733.92 409.36,733.92 409.50,733.92 409.65,734.00 409.79,734.04 409.93,734.04 410.07,734.03 410.21,734.10 410.36,734.09 410.50,734.14 410.64,734.03 410.78,733.96 410.93,733.96 411.07,733.96 411.21,733.77 411.35,733.88 411.49,733.99 411.64,734.09 411.78,733.93 411.92,733.92 412.06,734.10 412.20,734.11 412.35,734.19 412.49,734.39 412.63,734.54 412.77,734.53 412.91,734.56 413.06,734.45 413.20,734.64 413.34,734.47 413.48,734.55 413.63,734.53 413.77,734.57 413.91,734.53 414.05,734.56 414.19,734.64 414.34,734.55 414.48,734.45 414.62,734.51 414.76,734.61 414.90,734.64 415.05,734.53 415.19,734.67 415.33,734.55 415.47,734.59 415.61,734.71 415.76,734.74 415.90,734.61 416.04,734.57 416.18,734.66 416.33,734.59 416.47,734.50 416.61,734.57 416.75,734.54 416.89,734.55 417.04,734.66 417.18,734.70 417.32,734.75 417.46,734.63 417.60,734.70 417.75,734.64 417.89,734.78 418.03,734.76 418.17,734.79 418.31,734.71 418.46,734.76 418.60,734.78 418.74,734.67 418.88,734.69 419.03,734.64 419.17,734.59 419.31,734.59 419.45,734.55 419.59,734.60 419.74,734.49 419.88,734.52 420.02,734.46 420.16,734.34 420.30,734.46 420.45,734.41 420.59,734.43 420.73,734.37 420.87,734.49 421.01,734.53 421.16,734.45 421.30,734.41 421.44,734.41 421.58,734.43 421.72,734.48 421.87,734.37 422.01,734.51 422.15,734.35 422.29,734.48 422.44,734.59 422.58,734.60 422.72,734.59 422.86,734.61 423.00,734.55 423.15,734.64 423.29,734.52 423.43,734.65 423.57,734.51 423.71,734.52 423.86,734.59 424.00,734.53 424.14,734.62 424.28,734.61 424.42,734.67 424.57,734.57 424.71,734.57 424.85,734.60 424.99,734.47 425.14,734.56 425.28,734.45 425.42,734.37 425.56,734.47 425.70,734.61 425.85,734.49 425.99,734.47 426.13,734.48 426.27,734.54 426.41,734.46 426.56,734.48 426.70,734.51 426.84,734.46 426.98,734.49 427.12,734.67 427.27,734.57 427.41,734.72 427.55,734.69 427.69,734.63 427.84,734.60 427.98,734.63 428.12,734.51 428.26,734.65 428.40,734.50 428.55,734.54 428.69,734.58 428.83,734.61 428.97,734.70 429.11,734.73 429.26,734.66 429.40,734.63 429.54,734.69 429.68,734.54 429.82,734.53 429.97,734.57 430.11,734.54 430.25,734.61 430.39,734.45 430.54,734.39 430.68,734.41 430.82,734.47 430.96,734.50 431.10,734.60 431.25,734.67 431.39,734.67 431.53,734.76 431.67,734.61 431.81,734.51 431.96,734.61 432.10,734.54 432.24,734.55 432.38,734.45 432.52,734.49 432.67,734.38 432.81,734.36 432.95,734.58 433.09,734.45 433.24,734.41 433.38,734.49 433.52,734.60 433.66,734.57 433.80,734.62 433.95,734.57 434.09,734.56 434.23,734.47 434.37,734.45 434.51,734.32 434.66,734.43 434.80,734.36 434.94,734.41 435.08,734.46 435.22,734.34 435.37,734.47 435.51,734.52 435.65,734.57 435.79,734.61 435.93,734.51 436.08,734.56 436.22,734.63 436.36,734.51 436.50,734.48 436.65,734.50 436.79,734.48 436.93,734.29 437.07,734.43 437.21,734.44 437.36,734.53 437.50,734.51 437.64,734.45 437.78,734.48 437.92,734.47 438.07,734.50 438.21,734.36 438.35,734.48 438.49,734.37 438.63,734.40 438.78,734.38 438.92,734.52 439.06,734.38 439.20,734.49 439.35,734.50 439.49,734.49 439.63,734.55 439.77,734.47 439.91,734.41 440.06,734.47 440.20,734.41 440.34,734.58 440.48,734.57 440.62,734.57 440.77,734.61 440.91,734.70 441.05,734.56 441.19,734.50 441.33,734.47 441.48,734.39 441.62,734.42 441.76,734.45 441.90,734.48 442.05,734.47 442.19,734.52 442.33,734.56 442.47,734.66 442.61,734.70 442.76,734.62 442.90,734.60 443.04,734.68 443.18,734.50 443.32,734.63 443.47,734.58 443.61,734.59 443.75,734.57 443.89,734.50 444.03,734.58 444.18,734.50 444.32,734.48 444.46,734.51 444.60,734.49 444.75,734.44 444.89,734.47 445.03,734.52 445.17,734.53 445.31,734.71 445.46,734.65 445.60,734.55 445.74,734.62 445.88,734.65 446.02,734.67 446.17,734.79 446.31,734.71 446.45,734.69 446.59,734.69 446.73,734.76 446.88,734.47 447.02,734.52 447.16,734.57 447.30,734.44 447.45,734.51 447.59,734.55 447.73,734.64 447.87,734.61 448.01,734.67 448.16,734.53 448.30,734.48 448.44,734.51 448.58,734.31 448.72,734.27 448.87,734.28 449.01,734.35 449.15,734.47 449.29,734.35 449.43,734.39 449.58,734.41 449.72,734.36 449.86,734.39 450.00,734.40 450.14,734.48 450.29,734.46 450.43,734.53 450.57,734.38 450.71,734.55 450.86,734.45 451.00,734.48 451.14,734.42 451.28,734.46 451.42,734.50 451.57,734.52 451.71,734.46 451.85,734.48 451.99,734.38 452.13,734.39 452.28,734.34 452.42,734.27 452.56,734.34 452.70,734.26 452.84,734.30 452.99,734.29 453.13,734.43 453.27,734.45 453.41,734.44 453.56,734.41 453.70,734.46 453.84,734.40 453.98,734.43 454.12,734.42 454.27,734.48 454.41,734.50 454.55,734.47 454.69,734.47 454.83,734.59 454.98,734.62 455.12,734.53 455.26,734.67 455.40,734.63 455.54,734.59 455.69,734.54 455.83,734.52 455.97,734.63 456.11,734.57 456.26,734.60 456.40,734.61 456.54,734.61 456.68,734.44 456.82,734.47 456.97,734.41 457.11,734.35 457.25,734.22 457.39,734.28 457.53,734.46 457.68,734.49 457.82,734.55 457.96,734.70 458.10,734.55 458.24,734.59 458.39,734.46 458.53,734.39 458.67,734.30 458.81,734.30 458.96,734.29 459.10,734.30 459.24,734.38 459.38,734.43 459.52,734.45 459.67,734.46 459.81,734.42 459.95,734.45 460.09,734.38 460.23,734.43 460.38,734.41 460.52,734.41 460.66,734.47 460.80,734.49 460.94,734.45 461.09,734.58 461.23,734.49 461.37,734.60 461.51,734.45 461.66,734.45 461.80,734.53 461.94,734.39 462.08,734.45 462.22,734.41 462.37,734.43 462.51,734.37 462.65,734.35 462.79,734.32 462.93,734.28 463.08,734.27 463.22,734.28 463.36,734.42 463.50,734.29 463.64,734.31 463.79,734.38 463.93,734.17 464.07,734.35 464.21,734.35 464.35,734.39 464.50,734.38 464.64,734.35 464.78,734.46 464.92,734.48 465.07,734.52 465.21,734.47 465.35,734.59 465.49,734.49 465.63,734.48 465.78,734.51 465.92,734.55 466.06,734.51 466.20,734.52 466.34,734.50 466.49,734.46 466.63,734.55 466.77,734.54 466.91,734.42 467.05,734.40 467.20,734.43 467.34,734.40 467.48,734.37 467.62,734.38 467.77,734.42 467.91,734.39 468.05,734.41 468.19,734.43 468.33,734.37 468.48,734.49 468.62,734.37 468.76,734.39 468.90,734.30 469.04,734.28 469.19,734.33 469.33,734.39 469.47,734.34 469.61,734.47 469.75,734.46 469.90,734.31 470.04,734.38 470.18,734.42 470.32,734.40 470.47,734.36 470.61,734.42 470.75,734.42 470.89,734.35 471.03,734.48 471.18,734.53 471.32,734.52 471.46,734.53 471.60,734.50 471.74,734.52 471.89,734.55 472.03,734.50 472.17,734.51 472.31,734.38 472.45,734.38 472.60,734.37 472.74,734.44 472.88,734.39 473.02,734.47 473.17,734.40 473.31,734.34 473.45,734.40 473.59,734.25 473.73,734.31 473.88,734.34 474.02,734.20 474.16,734.25 474.30,734.27 474.44,734.23 474.59,734.35 474.73,734.35 474.87,734.34 475.01,734.44 475.15,734.44 475.30,734.46 475.44,734.41 475.58,734.34 475.72,734.40 475.87,734.41 476.01,734.41 476.15,734.45 476.29,734.43 476.43,734.43 476.58,734.38 476.72,734.43 476.86,734.35 477.00,734.38 477.14,734.57 477.29,734.48 477.43,734.60 477.57,734.67 477.71,734.66 477.85,734.56 478.00,734.50 478.14,734.40 478.28,734.33 478.42,734.30 478.56,734.31 478.71,734.28 478.85,734.30 478.99,734.35 479.13,734.25 479.28,734.30 479.42,734.34 479.56,734.42 479.70,734.47 479.84,734.40 479.99,734.41 480.13,734.44 480.27,734.50 480.41,734.46 480.55,734.49 480.70,734.34 480.84,734.38 480.98,734.45 481.12,734.56 481.26,734.46 481.41,734.50 481.55,734.48 481.69,734.40 481.83,734.48 481.98,734.39 482.12,734.45 482.26,734.37 482.40,734.37 482.54,734.43 482.69,734.36 482.83,734.37 482.97,734.44 483.11,734.43 483.25,734.44 483.40,734.33 483.54,734.35 483.68,734.30 483.82,734.16 483.96,734.29 484.11,734.22 484.25,734.22 484.39,734.29 484.53,734.18 484.68,734.14 484.82,734.18 484.96,734.26 485.10,734.24 485.24,734.07 485.39,734.13 485.53,734.13 485.67,734.21 485.81,734.39 485.95,734.36 486.10,734.52 486.24,734.48 486.38,734.40 486.52,734.48 486.66,734.47 486.81,734.39 486.95,734.55 487.09,734.40 487.23,734.47 487.38,734.43 487.52,734.42 487.66,734.46 487.80,734.34 487.94,734.39 488.09,734.36 488.23,734.33 488.37,734.41 488.51,734.36 488.65,734.40 488.80,734.36 488.94,734.31 489.08,734.37 489.22,734.34 489.36,734.29 489.51,734.34 489.65,734.29 489.79,734.30 489.93,734.28 490.08,734.38 490.22,734.30 490.36,734.42 490.50,734.46 490.64,734.38 490.79,734.38 490.93,734.38 491.07,734.39 491.21,734.37 491.35,734.31 491.50,734.36 491.64,734.30 491.78,734.30 491.92,734.46 492.06,734.44 492.21,734.44 492.35,734.53 492.49,734.46 492.63,734.44 492.77,734.43 492.92,734.35 493.06,734.30 493.20,734.25 493.34,734.29 493.49,734.36 493.63,734.29 493.77,734.31 493.91,734.28 494.05,734.28 494.20,734.34 494.34,734.35 494.48,734.27 494.62,734.25 494.76,734.23 494.91,734.27 495.05,734.26 495.19,734.37 495.33,734.31 495.47,734.45 495.62,734.39 495.76,734.35 495.90,734.34 496.04,734.26 496.19,734.23 496.33,734.27 496.47,734.29 496.61,734.16 496.75,734.23 496.90,734.26 497.04,734.36 497.18,734.29 497.32,734.21 497.46,734.33 497.61,734.32 497.75,734.34 497.89,734.37 498.03,734.30 498.17,734.34 498.32,734.24 498.46,734.19 498.60,734.16 498.74,734.27 498.89,734.24 499.03,734.25 499.17,734.21 499.31,734.20 499.45,734.22 499.60,734.17 499.74,734.20 499.88,734.37 500.02,734.22 500.16,734.20 500.31,734.28 500.45,734.25 500.59,734.32 500.73,734.21 500.87,734.29 501.02,734.30 501.16,734.31 501.30,734.35 501.44,734.32 501.59,734.30 501.73,734.18 501.87,734.30 502.01,734.29 502.15,734.26 502.30,734.27 502.44,734.36 502.58,734.21 502.72,734.28 502.86,734.26 503.01,734.13 503.15,734.13 503.29,734.14 503.43,734.17 503.57,734.12 503.72,734.15 503.86,734.11 504.00,734.25 504.14,734.33 504.29,734.28 504.43,734.24 504.57,734.21 504.71,734.22 504.85,734.23 505.00,734.28 505.14,734.30 505.28,734.29 505.42,734.32 505.56,734.35 505.71,734.22 505.85,734.26 505.99,734.26 506.13,734.28 506.27,734.31 506.42,734.23 506.56,734.42 506.70,734.35 506.84,734.46 506.98,734.31 507.13,734.40 507.27,734.35 507.41,734.33 507.55,734.31 507.70,734.21 507.84,734.24 507.98,734.20 508.12,734.11 508.26,734.17 508.41,734.18 508.55,734.09 508.69,734.09 508.83,734.19 508.97,734.19 509.12,734.22 509.26,734.22 509.40,734.25 509.54,734.20 509.68,734.24 509.83,734.17 509.97,734.26 510.11,734.17 510.25,734.18 510.40,734.12 510.54,734.10 510.68,734.20 510.82,734.13 510.96,734.20 511.11,734.22 511.25,734.25 511.39,734.17 511.53,734.15 511.67,734.22 511.82,734.12 511.96,734.18 512.10,734.13 512.24,734.20 512.38,734.18 512.53,734.24 512.67,734.24 512.81,734.32 512.95,734.27 513.10,734.13 513.24,734.29 513.38,734.34 513.52,734.31 513.66,734.29 513.81,734.31 513.95,734.33 514.09,734.32 514.23,734.27 514.37,734.32 514.52,734.29 514.66,734.34 514.80,734.24 514.94,734.35 515.08,734.25 515.23,734.33 515.37,734.24 515.51,734.36 515.65,734.23 515.80,734.28 515.94,734.24 516.08,734.28 516.22,734.31 516.36,734.33 516.51,734.32 516.65,734.24 516.79,734.38 516.93,734.25 517.07,734.23 517.22,734.29 517.36,734.22 517.50,734.15 517.64,734.15 517.78,734.20 517.93,734.17 518.07,734.19 518.21,734.12 518.35,734.05 518.50,734.16 518.64,734.08 518.78,734.06 518.92,734.07 519.06,734.10 519.21,733.99 519.35,734.05 519.49,734.11 519.63,734.09 519.77,734.05 519.92,734.12 520.06,734.16 520.20,734.06 520.34,734.12 520.48,734.11 520.63,734.19 520.77,734.10 520.91,734.20 521.05,734.15 521.19,734.28 521.34,734.20 521.48,734.26 521.62,734.29 521.76,734.26 521.91,734.26 522.05,734.27 522.19,734.21 522.33,734.23 522.47,734.31 522.62,734.32 522.76,734.23 522.90,734.29 523.04,734.19 523.18,734.22 523.33,734.23 523.47,734.36 523.61,734.23 523.75,734.13 523.89,734.21 524.04,734.18 524.18,734.18 524.32,734.13 524.46,734.08 524.61,734.12 524.75,734.19 524.89,734.18 525.03,734.19 525.17,734.21 525.32,734.21 525.46,734.32 525.60,734.30 525.74,734.27 525.88,734.37 526.03,734.30 526.17,734.34 526.31,734.29 526.45,734.26 526.59,734.23 526.74,734.36 526.88,734.20 527.02,734.21 527.16,734.16 527.31,734.20 527.45,734.24 527.59,734.23 527.73,734.22 527.87,734.15 528.02,734.16 528.16,734.11 528.30,734.08 528.44,734.06 528.58,734.16 528.73,734.12 528.87,734.25 529.01,734.10 529.15,734.23 529.29,734.21 529.44,734.13 529.58,734.18 529.72,734.17 529.86,734.10 530.01,734.12 530.15,734.09 530.29,734.09 530.43,734.13 530.57,734.17 530.72,734.10 530.86,734.17 531.00,734.10 531.14,734.03 531.28,734.14 531.43,734.08 531.57,734.05 531.71,734.09 531.85,734.06 531.99,734.15 532.14,734.13 532.28,734.16 532.42,734.19 532.56,734.15 532.71,734.11 532.85,734.15 532.99,734.13 533.13,734.15 533.27,734.17 533.42,734.11 533.56,734.16 533.70,734.18 533.84,734.19 533.98,734.16 534.13,734.20 534.27,734.18 534.41,734.10 534.55,734.07 534.69,734.03 534.84,734.03 534.98,734.06 535.12,734.05 535.26,734.05 535.40,734.04 535.55,734.04 535.69,733.99 535.83,733.94 535.97,733.96 536.12,733.84 536.26,733.92 536.40,733.94 536.54,734.00 536.68,734.03 536.83,734.03 536.97,734.14 537.11,734.15 537.25,734.23 537.39,734.17 537.54,734.16 537.68,734.15 537.82,734.18 537.96,734.09 538.10,734.15 538.25,734.13 538.39,734.17 538.53,734.11 538.67,734.23 538.82,734.15 538.96,734.22 539.10,734.30 539.24,734.23 539.38,734.21 539.53,734.22 539.67,734.11 539.81,734.16 539.95,734.07 540.09,734.06 540.24,734.08 540.38,733.99 540.52,734.02 540.66,734.03 540.80,734.08 540.95,734.09 541.09,734.06 541.23,734.05 541.37,734.04 541.52,734.05 541.66,733.96 541.80,733.99 541.94,733.97 542.08,734.11 542.23,734.05 542.37,734.07 542.51,734.11 542.65,734.08 542.79,734.12 542.94,734.16 543.08,734.15 543.22,734.09 543.36,734.09 543.50,734.09 543.65,734.15 543.79,734.21 543.93,734.18 544.07,734.13 544.22,734.10 544.36,734.14 544.50,734.09 544.64,734.08 544.78,734.14 544.93,734.11 545.07,734.18 545.21,734.20 545.35,734.27 545.49,734.17 545.64,734.18 545.78,734.11 545.92,734.14 546.06,734.12 546.20,734.03 546.35,734.06 546.49,733.99 546.63,734.04 546.77,734.07 546.91,734.10 547.06,734.08 547.20,734.07 547.34,734.06 547.48,734.04 547.63,734.12 547.77,734.05 547.91,734.00 548.05,734.09 548.19,734.11 548.34,734.11 548.48,734.17 548.62,734.10 548.76,734.17 548.90,734.18 549.05,734.19 549.19,734.23 549.33,734.16 549.47,734.09 549.61,734.11 549.76,734.05 549.90,734.09 550.04,734.14 550.18,734.21 550.33,734.10 550.47,734.17 550.61,734.16 550.75,734.21 550.89,734.18 551.04,734.15 551.18,734.11 551.32,734.18 551.46,734.08 551.60,734.10 551.75,734.01 551.89,734.09 552.03,734.06 552.17,734.07 552.31,734.06 552.46,734.10 552.60,734.13 552.74,734.12 552.88,734.10 553.03,734.11 553.17,734.15 553.31,734.10 553.45,734.08 553.59,734.09 553.74,734.10 553.88,734.03 554.02,734.01 554.16,734.07 554.30,734.08 554.45,734.05 554.59,734.15 554.73,734.07 554.87,734.11 555.01,734.18 555.16,734.23 555.30,734.14 555.44,734.16 555.58,734.20 555.73,734.09 555.87,734.20 556.01,734.06 556.15,734.05 556.29,734.07 556.44,733.99 556.58,733.94 556.72,734.02 556.86,734.09 557.00,734.14 557.15,734.13 557.29,734.13 557.43,734.16 557.57,734.17 557.71,734.13 557.86,734.09 558.00,734.09 558.14,734.01 558.28,734.13 558.43,734.07 558.57,734.10 558.71,734.08 558.85,734.09 558.99,734.15 559.14,734.07 559.28,734.09 559.42,734.00 559.56,734.05 559.70,734.00 559.85,734.02 559.99,734.01 560.13,733.97 560.27,734.01 560.41,734.02 560.56,733.95 560.70,734.02 560.84,734.06 560.98,734.09 561.12,734.10 561.27,734.04 561.41,734.06 561.55,734.01 561.69,734.03 561.84,734.08 561.98,733.98 562.12,734.00 562.26,734.05 562.40,734.13 562.55,734.06 562.69,734.15 562.83,734.18 562.97,734.12 563.11,734.14 563.26,734.08 563.40,734.06 563.54,733.97 563.68,734.06 563.82,734.05 563.97,734.08 564.11,734.08 564.25,734.14 564.39,734.09 564.54,734.09 564.68,734.03 564.82,733.92 564.96,733.94 565.10,733.96 565.25,733.93 565.39,734.00 565.53,733.99 565.67,734.01 565.81,734.14 565.96,734.12 566.10,734.13 566.24,734.06 566.38,734.05 566.52,734.00 566.67,734.04 566.81,734.01 566.95,734.06 567.09,734.06 567.24,734.01 567.38,733.99 567.52,733.94 567.66,733.99 567.80,734.01 567.95,733.98 568.09,733.96 568.23,733.95 568.37,734.02 568.51,734.00 568.66,734.02 568.80,733.97 568.94,734.02 569.08,733.99 569.22,733.97 569.37,733.98 569.51,734.10 569.65,733.96 569.79,733.99 569.94,734.01 570.08,734.12 570.22,734.03 570.36,734.09 570.50,734.09 570.65,734.07 570.79,734.05 570.93,734.02 571.07,733.99 571.21,734.04 571.36,733.94 571.50,733.99 571.64,734.01 571.78,733.96 571.92,734.04 572.07,733.97 572.21,733.92 572.35,733.99 572.49,733.98 572.64,733.99 572.78,733.98 572.92,733.99 573.06,733.95 573.20,733.88 573.35,733.91 573.49,733.95 573.63,733.95 573.77,733.94 573.91,733.94 574.06,733.90 574.20,733.89 574.34,733.86 574.48,733.90 574.62,733.90 574.77,733.93 574.91,733.87 575.05,733.94 575.19,733.86 575.34,733.93 575.48,734.03 575.62,733.98 575.76,734.02 575.90,734.01 576.05,734.07 576.19,734.00 576.33,733.92 576.47,733.94 576.61,733.85 576.76,733.85 576.90,733.83 577.04,733.86 577.18,733.97 577.32,733.95 577.47,733.96 577.61,734.04 577.75,734.08 577.89,734.01 578.03,734.07 578.18,734.03 578.32,734.03 578.46,734.01 578.60,734.06 578.75,734.02 578.89,733.99 579.03,733.91 579.17,733.90 579.31,733.92 579.46,733.95 579.60,734.00 579.74,733.94 579.88,733.93 580.02,733.88 580.17,733.96 580.31,734.00 580.45,734.00 580.59,733.94 580.73,733.97 580.88,733.95 581.02,733.96 581.16,733.96 581.30,733.96 581.45,733.97 581.59,734.00 581.73,733.98 581.87,733.97 582.01,733.91 582.16,733.92 582.30,733.89 582.44,733.89 582.58,733.89 582.72,733.98 582.87,734.03 583.01,734.03 583.15,734.08 583.29,734.01 583.43,734.04 583.58,734.04 583.72,733.93 583.86,733.92 584.00,733.99 584.15,733.92 584.29,734.01 584.43,734.02 584.57,734.03 584.71,733.98 584.86,733.92 585.00,733.94 585.14,733.93 585.28,733.93 585.42,733.97 585.57,733.91 585.71,733.91 585.85,733.96 585.99,734.01 586.13,733.96 586.28,734.04 586.42,734.02 586.56,733.92 586.70,733.93 586.85,733.98 586.99,733.95 587.13,733.96 587.27,733.91 587.41,733.95 587.56,733.97 587.70,733.92 587.84,733.91 587.98,733.85 588.12,733.87 588.27,733.83 588.41,733.84 588.55,733.86 588.69,733.81 588.83,733.91 588.98,733.86 589.12,733.88 589.26,733.85 589.40,733.88 589.54,733.76 589.69,733.78 589.83,733.87 589.97,733.78 590.11,733.74 590.26,733.78 590.40,733.88 590.54,733.86 590.68,733.92 590.82,733.93 590.97,733.96 591.11,733.92 591.25,733.89 591.39,733.94 591.53,733.86 591.68,733.91 591.82,733.92 591.96,733.97 592.10,733.94 592.24,733.91 592.39,733.89 592.53,733.93 592.67,733.86 592.81,733.92 592.96,733.89 593.10,733.91 593.24,733.93 593.38,733.91 593.52,733.97 593.67,733.89 593.81,733.90 593.95,733.91 594.09,733.95 594.23,733.93 594.38,733.94 594.52,733.90 594.66,733.85 594.80,733.91 594.94,733.84 595.09,733.86 595.23,733.87 595.37,733.87 595.51,733.84 595.66,733.88 595.80,733.93 595.94,733.84 596.08,733.92 596.22,733.89 596.37,733.87 596.51,733.91 596.65,733.90 596.79,733.92 596.93,733.98 597.08,733.89 597.22,733.90 597.36,733.96 597.50,733.93 597.64,733.89 597.79,733.92 597.93,733.85 598.07,733.93 598.21,733.88 598.36,733.95 598.50,734.03 598.64,734.03 598.78,733.95 598.92,733.97 599.07,733.92 599.21,733.88 599.35,733.86 599.49,733.87 599.63,733.83 599.78,733.84 599.92,733.82 600.06,733.85 600.20,733.91 600.34,733.85 600.49,733.81 600.63,733.88 600.77,733.86 600.91,733.91 601.06,733.85 601.20,733.88 601.34,733.96 601.48,733.95 601.62,733.88 601.77,733.83 601.91,733.95 602.05,733.91 602.19,733.85 602.33,733.94 602.48,733.82 602.62,733.86 602.76,733.90 602.90,733.82 603.04,733.94 603.19,733.83 603.33,733.88 603.47,733.89 603.61,733.89 603.75,733.93 603.90,733.91 604.04,733.95 604.18,733.89 604.32,733.88 604.47,733.92 604.61,733.83 604.75,733.89 604.89,733.90 605.03,733.85 605.18,733.87 605.32,733.89 605.46,733.93 605.60,733.88 605.74,733.91 605.89,733.86 606.03,733.88 606.17,733.93 606.31,733.93 606.45,733.88 606.60,733.91 606.74,733.89 606.88,733.92 607.02,733.85 607.17,733.85 607.31,733.89 607.45,733.89 607.59,733.90 607.73,733.96 607.88,733.92 608.02,733.86 608.16,733.89 608.30,733.95 608.44,733.95 608.59,733.94 608.73,733.89 608.87,733.92 609.01,733.89 609.15,733.90 609.30,733.87 609.44,733.82 609.58,733.84 609.72,733.75 609.87,733.80 610.01,733.74 610.15,733.76 610.29,733.76 610.43,733.73 610.58,733.73 610.72,733.74 610.86,733.78 611.00,733.86 611.14,733.86 611.29,733.83 611.43,733.85 611.57,733.83 611.71,733.78 611.85,733.84 612.00,733.89 612.14,733.87 612.28,733.86 612.42,733.91 612.57,733.90 612.71,733.92 612.85,733.89 612.99,733.91 613.13,733.88 613.28,733.81 613.42,733.84 613.56,733.88 613.70,733.87 613.84,733.83 613.99,733.83 614.13,733.82 614.27,733.77 614.41,733.78 614.55,733.79 614.70,733.79 614.84,733.82 614.98,733.83 615.12,733.85 615.27,733.83 615.41,733.81 615.55,733.86 615.69,733.88 615.83,733.88 615.98,733.84 616.12,733.86 616.26,733.84 616.40,733.87 616.54,733.87 616.69,733.94 616.83,733.87 616.97,733.84 617.11,733.77 617.25,733.82 617.40,733.79 617.54,733.74 617.68,733.77 617.82,733.84 617.97,733.78 618.11,733.80 618.25,733.80 618.39,733.80 618.53,733.82 618.68,733.85 618.82,733.91 618.96,733.94 619.10,733.96 619.24,733.87 619.39,733.88 619.53,733.87 619.67,733.82 619.81,733.86 619.95,733.87 620.10,733.82 620.24,733.86 620.38,733.82 620.52,733.85 620.66,733.90 620.81,733.87 620.95,733.88 621.09,733.87 621.23,733.89 621.38,733.86 621.52,733.83 621.66,733.82 621.80,733.85 621.94,733.80 622.09,733.78 622.23,733.84 622.37,733.86 622.51,733.83 622.65,733.86 622.80,733.86 622.94,733.95 623.08,733.87 623.22,733.86 623.36,733.90 623.51,733.87 623.65,733.88 623.79,733.82 623.93,733.82 624.08,733.85 624.22,733.82 624.36,733.82 624.50,733.80 624.64,733.75 624.79,733.80 624.93,733.80 625.07,733.79 625.21,733.84 625.35,733.85 625.50,733.82 625.64,733.85 625.78,733.89 625.92,733.86 626.06,733.91 626.21,733.90 626.35,733.78 626.49,733.79 626.63,733.82 626.78,733.75 626.92,733.70 627.06,733.82 627.20,733.79 627.34,733.83 627.49,733.79 627.63,733.88 627.77,733.84 627.91,733.87 628.05,733.77 628.20,733.80 628.34,733.79 628.48,733.77 628.62,733.81 628.76,733.77 628.91,733.84 629.05,733.78 629.19,733.77 629.33,733.84 629.48,733.78 629.62,733.77 629.76,733.81 629.90,733.89 630.04,733.82 630.19,733.83 630.33,733.90 630.47,733.82 630.61,733.89 630.75,733.82 630.90,733.85 631.04,733.80 631.18,733.87 631.32,733.79 631.46,733.88 631.61,733.82 631.75,733.84 631.89,733.82 632.03,733.82 632.17,733.84 632.32,733.75 632.46,733.82 632.60,733.84 632.74,733.82 632.89,733.85 633.03,733.81 633.17,733.83 633.31,733.79 633.45,733.73 633.60,733.72 633.74,733.72 633.88,733.77 634.02,733.77 634.16,733.71 634.31,733.78 634.45,733.82 634.59,733.82 634.73,733.77 634.87,733.77 635.02,733.76 635.16,733.82 635.30,733.85 635.44,733.82 635.59,733.79 635.73,733.81 635.87,733.81 636.01,733.77 636.15,733.75 636.30,733.76 636.44,733.78 636.58,733.76 636.72,733.81 636.86,733.86 637.01,733.83 637.15,733.80 637.29,733.84 637.43,733.77 637.57,733.78 637.72,733.78 637.86,733.75 638.00,733.77 638.14,733.73 638.29,733.77 638.43,733.75 638.57,733.69 638.71,733.75 638.85,733.79 639.00,733.83 639.14,733.82 639.28,733.79 639.42,733.79 639.56,733.81 639.71,733.79 639.85,733.82 639.99,733.79 640.13,733.83 640.27,733.78 640.42,733.78 640.56,733.73 640.70,733.79 640.84,733.78 640.99,733.76 641.13,733.71 641.27,733.72 641.41,733.79 641.55,733.79 641.70,733.79 641.84,733.76 641.98,733.81 642.12,733.76 642.26,733.84 642.41,733.78 642.55,733.79 642.69,733.80 642.83,733.80 642.97,733.91 643.12,733.82 643.26,733.84 643.40,733.82 643.54,733.79 643.69,733.77 643.83,733.75 643.97,733.74 644.11,733.74 644.25,733.73 644.40,733.73 644.54,733.77 644.68,733.76 644.82,733.81 644.96,733.80 645.11,733.84 645.25,733.81 645.39,733.90 645.53,733.86 645.67,733.82 645.82,733.80 645.96,733.81 646.10,733.86 646.24,733.85 646.38,733.81 646.53,733.82 646.67,733.87 646.81,733.80 646.95,733.88 647.10,733.87 647.24,733.83 647.38,733.80 647.52,733.76 647.66,733.78 647.81,733.78 647.95,733.79 648.09,733.69 648.23,733.73 648.37,733.77 648.52,733.75 648.66,733.77 648.80,733.78 648.94,733.77 649.08,733.76 649.23,733.82 649.37,733.77 649.51,733.80 649.65,733.73 649.80,733.77 649.94,733.79 650.08,733.87 650.22,733.85 650.36,733.82 650.51,733.81 650.65,733.74 650.79,733.72 650.93,733.71 651.07,733.70 651.22,733.69 651.36,733.73 651.50,733.73 651.64,733.70 651.78,733.73 651.93,733.71 652.07,733.75 652.21,733.74 652.35,733.79 652.50,733.77 652.64,733.78 652.78,733.82 652.92,733.85 653.06,733.81 653.21,733.84 653.35,733.83 653.49,733.82 653.63,733.86 653.77,733.84 653.92,733.82 654.06,733.80 654.20,733.83 654.34,733.80 654.48,733.81 654.63,733.78 654.77,733.77 654.91,733.74 655.05,733.69 655.20,733.76 655.34,733.74 655.48,733.75 655.62,733.76 655.76,733.76 655.91,733.77 656.05,733.76 656.19,733.72 656.33,733.70 656.47,733.76 656.62,733.71 656.76,733.70 656.90,733.71 657.04,733.69 657.18,733.68 657.33,733.65 657.47,733.74 657.61,733.70 657.75,733.72 657.90,733.80 658.04,733.78 658.18,733.77 658.32,733.76 658.46,733.81 658.61,733.80 658.75,733.80 658.89,733.78 659.03,733.78 659.17,733.76 659.32,733.72 659.46,733.69 659.60,733.70 659.74,733.69 659.88,733.71 660.03,733.74 660.17,733.71 660.31,733.75 660.45,733.73 660.60,733.78 660.74,733.75 660.88,733.74 661.02,733.72 661.16,733.70 661.31,733.78 661.45,733.68 661.59,733.71 661.73,733.66 661.87,733.67 662.02,733.66 662.16,733.71 662.30,733.67 662.44,733.71 662.58,733.76 662.73,733.75 662.87,733.72 663.01,733.74 663.15,733.73 663.29,733.74 663.44,733.74 663.58,733.80 663.72,733.74 663.86,733.69 664.01,733.69 664.15,733.67 664.29,733.65 664.43,733.64 664.57,733.65 664.72,733.68 664.86,733.71 665.00,733.74 665.14,733.72 665.28,733.72 665.43,733.68 665.57,733.69 665.71,733.68 665.85,733.65 665.99,733.71 666.14,733.76 666.28,733.72 666.42,733.75 666.56,733.73 666.71,733.77 666.85,733.78 666.99,733.73 667.13,733.69 667.27,733.73 667.42,733.66 667.56,733.68 667.70,733.70" fill="none" stroke="#800000" stroke-width="3.2" stroke-linejoin="round" stroke-linecap="round"/>
<g opacity="0.999">
<text transform="matrix(0.10720 0 0 0.09089 70.333 211.000)" font-size="200" font-weight="bold" fill="#000" stroke="#000" stroke-width="3.55" stroke-linejoin="round">0</text>
<text transform="matrix(0.10977 0 0 0.09571 45.701 187.000)" font-size="200" font-weight="bold" fill="#000" stroke="#000" stroke-width="3.41" stroke-linejoin="round">100</text><g transform="matrix(0.10977 0 0 0.09571 45.701 187.000)" fill="#fff"><rect x="-1.95" y="-39.06" width="46.53" height="62.50"/><rect x="76.22" y="-39.06" width="37.06" height="62.50"/></g>
<text transform="matrix(0.10978 0 0 0.09339 45.696 162.000)" font-size="200" font-weight="bold" fill="#000" stroke="#000" stroke-width="3.46" stroke-linejoin="round">200</text>
<text transform="matrix(0.10979 0 0 0.09107 45.693 137.000)" font-size="200" font-weight="bold" fill="#000" stroke="#000" stroke-width="3.50" stroke-linejoin="round">300</text>
<text transform="matrix(0.10980 0 0 0.09589 45.691 113.000)" font-size="200" font-weight="bold" fill="#000" stroke="#000" stroke-width="3.41" stroke-linejoin="round">400</text>
<text transform="matrix(0.10979 0 0 0.09357 45.695 88.000)" font-size="200" font-weight="bold" fill="#000" stroke="#000" stroke-width="3.45" stroke-linejoin="round">500</text>
<text transform="matrix(0.10978 0 0 0.09125 45.696 63.000)" font-size="200" font-weight="bold" fill="#000" stroke="#000" stroke-width="3.50" stroke-linejoin="round">600</text>
<text transform="matrix(0.10978 0 0 0.09607 45.697 39.000)" font-size="200" font-weight="bold" fill="#000" stroke="#000" stroke-width="3.41" stroke-linejoin="round">700</text>
<text transform="matrix(0.10979 0 0 0.09375 45.695 14.000)" font-size="200" font-weight="bold" fill="#000" stroke="#000" stroke-width="3.45" stroke-linejoin="round">800</text>
<text transform="matrix(0.10919 0 0 0.08946 82.434 230.000)" font-size="200" font-weight="bold" fill="#000" stroke="#000" stroke-width="3.54" stroke-linejoin="round">20</text>
<text transform="matrix(0.10921 0 0 0.08946 153.682 230.000)" font-size="200" font-weight="bold" fill="#000" stroke="#000" stroke-width="3.54" stroke-linejoin="round">30</text>
<text transform="matrix(0.10922 0 0 0.08946 224.929 230.000)" font-size="200" font-weight="bold" fill="#000" stroke="#000" stroke-width="3.54" stroke-linejoin="round">40</text>
<text transform="matrix(0.10920 0 0 0.08946 295.908 230.000)" font-size="200" font-weight="bold" fill="#000" stroke="#000" stroke-width="3.54" stroke-linejoin="round">50</text>
<text transform="matrix(0.10919 0 0 0.08946 366.994 230.000)" font-size="200" font-weight="bold" fill="#000" stroke="#000" stroke-width="3.54" stroke-linejoin="round">60</text>
<text transform="matrix(0.10918 0 0 0.08946 438.081 230.000)" font-size="200" font-weight="bold" fill="#000" stroke="#000" stroke-width="3.54" stroke-linejoin="round">70</text>
<text transform="matrix(0.10920 0 0 0.08946 509.328 230.000)" font-size="200" font-weight="bold" fill="#000" stroke="#000" stroke-width="3.54" stroke-linejoin="round">80</text>
<text transform="matrix(0.10919 0 0 0.08946 580.414 230.000)" font-size="200" font-weight="bold" fill="#000" stroke="#000" stroke-width="3.54" stroke-linejoin="round">90</text>
<text transform="matrix(0.10977 0 0 0.08946 645.125 230.000)" font-size="200" font-weight="bold" fill="#000" stroke="#000" stroke-width="3.53" stroke-linejoin="round">100</text><g transform="matrix(0.10977 0 0 0.08946 645.125 230.000)" fill="#fff"><rect x="-1.95" y="-39.06" width="46.48" height="62.50"/><rect x="76.28" y="-39.06" width="37.00" height="62.50"/></g>
<text transform="matrix(0.10720 0 0 0.09589 70.333 481.000)" font-size="200" font-weight="bold" fill="#000" stroke="#000" stroke-width="3.45" stroke-linejoin="round">0</text>
<text transform="matrix(0.10977 0 0 0.09446 45.701 456.000)" font-size="200" font-weight="bold" fill="#000" stroke="#000" stroke-width="3.44" stroke-linejoin="round">150</text><g transform="matrix(0.10977 0 0 0.09446 45.701 456.000)" fill="#fff"><rect x="-1.95" y="-39.06" width="46.52" height="62.50"/><rect x="76.23" y="-39.06" width="37.05" height="62.50"/></g>
<text transform="matrix(0.10979 0 0 0.09304 45.693 431.000)" font-size="200" font-weight="bold" fill="#000" stroke="#000" stroke-width="3.46" stroke-linejoin="round">300</text>
<text transform="matrix(0.10980 0 0 0.09161 45.691 406.000)" font-size="200" font-weight="bold" fill="#000" stroke="#000" stroke-width="3.49" stroke-linejoin="round">450</text>
<text transform="matrix(0.10978 0 0 0.09018 45.696 381.000)" font-size="200" font-weight="bold" fill="#000" stroke="#000" stroke-width="3.52" stroke-linejoin="round">600</text>
<text transform="matrix(0.10978 0 0 0.09589 45.697 357.000)" font-size="200" font-weight="bold" fill="#000" stroke="#000" stroke-width="3.41" stroke-linejoin="round">750</text>
<text transform="matrix(0.10978 0 0 0.09446 45.696 332.000)" font-size="200" font-weight="bold" fill="#000" stroke="#000" stroke-width="3.44" stroke-linejoin="round">900</text>
<text transform="matrix(0.11006 0 0 0.09304 33.279 307.000)" font-size="200" font-weight="bold" fill="#000" stroke="#000" stroke-width="3.46" stroke-linejoin="round">1050</text><g transform="matrix(0.11006 0 0 0.09304 33.279 307.000)" fill="#fff"><rect x="-1.95" y="-39.06" width="46.51" height="62.50"/><rect x="76.24" y="-39.06" width="37.04" height="62.50"/></g>
<text transform="matrix(0.10919 0 0 0.09018 82.034 508.000)" font-size="200" font-weight="bold" fill="#000" stroke="#000" stroke-width="3.53" stroke-linejoin="round">20</text>
<text transform="matrix(0.10921 0 0 0.09018 153.282 508.000)" font-size="200" font-weight="bold" fill="#000" stroke="#000" stroke-width="3.53" stroke-linejoin="round">30</text>
<text transform="matrix(0.10922 0 0 0.09018 224.529 508.000)" font-size="200" font-weight="bold" fill="#000" stroke="#000" stroke-width="3.53" stroke-linejoin="round">40</text>
<text transform="matrix(0.10920 0 0 0.09018 295.508 508.000)" font-size="200" font-weight="bold" fill="#000" stroke="#000" stroke-width="3.53" stroke-linejoin="round">50</text>
<text transform="matrix(0.10919 0 0 0.09018 366.594 508.000)" font-size="200" font-weight="bold" fill="#000" stroke="#000" stroke-width="3.53" stroke-linejoin="round">60</text>
<text transform="matrix(0.10918 0 0 0.09018 437.681 508.000)" font-size="200" font-weight="bold" fill="#000" stroke="#000" stroke-width="3.53" stroke-linejoin="round">70</text>
<text transform="matrix(0.10920 0 0 0.09018 508.928 508.000)" font-size="200" font-weight="bold" fill="#000" stroke="#000" stroke-width="3.53" stroke-linejoin="round">80</text>
<text transform="matrix(0.10919 0 0 0.09018 580.014 508.000)" font-size="200" font-weight="bold" fill="#000" stroke="#000" stroke-width="3.53" stroke-linejoin="round">90</text>
<text transform="matrix(0.10977 0 0 0.09018 644.725 508.000)" font-size="200" font-weight="bold" fill="#000" stroke="#000" stroke-width="3.52" stroke-linejoin="round">100</text><g transform="matrix(0.10977 0 0 0.09018 644.725 508.000)" fill="#fff"><rect x="-1.95" y="-39.06" width="46.48" height="62.50"/><rect x="76.27" y="-39.06" width="37.01" height="62.50"/></g>
<text transform="matrix(0.10720 0 0 0.08946 74.783 739.000)" font-size="200" font-weight="bold" fill="#000" stroke="#000" stroke-width="3.57" stroke-linejoin="round">0</text>
<text transform="matrix(0.10977 0 0 0.09089 50.151 717.000)" font-size="200" font-weight="bold" fill="#000" stroke="#000" stroke-width="3.50" stroke-linejoin="round">150</text><g transform="matrix(0.10977 0 0 0.09089 50.151 717.000)" fill="#fff"><rect x="-1.95" y="-39.06" width="46.49" height="62.50"/><rect x="76.26" y="-39.06" width="37.02" height="62.50"/></g>
<text transform="matrix(0.10979 0 0 0.09232 50.143 695.000)" font-size="200" font-weight="bold" fill="#000" stroke="#000" stroke-width="3.48" stroke-linejoin="round">300</text>
<text transform="matrix(0.10980 0 0 0.09375 50.141 673.000)" font-size="200" font-weight="bold" fill="#000" stroke="#000" stroke-width="3.45" stroke-linejoin="round">450</text>
<text transform="matrix(0.10978 0 0 0.09518 50.146 651.000)" font-size="200" font-weight="bold" fill="#000" stroke="#000" stroke-width="3.42" stroke-linejoin="round">600</text>
<text transform="matrix(0.10978 0 0 0.08946 50.147 628.000)" font-size="200" font-weight="bold" fill="#000" stroke="#000" stroke-width="3.53" stroke-linejoin="round">750</text>
<text transform="matrix(0.10978 0 0 0.09089 50.146 606.000)" font-size="200" font-weight="bold" fill="#000" stroke="#000" stroke-width="3.50" stroke-linejoin="round">900</text>
<text transform="matrix(0.11006 0 0 0.09232 37.729 584.000)" font-size="200" font-weight="bold" fill="#000" stroke="#000" stroke-width="3.47" stroke-linejoin="round">1050</text><g transform="matrix(0.11006 0 0 0.09232 37.729 584.000)" fill="#fff"><rect x="-1.95" y="-39.06" width="46.51" height="62.50"/><rect x="76.25" y="-39.06" width="37.03" height="62.50"/></g>
<text transform="matrix(0.11006 0 0 0.09375 37.729 562.000)" font-size="200" font-weight="bold" fill="#000" stroke="#000" stroke-width="3.45" stroke-linejoin="round">1200</text><g transform="matrix(0.11006 0 0 0.09375 37.729 562.000)" fill="#fff"><rect x="-1.95" y="-39.06" width="46.52" height="62.50"/><rect x="76.23" y="-39.06" width="37.05" height="62.50"/></g>
<text transform="matrix(0.10919 0 0 0.09304 86.634 774.000)" font-size="200" font-weight="bold" fill="#000" stroke="#000" stroke-width="3.47" stroke-linejoin="round">20</text>
<text transform="matrix(0.10921 0 0 0.09304 157.882 774.000)" font-size="200" font-weight="bold" fill="#000" stroke="#000" stroke-width="3.47" stroke-linejoin="round">30</text>
<text transform="matrix(0.10922 0 0 0.09304 229.129 774.000)" font-size="200" font-weight="bold" fill="#000" stroke="#000" stroke-width="3.47" stroke-linejoin="round">40</text>
<text transform="matrix(0.10920 0 0 0.09304 300.108 774.000)" font-size="200" font-weight="bold" fill="#000" stroke="#000" stroke-width="3.47" stroke-linejoin="round">50</text>
<text transform="matrix(0.10919 0 0 0.09304 371.194 774.000)" font-size="200" font-weight="bold" fill="#000" stroke="#000" stroke-width="3.47" stroke-linejoin="round">60</text>
<text transform="matrix(0.10918 0 0 0.09304 442.281 774.000)" font-size="200" font-weight="bold" fill="#000" stroke="#000" stroke-width="3.47" stroke-linejoin="round">70</text>
<text transform="matrix(0.10920 0 0 0.09304 513.528 774.000)" font-size="200" font-weight="bold" fill="#000" stroke="#000" stroke-width="3.47" stroke-linejoin="round">80</text>
<text transform="matrix(0.10919 0 0 0.09304 584.614 774.000)" font-size="200" font-weight="bold" fill="#000" stroke="#000" stroke-width="3.47" stroke-linejoin="round">90</text>
<text transform="matrix(0.10977 0 0 0.09304 649.325 774.000)" font-size="200" font-weight="bold" fill="#000" stroke="#000" stroke-width="3.46" stroke-linejoin="round">100</text><g transform="matrix(0.10977 0 0 0.09304 649.325 774.000)" fill="#fff"><rect x="-1.95" y="-39.06" width="46.51" height="62.50"/><rect x="76.24" y="-39.06" width="37.04" height="62.50"/></g>
<text transform="matrix(0 -0.11878 0.13862 0 24.000 169.644)" font-size="200" font-weight="bold" fill="#000">Intensity (a.u)</text>
<text transform="matrix(0 -0.12011 0.13655 0 21.000 455.361)" font-size="200" font-weight="bold" fill="#000">Intensity (a.u)</text>
<text transform="matrix(0 -0.11894 0.14414 0 25.000 720.846)" font-size="200" font-weight="bold" fill="#000">Intensity (a.u)</text>
<text transform="matrix(0.14317 0 0 0.11793 279.098 258.000)" font-size="200" font-weight="bold" fill="#000">2θ (degree)</text>
<text transform="matrix(0.14250 0 0 0.11232 285.902 528.000)" font-size="200" font-weight="bold" fill="#000">2θ (degree)</text>
<text transform="matrix(0.14269 0 0 0.11227 267.301 796.000)" font-size="200" font-weight="bold" fill="#000">2θ (degree)</text>
<text transform="matrix(0.18222 0 0 0.14828 579.078 65.000)" font-size="200" font-weight="bold" fill="#000">(a)</text>
<text transform="matrix(0.19915 0 0 0.16345 573.708 367.000)" font-size="200" font-weight="bold" fill="#000">(b)</text>
<text transform="matrix(0.19911 0 0 0.15931 577.309 627.000)" font-size="200" font-weight="bold" fill="#000">(c)</text>
<text transform="matrix(0 -0.07774 0.09138 0 183.000 94.052)" font-size="200" font-weight="bold" fill="#000" stroke="#000" stroke-width="2.97" stroke-linejoin="round">(100)</text><g transform="matrix(0 -0.07774 0.09138 0 183.000 94.052)" fill="#fff"><rect x="64.65" y="-39.06" width="46.76" height="62.50"/><rect x="142.60" y="-39.06" width="37.29" height="62.50"/></g>
<text transform="matrix(0 -0.07774 0.09207 0 224.000 85.752)" font-size="200" font-weight="bold" fill="#000" stroke="#000" stroke-width="2.96" stroke-linejoin="round">(111)</text><g transform="matrix(0 -0.07774 0.09207 0 224.000 85.752)" fill="#fff"><rect x="64.65" y="-39.06" width="46.76" height="62.50"/><rect x="142.59" y="-39.06" width="37.29" height="62.50"/><rect x="175.88" y="-39.06" width="46.76" height="62.50"/><rect x="253.82" y="-39.06" width="37.29" height="62.50"/><rect x="287.11" y="-39.06" width="46.76" height="62.50"/><rect x="365.05" y="-39.06" width="37.29" height="62.50"/></g>
<text transform="matrix(0 -0.07774 0.09414 0 271.000 168.852)" font-size="200" font-weight="bold" fill="#000" stroke="#000" stroke-width="2.92" stroke-linejoin="round">(200)</text>
<text transform="matrix(0 -0.07774 0.09069 0 414.000 190.652)" font-size="200" font-weight="bold" fill="#000" stroke="#000" stroke-width="2.98" stroke-linejoin="round">(220)</text>
<text transform="matrix(0 -0.07774 0.09069 0 506.000 186.952)" font-size="200" font-weight="bold" fill="#000" stroke="#000" stroke-width="2.98" stroke-linejoin="round">(311)</text><g transform="matrix(0 -0.07774 0.09069 0 506.000 186.952)" fill="#fff"><rect x="175.88" y="-39.06" width="46.75" height="62.50"/><rect x="253.83" y="-39.06" width="37.28" height="62.50"/><rect x="287.11" y="-39.06" width="46.75" height="62.50"/><rect x="365.06" y="-39.06" width="37.28" height="62.50"/></g>
<text transform="matrix(0 -0.07774 0.09552 0 545.000 195.352)" font-size="200" font-weight="bold" fill="#000" stroke="#000" stroke-width="2.90" stroke-linejoin="round">(222)</text>
<text transform="matrix(0 -0.07774 0.09207 0 183.000 436.152)" font-size="200" font-weight="bold" fill="#000" stroke="#000" stroke-width="2.96" stroke-linejoin="round">(100)</text><g transform="matrix(0 -0.07774 0.09207 0 183.000 436.152)" fill="#fff"><rect x="64.65" y="-39.06" width="46.76" height="62.50"/><rect x="142.59" y="-39.06" width="37.29" height="62.50"/></g>
<text transform="matrix(0 -0.07774 0.09552 0 225.000 347.752)" font-size="200" font-weight="bold" fill="#000" stroke="#000" stroke-width="2.90" stroke-linejoin="round">(111)</text><g transform="matrix(0 -0.07774 0.09552 0 225.000 347.752)" fill="#fff"><rect x="64.65" y="-39.06" width="46.79" height="62.50"/><rect x="142.56" y="-39.06" width="37.32" height="62.50"/><rect x="175.88" y="-39.06" width="46.79" height="62.50"/><rect x="253.79" y="-39.06" width="37.32" height="62.50"/><rect x="287.11" y="-39.06" width="46.79" height="62.50"/><rect x="365.02" y="-39.06" width="37.32" height="62.50"/></g>
<text transform="matrix(0 -0.07774 0.09276 0 268.000 428.952)" font-size="200" font-weight="bold" fill="#000" stroke="#000" stroke-width="2.94" stroke-linejoin="round">(200)</text>
<text transform="matrix(0 -0.07774 0.09069 0 410.000 455.352)" font-size="200" font-weight="bold" fill="#000" stroke="#000" stroke-width="2.98" stroke-linejoin="round">(220)</text>
<text transform="matrix(0 -0.07774 0.09207 0 502.000 458.652)" font-size="200" font-weight="bold" fill="#000" stroke="#000" stroke-width="2.96" stroke-linejoin="round">(311)</text><g transform="matrix(0 -0.07774 0.09207 0 502.000 458.652)" fill="#fff"><rect x="175.88" y="-39.06" width="46.76" height="62.50"/><rect x="253.82" y="-39.06" width="37.29" height="62.50"/><rect x="287.11" y="-39.06" width="46.76" height="62.50"/><rect x="365.05" y="-39.06" width="37.29" height="62.50"/></g>
<text transform="matrix(0 -0.07774 0.08931 0 535.000 463.752)" font-size="200" font-weight="bold" fill="#000" stroke="#000" stroke-width="3.00" stroke-linejoin="round">(222)</text>
<text transform="matrix(0 -0.07774 0.08931 0 185.000 596.952)" font-size="200" font-weight="bold" fill="#000" stroke="#000" stroke-width="3.00" stroke-linejoin="round">(100)</text><g transform="matrix(0 -0.07774 0.08931 0 185.000 596.952)" fill="#fff"><rect x="64.65" y="-39.06" width="46.74" height="62.50"/><rect x="142.61" y="-39.06" width="37.27" height="62.50"/></g>
<text transform="matrix(0 -0.07774 0.09069 0 229.000 623.652)" font-size="200" font-weight="bold" fill="#000" stroke="#000" stroke-width="2.98" stroke-linejoin="round">(111)</text><g transform="matrix(0 -0.07774 0.09069 0 229.000 623.652)" fill="#fff"><rect x="64.65" y="-39.06" width="46.75" height="62.50"/><rect x="142.60" y="-39.06" width="37.28" height="62.50"/><rect x="175.88" y="-39.06" width="46.75" height="62.50"/><rect x="253.83" y="-39.06" width="37.28" height="62.50"/><rect x="287.11" y="-39.06" width="46.75" height="62.50"/><rect x="365.06" y="-39.06" width="37.28" height="62.50"/></g>
<text transform="matrix(0 -0.07774 0.09414 0 271.000 704.952)" font-size="200" font-weight="bold" fill="#000" stroke="#000" stroke-width="2.92" stroke-linejoin="round">(200)</text>
<text transform="matrix(0.08855 0 0 0.06551 141.871 171.000)" font-size="200" font-weight="bold" fill="#000" stroke="#000" stroke-width="5.51" stroke-linejoin="round">*</text>
<text transform="matrix(0.08395 0 0 0.06877 273.426 180.000)" font-size="200" font-weight="bold" fill="#000" stroke="#000" stroke-width="5.53" stroke-linejoin="round">*</text>
<text transform="matrix(0.08461 0 0 0.06659 334.175 194.000)" font-size="200" font-weight="bold" fill="#000" stroke="#000" stroke-width="5.60" stroke-linejoin="round">*</text>
<text transform="matrix(0.08132 0 0 0.07167 351.129 199.000)" font-size="200" font-weight="bold" fill="#000" stroke="#000" stroke-width="5.50" stroke-linejoin="round">*</text>
<text transform="matrix(0.07605 0 0 0.07094 146.534 711.000)" font-size="200" font-weight="bold" fill="#000" stroke="#000" stroke-width="5.72" stroke-linejoin="round">*</text>
<text transform="matrix(0.07342 0 0 0.06804 279.537 721.000)" font-size="200" font-weight="bold" fill="#000" stroke="#000" stroke-width="5.94" stroke-linejoin="round">*</text>
</g>
</svg>
</body></html>
